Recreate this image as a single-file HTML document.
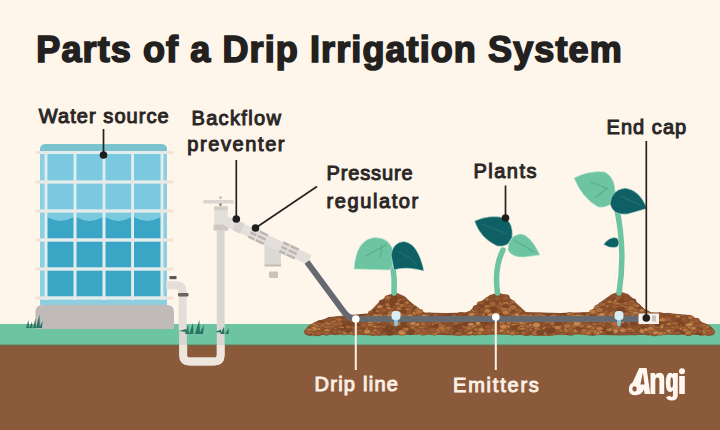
<!DOCTYPE html>
<html><head><meta charset="utf-8">
<style>
html,body{margin:0;padding:0;}
body{width:720px;height:430px;overflow:hidden;background:#FEF5EB;position:relative;font-family:"Liberation Sans",sans-serif;}
svg{position:absolute;left:0;top:0;}
</style></head><body>
<svg width="720" height="430" viewBox="0 0 720 430">
<defs><clipPath id="mc"><path d="M306.0 332.0 L310.0 326.0 L318.0 321.0 L330.0 317.0 L350.0 315.0 L368.0 313.5 L378.0 303.0 L388.0 295.0 L396.0 292.5 L404.0 296.0 L414.0 305.0 L424.0 312.5 L445.0 313.0 L468.0 312.5 L480.0 302.0 L490.0 295.0 L498.0 292.5 L506.0 295.0 L516.0 303.0 L526.0 312.0 L560.0 313.0 L590.0 312.0 L602.0 301.0 L612.0 294.0 L620.0 291.5 L628.0 294.0 L638.0 303.0 L648.0 312.0 L672.0 313.5 L690.0 315.0 L702.0 322.0 L711.0 328.0 L714.0 333.0 L714.0 333.0 L700.0 335.0 L660.0 334.5 L620.0 335.5 L580.0 334.5 L540.0 335.5 L500.0 334.5 L460.0 335.5 L420.0 334.5 L380.0 335.5 L340.0 334.5 L310.0 335.0 Z"/></clipPath></defs>
<rect x="0" y="0" width="720" height="430" fill="#FEF5EB"/>
<rect x="0" y="324" width="720" height="21" fill="#6DC4A1"/>
<rect x="0" y="345" width="720" height="85" fill="#8A5A3B"/>
<rect x="0" y="344.3" width="720" height="2" fill="#6A6B4C" opacity="0.6"/>

<!-- tank base -->
<path d="M35.5 329 V312 Q35.5 305 42.5 305 H167 Q174 305 174 312 V329 Z" fill="#C0BBB8"/>
<!-- tank frame -->
<path d="M40 305 V150 Q40 144 46 144 H161 Q167 144 167 150 V305 Z" fill="#8ECFDF"/>
<path d="M40 152 V150 Q40 144 46 144 H161 Q167 144 167 150 V152 Z" fill="#7CC3D0"/>
<rect x="47.4" y="153.9" width="26.2" height="26.7" fill="#7BC9DF"/>
<rect x="76.4" y="153.9" width="26.2" height="26.7" fill="#7BC9DF"/>
<rect x="105.4" y="153.9" width="25.8" height="26.7" fill="#7BC9DF"/>
<rect x="134.0" y="153.9" width="26.6" height="26.7" fill="#7BC9DF"/>
<rect x="47.4" y="183.4" width="26.2" height="26.2" fill="#7BC9DF"/>
<rect x="76.4" y="183.4" width="26.2" height="26.2" fill="#7BC9DF"/>
<rect x="105.4" y="183.4" width="25.8" height="26.2" fill="#7BC9DF"/>
<rect x="134.0" y="183.4" width="26.6" height="26.2" fill="#7BC9DF"/>
<rect x="47.4" y="212.4" width="26.2" height="26.2" fill="#7BC9DF"/>
<path d="M47.4 217.3 Q60.5 224.5 73.6 217.3 V238.6 H47.4 Z" fill="#3AA5C5"/>
<rect x="76.4" y="212.4" width="26.2" height="26.2" fill="#7BC9DF"/>
<path d="M76.4 217.3 Q89.5 224.5 102.6 217.3 V238.6 H76.4 Z" fill="#3AA5C5"/>
<rect x="105.4" y="212.4" width="25.8" height="26.2" fill="#7BC9DF"/>
<path d="M105.4 217.3 Q118.3 224.5 131.2 217.3 V238.6 H105.4 Z" fill="#3AA5C5"/>
<rect x="134.0" y="212.4" width="26.6" height="26.2" fill="#7BC9DF"/>
<path d="M134.0 217.3 Q147.3 224.5 160.6 217.3 V238.6 H134.0 Z" fill="#3AA5C5"/>
<rect x="47.4" y="241.4" width="26.2" height="26.2" fill="#3AA5C5"/>
<rect x="76.4" y="241.4" width="26.2" height="26.2" fill="#3AA5C5"/>
<rect x="105.4" y="241.4" width="25.8" height="26.2" fill="#3AA5C5"/>
<rect x="134.0" y="241.4" width="26.6" height="26.2" fill="#3AA5C5"/>
<rect x="47.4" y="270.4" width="26.2" height="26.2" fill="#3AA5C5"/>
<rect x="76.4" y="270.4" width="26.2" height="26.2" fill="#3AA5C5"/>
<rect x="105.4" y="270.4" width="25.8" height="26.2" fill="#3AA5C5"/>
<rect x="134.0" y="270.4" width="26.6" height="26.2" fill="#3AA5C5"/>
<rect x="35.5" y="151.1" width="138" height="2.8" fill="#F3E1D6"/>
<rect x="40" y="151.1" width="127" height="2.8" fill="#E0EEEF"/>
<rect x="35.5" y="180.6" width="138" height="2.8" fill="#F3E1D6"/>
<rect x="40" y="180.6" width="127" height="2.8" fill="#E0EEEF"/>
<rect x="35.5" y="209.6" width="138" height="2.8" fill="#F3E1D6"/>
<rect x="40" y="209.6" width="127" height="2.8" fill="#E0EEEF"/>
<rect x="35.5" y="238.6" width="138" height="2.8" fill="#F3E1D6"/>
<rect x="40" y="238.6" width="127" height="2.8" fill="#E0EEEF"/>
<rect x="35.5" y="267.6" width="138" height="2.8" fill="#F3E1D6"/>
<rect x="40" y="267.6" width="127" height="2.8" fill="#E0EEEF"/>
<rect x="35.5" y="296.6" width="138" height="2.8" fill="#F3E1D6"/>
<rect x="40" y="296.6" width="127" height="2.8" fill="#E0EEEF"/>
<rect x="44.6" y="151" width="2.8" height="149" fill="#E0EEEF"/>
<rect x="73.6" y="151" width="2.8" height="149" fill="#E0EEEF"/>
<rect x="102.6" y="151" width="2.8" height="149" fill="#E0EEEF"/>
<rect x="131.2" y="151" width="2.8" height="149" fill="#E0EEEF"/>
<rect x="160.6" y="151" width="2.8" height="149" fill="#E0EEEF"/>
<rect x="44.6" y="151.1" width="2.8" height="2.8" fill="#F2E3DC"/>
<rect x="44.6" y="180.6" width="2.8" height="2.8" fill="#F2E3DC"/>
<rect x="44.6" y="209.6" width="2.8" height="2.8" fill="#F2E3DC"/>
<rect x="44.6" y="238.6" width="2.8" height="2.8" fill="#F2E3DC"/>
<rect x="44.6" y="267.6" width="2.8" height="2.8" fill="#F2E3DC"/>
<rect x="44.6" y="296.6" width="2.8" height="2.8" fill="#F2E3DC"/>
<rect x="73.6" y="151.1" width="2.8" height="2.8" fill="#F2E3DC"/>
<rect x="73.6" y="180.6" width="2.8" height="2.8" fill="#F2E3DC"/>
<rect x="73.6" y="209.6" width="2.8" height="2.8" fill="#F2E3DC"/>
<rect x="73.6" y="238.6" width="2.8" height="2.8" fill="#F2E3DC"/>
<rect x="73.6" y="267.6" width="2.8" height="2.8" fill="#F2E3DC"/>
<rect x="73.6" y="296.6" width="2.8" height="2.8" fill="#F2E3DC"/>
<rect x="102.6" y="151.1" width="2.8" height="2.8" fill="#F2E3DC"/>
<rect x="102.6" y="180.6" width="2.8" height="2.8" fill="#F2E3DC"/>
<rect x="102.6" y="209.6" width="2.8" height="2.8" fill="#F2E3DC"/>
<rect x="102.6" y="238.6" width="2.8" height="2.8" fill="#F2E3DC"/>
<rect x="102.6" y="267.6" width="2.8" height="2.8" fill="#F2E3DC"/>
<rect x="102.6" y="296.6" width="2.8" height="2.8" fill="#F2E3DC"/>
<rect x="131.2" y="151.1" width="2.8" height="2.8" fill="#F2E3DC"/>
<rect x="131.2" y="180.6" width="2.8" height="2.8" fill="#F2E3DC"/>
<rect x="131.2" y="209.6" width="2.8" height="2.8" fill="#F2E3DC"/>
<rect x="131.2" y="238.6" width="2.8" height="2.8" fill="#F2E3DC"/>
<rect x="131.2" y="267.6" width="2.8" height="2.8" fill="#F2E3DC"/>
<rect x="131.2" y="296.6" width="2.8" height="2.8" fill="#F2E3DC"/>
<rect x="160.6" y="151.1" width="2.8" height="2.8" fill="#F2E3DC"/>
<rect x="160.6" y="180.6" width="2.8" height="2.8" fill="#F2E3DC"/>
<rect x="160.6" y="209.6" width="2.8" height="2.8" fill="#F2E3DC"/>
<rect x="160.6" y="238.6" width="2.8" height="2.8" fill="#F2E3DC"/>
<rect x="160.6" y="267.6" width="2.8" height="2.8" fill="#F2E3DC"/>
<rect x="160.6" y="296.6" width="2.8" height="2.8" fill="#F2E3DC"/>

<!-- tank outlet pipe -->
<rect x="169.5" y="276" width="7" height="3.2" fill="#5E5857"/>
<path d="M183 330 V355 Q183 361.5 189.8 361.5 H214.2 Q220.7 361.5 220.7 355 V225" fill="none" stroke="#DAD6D2" stroke-width="7.8"/>
<path d="M166 285.2 H176 Q182.6 285.2 182.6 291.8 V330" fill="none" stroke="#E3DED9" stroke-width="8"/>
<path d="M183.3 345 V355 Q183.3 361.5 189.8 361.5 H214.2 Q220.7 361.5 220.7 355 V345" fill="none" stroke="#EEE5DD" stroke-width="7.8"/>
<rect x="178" y="293" width="10.5" height="3.4" rx="1" fill="#6A6360"/>

<!-- faucet -->
<rect x="203" y="200" width="31" height="3.6" rx="1.5" fill="#DAD6D2"/>
<circle cx="220.5" cy="197.6" r="1.7" fill="#CFC9C4"/>
<rect x="214.3" y="206.5" width="13.4" height="24.5" rx="1.5" fill="#E3DFDB"/>
<rect x="214" y="206.3" width="14" height="4" rx="1.5" fill="#D3CEC9"/>
<circle cx="220.5" cy="204.6" r="1.4" fill="#8A827D"/>
<rect x="213.5" y="224.5" width="15" height="6" rx="1.5" fill="#CFC9C4"/>

<!-- diagonal pipe + regulator -->
<path d="M264.5 243 L281 250 V266 H264.5 Z" fill="#DCD8D4"/>
<rect x="264.5" y="264.5" width="16.5" height="2" fill="#C2BCB7"/>
<rect x="269" y="271.5" width="9" height="6.5" rx="1" fill="#C9C3BE"/>
<g transform="translate(226,221) rotate(25)">
  <rect x="0" y="-5" width="92" height="10" fill="#E3DFDB"/>
  <rect x="10" y="-5.6" width="8" height="11.2" fill="#D9D4D0"/>
  <g fill="#BDB7B2">
    <rect x="27" y="-6" width="17" height="2.6"/><rect x="27" y="-1.3" width="17" height="2.6"/><rect x="27" y="3.4" width="17" height="2.6"/>
    <rect x="33.5" y="-6" width="1.6" height="12" fill="#E3DFDB"/>
    <rect x="61" y="-6" width="17" height="2.6"/><rect x="61" y="-1.3" width="17" height="2.6"/><rect x="61" y="3.4" width="17" height="2.6"/>
    <rect x="67.5" y="-6" width="1.6" height="12" fill="#E3DFDB"/>
  </g>
</g>
<!-- hose -->


<!-- soil -->
<path d="M306.0 332.0 L310.0 326.0 L318.0 321.0 L330.0 317.0 L350.0 315.0 L368.0 313.5 L378.0 303.0 L388.0 295.0 L396.0 292.5 L404.0 296.0 L414.0 305.0 L424.0 312.5 L445.0 313.0 L468.0 312.5 L480.0 302.0 L490.0 295.0 L498.0 292.5 L506.0 295.0 L516.0 303.0 L526.0 312.0 L560.0 313.0 L590.0 312.0 L602.0 301.0 L612.0 294.0 L620.0 291.5 L628.0 294.0 L638.0 303.0 L648.0 312.0 L672.0 313.5 L690.0 315.0 L702.0 322.0 L711.0 328.0 L714.0 333.0 L714.0 333.0 L700.0 335.0 L660.0 334.5 L620.0 335.5 L580.0 334.5 L540.0 335.5 L500.0 334.5 L460.0 335.5 L420.0 334.5 L380.0 335.5 L340.0 334.5 L310.0 335.0 Z" fill="#8A5230"/>
<g>
<ellipse cx="438.8" cy="317.8" rx="3.5" ry="2.0" fill="#A0623A" stroke="#74401F" stroke-width="0.5"/>
<ellipse cx="455.7" cy="316.0" rx="3.3" ry="1.8" fill="#BC7C48" stroke="#74401F" stroke-width="0.5"/>
<ellipse cx="476.9" cy="313.3" rx="3.4" ry="1.9" fill="#A0623A" stroke="#74401F" stroke-width="0.5"/>
<ellipse cx="690.8" cy="327.6" rx="3.4" ry="1.9" fill="#BC7C48" stroke="#74401F" stroke-width="0.5"/>
<ellipse cx="328.0" cy="322.9" rx="3.4" ry="1.9" fill="#BC7C48" stroke="#74401F" stroke-width="0.5"/>
<ellipse cx="366.3" cy="317.9" rx="3.0" ry="2.2" fill="#C4854F" stroke="#74401F" stroke-width="0.5"/>
<ellipse cx="349.6" cy="326.5" rx="2.9" ry="1.6" fill="#A0623A" stroke="#74401F" stroke-width="0.5"/>
<ellipse cx="536.0" cy="326.3" rx="3.3" ry="2.2" fill="#7C4627" stroke="#74401F" stroke-width="0.5"/>
<ellipse cx="496.1" cy="330.6" rx="3.1" ry="1.9" fill="#C4854F" stroke="#74401F" stroke-width="0.5"/>
<ellipse cx="590.4" cy="318.6" rx="3.4" ry="2.2" fill="#7C4627" stroke="#74401F" stroke-width="0.5"/>
<ellipse cx="602.7" cy="311.6" rx="4.0" ry="2.3" fill="#BC7C48" stroke="#74401F" stroke-width="0.5"/>
<ellipse cx="374.6" cy="317.2" rx="3.9" ry="2.5" fill="#A0623A" stroke="#74401F" stroke-width="0.5"/>
<ellipse cx="616.9" cy="316.9" rx="3.8" ry="2.3" fill="#7C4627" stroke="#74401F" stroke-width="0.5"/>
<ellipse cx="548.1" cy="325.7" rx="3.2" ry="2.3" fill="#AC6C40" stroke="#74401F" stroke-width="0.5"/>
<ellipse cx="499.5" cy="320.6" rx="2.7" ry="1.9" fill="#9A5B33" stroke="#74401F" stroke-width="0.5"/>
<ellipse cx="423.0" cy="321.5" rx="3.5" ry="2.0" fill="#9A5B33" stroke="#74401F" stroke-width="0.5"/>
<ellipse cx="451.6" cy="326.3" rx="3.3" ry="2.0" fill="#AC6C40" stroke="#74401F" stroke-width="0.5"/>
<ellipse cx="360.3" cy="320.6" rx="3.1" ry="2.3" fill="#A0623A" stroke="#74401F" stroke-width="0.5"/>
<ellipse cx="375.2" cy="318.3" rx="3.0" ry="1.7" fill="#BC7C48" stroke="#74401F" stroke-width="0.5"/>
<ellipse cx="657.0" cy="320.0" rx="3.2" ry="2.0" fill="#BC7C48" stroke="#74401F" stroke-width="0.5"/>
<ellipse cx="694.9" cy="322.1" rx="2.8" ry="1.7" fill="#8E522D" stroke="#74401F" stroke-width="0.5"/>
<ellipse cx="312.9" cy="332.3" rx="2.9" ry="1.7" fill="#C4854F" stroke="#74401F" stroke-width="0.5"/>
<ellipse cx="477.3" cy="316.5" rx="3.4" ry="2.5" fill="#B3723F" stroke="#74401F" stroke-width="0.5"/>
<ellipse cx="492.5" cy="328.7" rx="3.9" ry="2.7" fill="#BC7C48" stroke="#74401F" stroke-width="0.5"/>
<ellipse cx="468.8" cy="321.7" rx="3.3" ry="2.1" fill="#8E522D" stroke="#74401F" stroke-width="0.5"/>
<ellipse cx="335.2" cy="321.8" rx="2.8" ry="1.7" fill="#B3723F" stroke="#74401F" stroke-width="0.5"/>
<ellipse cx="349.4" cy="326.5" rx="3.4" ry="2.5" fill="#B3723F" stroke="#74401F" stroke-width="0.5"/>
<ellipse cx="336.4" cy="321.7" rx="3.1" ry="2.1" fill="#7C4627" stroke="#74401F" stroke-width="0.5"/>
<ellipse cx="551.3" cy="323.7" rx="2.8" ry="1.8" fill="#9A5B33" stroke="#74401F" stroke-width="0.5"/>
<ellipse cx="502.1" cy="307.7" rx="2.8" ry="2.0" fill="#AC6C40" stroke="#74401F" stroke-width="0.5"/>
<ellipse cx="501.4" cy="321.9" rx="3.3" ry="2.0" fill="#7C4627" stroke="#74401F" stroke-width="0.5"/>
<ellipse cx="367.2" cy="325.4" rx="2.6" ry="1.7" fill="#A0623A" stroke="#74401F" stroke-width="0.5"/>
<ellipse cx="589.3" cy="319.3" rx="3.1" ry="1.8" fill="#8E522D" stroke="#74401F" stroke-width="0.5"/>
<ellipse cx="523.2" cy="328.7" rx="3.1" ry="1.8" fill="#8E522D" stroke="#74401F" stroke-width="0.5"/>
<ellipse cx="633.7" cy="327.6" rx="3.6" ry="2.2" fill="#9A5B33" stroke="#74401F" stroke-width="0.5"/>
<ellipse cx="451.6" cy="315.6" rx="2.6" ry="1.6" fill="#AC6C40" stroke="#74401F" stroke-width="0.5"/>
<ellipse cx="386.2" cy="319.7" rx="3.1" ry="2.2" fill="#7C4627" stroke="#74401F" stroke-width="0.5"/>
<ellipse cx="693.8" cy="324.6" rx="2.9" ry="1.7" fill="#8E522D" stroke="#74401F" stroke-width="0.5"/>
<ellipse cx="444.4" cy="324.0" rx="4.0" ry="2.7" fill="#B3723F" stroke="#74401F" stroke-width="0.5"/>
<ellipse cx="501.7" cy="320.4" rx="3.7" ry="2.1" fill="#A0623A" stroke="#74401F" stroke-width="0.5"/>
<ellipse cx="675.5" cy="329.7" rx="3.7" ry="2.4" fill="#C4854F" stroke="#74401F" stroke-width="0.5"/>
<ellipse cx="483.3" cy="322.0" rx="2.7" ry="2.0" fill="#BC7C48" stroke="#74401F" stroke-width="0.5"/>
<ellipse cx="495.1" cy="323.8" rx="2.7" ry="1.6" fill="#C4854F" stroke="#74401F" stroke-width="0.5"/>
<ellipse cx="319.1" cy="329.1" rx="3.3" ry="2.2" fill="#9A5B33" stroke="#74401F" stroke-width="0.5"/>
<ellipse cx="573.5" cy="321.3" rx="3.4" ry="1.9" fill="#B3723F" stroke="#74401F" stroke-width="0.5"/>
<ellipse cx="630.9" cy="324.0" rx="2.7" ry="1.9" fill="#C4854F" stroke="#74401F" stroke-width="0.5"/>
<ellipse cx="483.3" cy="329.4" rx="3.8" ry="2.2" fill="#AC6C40" stroke="#74401F" stroke-width="0.5"/>
<ellipse cx="394.0" cy="314.5" rx="3.7" ry="2.3" fill="#BC7C48" stroke="#74401F" stroke-width="0.5"/>
<ellipse cx="645.0" cy="312.9" rx="3.6" ry="2.7" fill="#BC7C48" stroke="#74401F" stroke-width="0.5"/>
<ellipse cx="642.2" cy="330.5" rx="2.8" ry="1.6" fill="#B3723F" stroke="#74401F" stroke-width="0.5"/>
<ellipse cx="660.6" cy="329.4" rx="3.5" ry="2.4" fill="#C4854F" stroke="#74401F" stroke-width="0.5"/>
<ellipse cx="377.6" cy="318.8" rx="3.6" ry="2.4" fill="#7C4627" stroke="#74401F" stroke-width="0.5"/>
<ellipse cx="583.7" cy="324.5" rx="3.3" ry="2.3" fill="#B3723F" stroke="#74401F" stroke-width="0.5"/>
<ellipse cx="408.4" cy="310.8" rx="3.7" ry="2.4" fill="#B3723F" stroke="#74401F" stroke-width="0.5"/>
<ellipse cx="615.0" cy="330.2" rx="3.2" ry="2.2" fill="#8E522D" stroke="#74401F" stroke-width="0.5"/>
<ellipse cx="587.9" cy="323.0" rx="3.3" ry="2.2" fill="#8E522D" stroke="#74401F" stroke-width="0.5"/>
<ellipse cx="590.5" cy="331.1" rx="3.9" ry="2.4" fill="#8E522D" stroke="#74401F" stroke-width="0.5"/>
<ellipse cx="647.4" cy="316.3" rx="2.8" ry="1.8" fill="#A0623A" stroke="#74401F" stroke-width="0.5"/>
<ellipse cx="579.1" cy="322.7" rx="2.9" ry="1.8" fill="#A0623A" stroke="#74401F" stroke-width="0.5"/>
<ellipse cx="670.4" cy="318.4" rx="3.6" ry="2.5" fill="#C4854F" stroke="#74401F" stroke-width="0.5"/>
<ellipse cx="410.3" cy="307.9" rx="3.3" ry="2.3" fill="#A0623A" stroke="#74401F" stroke-width="0.5"/>
<ellipse cx="468.9" cy="323.5" rx="4.0" ry="2.9" fill="#C4854F" stroke="#74401F" stroke-width="0.5"/>
<ellipse cx="593.4" cy="333.4" rx="3.2" ry="2.0" fill="#7C4627" stroke="#74401F" stroke-width="0.5"/>
<ellipse cx="436.7" cy="328.4" rx="2.6" ry="1.7" fill="#9A5B33" stroke="#74401F" stroke-width="0.5"/>
<ellipse cx="592.1" cy="320.4" rx="3.3" ry="2.0" fill="#A0623A" stroke="#74401F" stroke-width="0.5"/>
<ellipse cx="353.6" cy="332.1" rx="2.9" ry="2.1" fill="#A0623A" stroke="#74401F" stroke-width="0.5"/>
<ellipse cx="415.3" cy="309.2" rx="3.7" ry="2.2" fill="#C4854F" stroke="#74401F" stroke-width="0.5"/>
<ellipse cx="639.2" cy="329.4" rx="3.5" ry="2.6" fill="#BC7C48" stroke="#74401F" stroke-width="0.5"/>
<ellipse cx="368.3" cy="332.0" rx="3.4" ry="2.3" fill="#A0623A" stroke="#74401F" stroke-width="0.5"/>
<ellipse cx="420.7" cy="329.2" rx="2.9" ry="2.1" fill="#AC6C40" stroke="#74401F" stroke-width="0.5"/>
<ellipse cx="687.1" cy="327.5" rx="3.7" ry="2.1" fill="#8E522D" stroke="#74401F" stroke-width="0.5"/>
<ellipse cx="334.9" cy="331.5" rx="3.2" ry="2.0" fill="#BC7C48" stroke="#74401F" stroke-width="0.5"/>
<ellipse cx="682.4" cy="321.1" rx="2.8" ry="1.8" fill="#8E522D" stroke="#74401F" stroke-width="0.5"/>
<ellipse cx="687.0" cy="333.0" rx="3.0" ry="1.7" fill="#AC6C40" stroke="#74401F" stroke-width="0.5"/>
<ellipse cx="562.0" cy="324.9" rx="2.9" ry="1.8" fill="#C4854F" stroke="#74401F" stroke-width="0.5"/>
<ellipse cx="417.3" cy="328.8" rx="4.0" ry="2.2" fill="#B3723F" stroke="#74401F" stroke-width="0.5"/>
<ellipse cx="604.2" cy="319.2" rx="2.9" ry="1.8" fill="#9A5B33" stroke="#74401F" stroke-width="0.5"/>
<ellipse cx="350.9" cy="330.5" rx="3.2" ry="2.1" fill="#BC7C48" stroke="#74401F" stroke-width="0.5"/>
<ellipse cx="700.0" cy="326.3" rx="2.9" ry="1.7" fill="#8E522D" stroke="#74401F" stroke-width="0.5"/>
<ellipse cx="644.2" cy="326.8" rx="3.5" ry="2.2" fill="#7C4627" stroke="#74401F" stroke-width="0.5"/>
<ellipse cx="704.7" cy="332.3" rx="2.6" ry="1.8" fill="#AC6C40" stroke="#74401F" stroke-width="0.5"/>
<ellipse cx="482.0" cy="304.5" rx="3.5" ry="2.2" fill="#AC6C40" stroke="#74401F" stroke-width="0.5"/>
<ellipse cx="549.9" cy="327.8" rx="2.7" ry="1.6" fill="#AC6C40" stroke="#74401F" stroke-width="0.5"/>
<ellipse cx="488.1" cy="307.7" rx="3.9" ry="2.9" fill="#7C4627" stroke="#74401F" stroke-width="0.5"/>
<ellipse cx="406.8" cy="332.4" rx="3.0" ry="1.9" fill="#B3723F" stroke="#74401F" stroke-width="0.5"/>
<ellipse cx="443.5" cy="316.7" rx="3.0" ry="2.0" fill="#8E522D" stroke="#74401F" stroke-width="0.5"/>
<ellipse cx="511.9" cy="302.1" rx="3.0" ry="1.7" fill="#BC7C48" stroke="#74401F" stroke-width="0.5"/>
<ellipse cx="545.1" cy="322.1" rx="3.0" ry="2.0" fill="#A0623A" stroke="#74401F" stroke-width="0.5"/>
<ellipse cx="544.6" cy="324.7" rx="3.7" ry="2.5" fill="#BC7C48" stroke="#74401F" stroke-width="0.5"/>
<ellipse cx="616.8" cy="322.7" rx="3.3" ry="2.0" fill="#C4854F" stroke="#74401F" stroke-width="0.5"/>
<ellipse cx="325.7" cy="331.4" rx="3.8" ry="2.6" fill="#C4854F" stroke="#74401F" stroke-width="0.5"/>
<ellipse cx="675.6" cy="329.2" rx="3.4" ry="2.4" fill="#B3723F" stroke="#74401F" stroke-width="0.5"/>
<ellipse cx="641.9" cy="323.2" rx="3.8" ry="2.6" fill="#8E522D" stroke="#74401F" stroke-width="0.5"/>
<ellipse cx="342.4" cy="318.6" rx="3.5" ry="2.6" fill="#BC7C48" stroke="#74401F" stroke-width="0.5"/>
<ellipse cx="645.7" cy="324.1" rx="3.5" ry="2.3" fill="#8E522D" stroke="#74401F" stroke-width="0.5"/>
<ellipse cx="505.7" cy="297.2" rx="3.7" ry="2.6" fill="#A0623A" stroke="#74401F" stroke-width="0.5"/>
<ellipse cx="574.4" cy="316.0" rx="3.6" ry="2.2" fill="#A0623A" stroke="#74401F" stroke-width="0.5"/>
<ellipse cx="649.8" cy="318.8" rx="3.7" ry="2.2" fill="#9A5B33" stroke="#74401F" stroke-width="0.5"/>
<ellipse cx="507.6" cy="311.9" rx="3.3" ry="2.2" fill="#B3723F" stroke="#74401F" stroke-width="0.5"/>
<ellipse cx="557.3" cy="326.9" rx="2.7" ry="1.6" fill="#AC6C40" stroke="#74401F" stroke-width="0.5"/>
<ellipse cx="571.2" cy="327.8" rx="3.5" ry="2.0" fill="#9A5B33" stroke="#74401F" stroke-width="0.5"/>
<ellipse cx="332.5" cy="322.9" rx="3.5" ry="2.4" fill="#9A5B33" stroke="#74401F" stroke-width="0.5"/>
<ellipse cx="425.5" cy="324.4" rx="3.3" ry="2.1" fill="#A0623A" stroke="#74401F" stroke-width="0.5"/>
<ellipse cx="709.3" cy="331.5" rx="3.0" ry="1.7" fill="#9A5B33" stroke="#74401F" stroke-width="0.5"/>
<ellipse cx="315.1" cy="328.9" rx="3.7" ry="2.8" fill="#9A5B33" stroke="#74401F" stroke-width="0.5"/>
<ellipse cx="709.6" cy="330.9" rx="3.9" ry="2.9" fill="#A0623A" stroke="#74401F" stroke-width="0.5"/>
<ellipse cx="542.9" cy="317.4" rx="3.3" ry="2.5" fill="#C4854F" stroke="#74401F" stroke-width="0.5"/>
<ellipse cx="551.8" cy="326.7" rx="3.0" ry="1.7" fill="#7C4627" stroke="#74401F" stroke-width="0.5"/>
<ellipse cx="401.5" cy="329.8" rx="3.3" ry="1.8" fill="#B3723F" stroke="#74401F" stroke-width="0.5"/>
<ellipse cx="691.8" cy="328.6" rx="3.2" ry="2.2" fill="#BC7C48" stroke="#74401F" stroke-width="0.5"/>
<ellipse cx="447.0" cy="321.0" rx="3.8" ry="2.1" fill="#7C4627" stroke="#74401F" stroke-width="0.5"/>
<ellipse cx="647.0" cy="315.7" rx="3.9" ry="2.7" fill="#AC6C40" stroke="#74401F" stroke-width="0.5"/>
<ellipse cx="410.3" cy="305.8" rx="3.1" ry="2.3" fill="#A0623A" stroke="#74401F" stroke-width="0.5"/>
<ellipse cx="453.7" cy="322.9" rx="3.0" ry="1.7" fill="#A0623A" stroke="#74401F" stroke-width="0.5"/>
<ellipse cx="328.9" cy="328.8" rx="3.5" ry="2.0" fill="#AC6C40" stroke="#74401F" stroke-width="0.5"/>
<ellipse cx="484.2" cy="311.4" rx="3.7" ry="2.6" fill="#BC7C48" stroke="#74401F" stroke-width="0.5"/>
<ellipse cx="665.2" cy="330.1" rx="3.5" ry="2.6" fill="#8E522D" stroke="#74401F" stroke-width="0.5"/>
<ellipse cx="598.7" cy="307.6" rx="3.6" ry="2.3" fill="#C4854F" stroke="#74401F" stroke-width="0.5"/>
<ellipse cx="568.4" cy="320.2" rx="2.7" ry="2.0" fill="#C4854F" stroke="#74401F" stroke-width="0.5"/>
<ellipse cx="377.0" cy="317.6" rx="3.0" ry="1.8" fill="#AC6C40" stroke="#74401F" stroke-width="0.5"/>
<ellipse cx="472.1" cy="316.4" rx="3.3" ry="2.2" fill="#A0623A" stroke="#74401F" stroke-width="0.5"/>
<ellipse cx="375.6" cy="311.9" rx="2.9" ry="2.1" fill="#9A5B33" stroke="#74401F" stroke-width="0.5"/>
<ellipse cx="530.4" cy="323.0" rx="3.1" ry="2.2" fill="#BC7C48" stroke="#74401F" stroke-width="0.5"/>
<ellipse cx="364.4" cy="319.4" rx="2.7" ry="1.7" fill="#A0623A" stroke="#74401F" stroke-width="0.5"/>
<ellipse cx="437.0" cy="321.8" rx="3.7" ry="2.2" fill="#B3723F" stroke="#74401F" stroke-width="0.5"/>
<ellipse cx="610.9" cy="312.1" rx="3.2" ry="2.1" fill="#BC7C48" stroke="#74401F" stroke-width="0.5"/>
<ellipse cx="417.2" cy="327.6" rx="3.3" ry="2.2" fill="#7C4627" stroke="#74401F" stroke-width="0.5"/>
<ellipse cx="358.9" cy="325.0" rx="3.5" ry="2.5" fill="#8E522D" stroke="#74401F" stroke-width="0.5"/>
<ellipse cx="345.4" cy="331.9" rx="3.1" ry="2.1" fill="#BC7C48" stroke="#74401F" stroke-width="0.5"/>
<ellipse cx="693.4" cy="331.3" rx="3.8" ry="2.1" fill="#B3723F" stroke="#74401F" stroke-width="0.5"/>
<ellipse cx="479.8" cy="326.6" rx="3.7" ry="2.8" fill="#9A5B33" stroke="#74401F" stroke-width="0.5"/>
<ellipse cx="308.1" cy="332.0" rx="3.9" ry="2.8" fill="#9A5B33" stroke="#74401F" stroke-width="0.5"/>
<ellipse cx="700.8" cy="326.0" rx="2.8" ry="1.6" fill="#A0623A" stroke="#74401F" stroke-width="0.5"/>
<ellipse cx="688.4" cy="328.9" rx="3.5" ry="2.5" fill="#9A5B33" stroke="#74401F" stroke-width="0.5"/>
<ellipse cx="342.3" cy="330.0" rx="2.6" ry="1.5" fill="#B3723F" stroke="#74401F" stroke-width="0.5"/>
<ellipse cx="568.8" cy="320.6" rx="2.8" ry="1.7" fill="#BC7C48" stroke="#74401F" stroke-width="0.5"/>
<ellipse cx="590.2" cy="316.2" rx="2.7" ry="1.8" fill="#8E522D" stroke="#74401F" stroke-width="0.5"/>
<ellipse cx="464.8" cy="319.0" rx="3.4" ry="1.9" fill="#AC6C40" stroke="#74401F" stroke-width="0.5"/>
<ellipse cx="710.5" cy="330.9" rx="3.0" ry="2.2" fill="#8E522D" stroke="#74401F" stroke-width="0.5"/>
<ellipse cx="500.0" cy="304.3" rx="2.9" ry="2.2" fill="#AC6C40" stroke="#74401F" stroke-width="0.5"/>
<ellipse cx="330.3" cy="321.9" rx="3.8" ry="2.6" fill="#A0623A" stroke="#74401F" stroke-width="0.5"/>
<ellipse cx="411.9" cy="324.1" rx="3.9" ry="2.3" fill="#B3723F" stroke="#74401F" stroke-width="0.5"/>
<ellipse cx="589.1" cy="328.1" rx="3.1" ry="2.0" fill="#B3723F" stroke="#74401F" stroke-width="0.5"/>
<ellipse cx="630.0" cy="324.2" rx="3.3" ry="2.0" fill="#8E522D" stroke="#74401F" stroke-width="0.5"/>
<ellipse cx="433.9" cy="330.2" rx="2.9" ry="1.7" fill="#AC6C40" stroke="#74401F" stroke-width="0.5"/>
<ellipse cx="352.0" cy="327.3" rx="3.5" ry="2.5" fill="#9A5B33" stroke="#74401F" stroke-width="0.5"/>
<ellipse cx="476.5" cy="324.7" rx="3.9" ry="2.3" fill="#BC7C48" stroke="#74401F" stroke-width="0.5"/>
<ellipse cx="330.0" cy="319.6" rx="3.4" ry="2.2" fill="#B3723F" stroke="#74401F" stroke-width="0.5"/>
<ellipse cx="382.4" cy="316.0" rx="3.6" ry="2.2" fill="#A0623A" stroke="#74401F" stroke-width="0.5"/>
<ellipse cx="711.0" cy="333.3" rx="3.1" ry="1.8" fill="#9A5B33" stroke="#74401F" stroke-width="0.5"/>
<ellipse cx="320.9" cy="329.7" rx="3.1" ry="2.0" fill="#7C4627" stroke="#74401F" stroke-width="0.5"/>
<ellipse cx="486.7" cy="303.2" rx="2.7" ry="1.5" fill="#BC7C48" stroke="#74401F" stroke-width="0.5"/>
<ellipse cx="694.0" cy="321.3" rx="3.9" ry="2.3" fill="#7C4627" stroke="#74401F" stroke-width="0.5"/>
<ellipse cx="618.6" cy="306.3" rx="3.7" ry="2.1" fill="#9A5B33" stroke="#74401F" stroke-width="0.5"/>
<ellipse cx="387.1" cy="317.2" rx="3.2" ry="2.0" fill="#9A5B33" stroke="#74401F" stroke-width="0.5"/>
<ellipse cx="320.2" cy="327.0" rx="3.7" ry="2.6" fill="#B3723F" stroke="#74401F" stroke-width="0.5"/>
<ellipse cx="459.7" cy="323.5" rx="3.7" ry="2.1" fill="#8E522D" stroke="#74401F" stroke-width="0.5"/>
<ellipse cx="609.9" cy="329.9" rx="3.1" ry="1.9" fill="#B3723F" stroke="#74401F" stroke-width="0.5"/>
<ellipse cx="413.9" cy="326.0" rx="3.0" ry="1.8" fill="#B3723F" stroke="#74401F" stroke-width="0.5"/>
<ellipse cx="599.5" cy="322.2" rx="3.7" ry="2.8" fill="#A0623A" stroke="#74401F" stroke-width="0.5"/>
<ellipse cx="317.8" cy="325.7" rx="3.3" ry="2.4" fill="#BC7C48" stroke="#74401F" stroke-width="0.5"/>
<ellipse cx="627.1" cy="330.3" rx="3.7" ry="2.2" fill="#9A5B33" stroke="#74401F" stroke-width="0.5"/>
<ellipse cx="381.9" cy="327.3" rx="3.6" ry="2.6" fill="#C4854F" stroke="#74401F" stroke-width="0.5"/>
<ellipse cx="553.3" cy="321.1" rx="3.0" ry="1.9" fill="#A0623A" stroke="#74401F" stroke-width="0.5"/>
<ellipse cx="514.8" cy="315.7" rx="2.8" ry="1.8" fill="#B3723F" stroke="#74401F" stroke-width="0.5"/>
<ellipse cx="502.6" cy="316.5" rx="2.8" ry="1.8" fill="#A0623A" stroke="#74401F" stroke-width="0.5"/>
<ellipse cx="707.1" cy="329.2" rx="2.7" ry="1.5" fill="#9A5B33" stroke="#74401F" stroke-width="0.5"/>
<ellipse cx="707.3" cy="333.3" rx="2.8" ry="1.6" fill="#9A5B33" stroke="#74401F" stroke-width="0.5"/>
<ellipse cx="558.6" cy="327.5" rx="3.6" ry="2.6" fill="#A0623A" stroke="#74401F" stroke-width="0.5"/>
<ellipse cx="623.0" cy="306.1" rx="3.0" ry="1.8" fill="#AC6C40" stroke="#74401F" stroke-width="0.5"/>
<ellipse cx="606.2" cy="306.9" rx="2.9" ry="1.8" fill="#C4854F" stroke="#74401F" stroke-width="0.5"/>
<ellipse cx="421.7" cy="331.6" rx="2.9" ry="1.6" fill="#AC6C40" stroke="#74401F" stroke-width="0.5"/>
<ellipse cx="708.9" cy="331.2" rx="2.9" ry="2.1" fill="#9A5B33" stroke="#74401F" stroke-width="0.5"/>
<ellipse cx="708.3" cy="328.9" rx="3.3" ry="2.3" fill="#9A5B33" stroke="#74401F" stroke-width="0.5"/>
<ellipse cx="677.4" cy="316.9" rx="3.0" ry="1.7" fill="#8E522D" stroke="#74401F" stroke-width="0.5"/>
<ellipse cx="550.6" cy="330.3" rx="2.9" ry="1.6" fill="#C4854F" stroke="#74401F" stroke-width="0.5"/>
<ellipse cx="489.4" cy="306.9" rx="3.7" ry="2.7" fill="#A0623A" stroke="#74401F" stroke-width="0.5"/>
<ellipse cx="565.5" cy="328.1" rx="3.1" ry="1.7" fill="#7C4627" stroke="#74401F" stroke-width="0.5"/>
<ellipse cx="365.1" cy="319.5" rx="3.0" ry="2.0" fill="#8E522D" stroke="#74401F" stroke-width="0.5"/>
<ellipse cx="637.2" cy="328.2" rx="3.2" ry="2.0" fill="#AC6C40" stroke="#74401F" stroke-width="0.5"/>
<ellipse cx="339.5" cy="318.7" rx="3.3" ry="2.1" fill="#BC7C48" stroke="#74401F" stroke-width="0.5"/>
<ellipse cx="349.0" cy="323.7" rx="3.4" ry="2.3" fill="#A0623A" stroke="#74401F" stroke-width="0.5"/>
<ellipse cx="571.8" cy="322.2" rx="3.0" ry="2.2" fill="#AC6C40" stroke="#74401F" stroke-width="0.5"/>
<ellipse cx="476.8" cy="308.4" rx="3.6" ry="2.6" fill="#BC7C48" stroke="#74401F" stroke-width="0.5"/>
<ellipse cx="476.2" cy="330.0" rx="4.0" ry="2.5" fill="#8E522D" stroke="#74401F" stroke-width="0.5"/>
<ellipse cx="465.9" cy="322.3" rx="3.9" ry="2.5" fill="#C4854F" stroke="#74401F" stroke-width="0.5"/>
<ellipse cx="479.2" cy="328.4" rx="3.2" ry="2.3" fill="#9A5B33" stroke="#74401F" stroke-width="0.5"/>
<ellipse cx="620.3" cy="299.0" rx="2.7" ry="1.5" fill="#BC7C48" stroke="#74401F" stroke-width="0.5"/>
<ellipse cx="344.0" cy="327.6" rx="3.1" ry="2.0" fill="#C4854F" stroke="#74401F" stroke-width="0.5"/>
<ellipse cx="448.6" cy="318.1" rx="2.8" ry="1.6" fill="#BC7C48" stroke="#74401F" stroke-width="0.5"/>
<ellipse cx="506.2" cy="326.4" rx="4.0" ry="2.3" fill="#C4854F" stroke="#74401F" stroke-width="0.5"/>
<ellipse cx="646.3" cy="313.5" rx="3.9" ry="2.4" fill="#BC7C48" stroke="#74401F" stroke-width="0.5"/>
<ellipse cx="342.9" cy="329.0" rx="3.6" ry="2.6" fill="#8E522D" stroke="#74401F" stroke-width="0.5"/>
<ellipse cx="558.9" cy="326.4" rx="2.9" ry="1.9" fill="#8E522D" stroke="#74401F" stroke-width="0.5"/>
<ellipse cx="324.9" cy="332.7" rx="2.8" ry="1.8" fill="#C4854F" stroke="#74401F" stroke-width="0.5"/>
<ellipse cx="407.8" cy="324.7" rx="3.9" ry="2.2" fill="#B3723F" stroke="#74401F" stroke-width="0.5"/>
<ellipse cx="577.8" cy="320.7" rx="3.1" ry="2.0" fill="#AC6C40" stroke="#74401F" stroke-width="0.5"/>
<ellipse cx="570.2" cy="320.6" rx="2.9" ry="1.9" fill="#7C4627" stroke="#74401F" stroke-width="0.5"/>
<ellipse cx="488.5" cy="313.7" rx="2.6" ry="1.8" fill="#9A5B33" stroke="#74401F" stroke-width="0.5"/>
<ellipse cx="496.0" cy="312.4" rx="3.5" ry="2.5" fill="#C4854F" stroke="#74401F" stroke-width="0.5"/>
<ellipse cx="635.5" cy="315.2" rx="2.7" ry="1.7" fill="#7C4627" stroke="#74401F" stroke-width="0.5"/>
<ellipse cx="345.1" cy="324.7" rx="3.3" ry="1.8" fill="#C4854F" stroke="#74401F" stroke-width="0.5"/>
<ellipse cx="341.2" cy="329.4" rx="3.7" ry="2.4" fill="#B3723F" stroke="#74401F" stroke-width="0.5"/>
<ellipse cx="611.8" cy="329.6" rx="3.5" ry="2.5" fill="#B3723F" stroke="#74401F" stroke-width="0.5"/>
<ellipse cx="654.3" cy="333.4" rx="3.6" ry="2.6" fill="#8E522D" stroke="#74401F" stroke-width="0.5"/>
<ellipse cx="361.2" cy="331.5" rx="3.0" ry="2.1" fill="#C4854F" stroke="#74401F" stroke-width="0.5"/>
<ellipse cx="585.2" cy="328.2" rx="2.9" ry="2.1" fill="#AC6C40" stroke="#74401F" stroke-width="0.5"/>
<ellipse cx="372.1" cy="331.2" rx="3.0" ry="2.1" fill="#C4854F" stroke="#74401F" stroke-width="0.5"/>
<ellipse cx="410.7" cy="332.5" rx="3.3" ry="2.2" fill="#8E522D" stroke="#74401F" stroke-width="0.5"/>
<ellipse cx="436.9" cy="315.7" rx="2.9" ry="1.7" fill="#AC6C40" stroke="#74401F" stroke-width="0.5"/>
<ellipse cx="582.6" cy="331.5" rx="2.8" ry="2.0" fill="#A0623A" stroke="#74401F" stroke-width="0.5"/>
<ellipse cx="618.4" cy="296.1" rx="3.8" ry="2.8" fill="#9A5B33" stroke="#74401F" stroke-width="0.5"/>
<ellipse cx="532.3" cy="325.5" rx="3.8" ry="2.2" fill="#BC7C48" stroke="#74401F" stroke-width="0.5"/>
<ellipse cx="606.1" cy="312.6" rx="3.1" ry="1.9" fill="#C4854F" stroke="#74401F" stroke-width="0.5"/>
<ellipse cx="453.5" cy="329.1" rx="3.2" ry="1.9" fill="#B3723F" stroke="#74401F" stroke-width="0.5"/>
<ellipse cx="427.7" cy="324.4" rx="3.0" ry="2.3" fill="#7C4627" stroke="#74401F" stroke-width="0.5"/>
<ellipse cx="604.1" cy="325.5" rx="2.9" ry="1.8" fill="#BC7C48" stroke="#74401F" stroke-width="0.5"/>
<ellipse cx="476.7" cy="316.7" rx="2.7" ry="1.7" fill="#B3723F" stroke="#74401F" stroke-width="0.5"/>
<ellipse cx="317.0" cy="323.8" rx="3.1" ry="1.8" fill="#7C4627" stroke="#74401F" stroke-width="0.5"/>
<ellipse cx="523.8" cy="321.0" rx="3.0" ry="1.7" fill="#7C4627" stroke="#74401F" stroke-width="0.5"/>
<ellipse cx="560.1" cy="323.9" rx="2.8" ry="2.1" fill="#8E522D" stroke="#74401F" stroke-width="0.5"/>
<ellipse cx="593.8" cy="321.0" rx="2.7" ry="1.6" fill="#AC6C40" stroke="#74401F" stroke-width="0.5"/>
<ellipse cx="470.4" cy="318.1" rx="2.6" ry="1.8" fill="#7C4627" stroke="#74401F" stroke-width="0.5"/>
<ellipse cx="548.3" cy="325.6" rx="3.4" ry="2.2" fill="#9A5B33" stroke="#74401F" stroke-width="0.5"/>
<ellipse cx="408.4" cy="330.5" rx="2.7" ry="1.7" fill="#BC7C48" stroke="#74401F" stroke-width="0.5"/>
<ellipse cx="383.0" cy="306.3" rx="3.9" ry="2.2" fill="#8E522D" stroke="#74401F" stroke-width="0.5"/>
<ellipse cx="365.5" cy="319.4" rx="3.5" ry="2.2" fill="#BC7C48" stroke="#74401F" stroke-width="0.5"/>
<ellipse cx="636.6" cy="309.1" rx="3.0" ry="1.9" fill="#B3723F" stroke="#74401F" stroke-width="0.5"/>
<ellipse cx="709.6" cy="332.3" rx="3.3" ry="2.2" fill="#BC7C48" stroke="#74401F" stroke-width="0.5"/>
<ellipse cx="649.2" cy="328.6" rx="3.3" ry="2.3" fill="#9A5B33" stroke="#74401F" stroke-width="0.5"/>
<ellipse cx="378.9" cy="333.4" rx="3.0" ry="2.0" fill="#A0623A" stroke="#74401F" stroke-width="0.5"/>
<ellipse cx="443.5" cy="328.9" rx="3.6" ry="2.6" fill="#B3723F" stroke="#74401F" stroke-width="0.5"/>
<ellipse cx="415.5" cy="322.3" rx="3.2" ry="2.3" fill="#AC6C40" stroke="#74401F" stroke-width="0.5"/>
<ellipse cx="427.4" cy="332.2" rx="3.9" ry="2.2" fill="#B3723F" stroke="#74401F" stroke-width="0.5"/>
<ellipse cx="376.6" cy="330.9" rx="3.8" ry="2.2" fill="#C4854F" stroke="#74401F" stroke-width="0.5"/>
<ellipse cx="609.4" cy="309.6" rx="3.8" ry="2.4" fill="#8E522D" stroke="#74401F" stroke-width="0.5"/>
<ellipse cx="461.3" cy="330.7" rx="3.9" ry="2.9" fill="#9A5B33" stroke="#74401F" stroke-width="0.5"/>
<ellipse cx="498.7" cy="315.4" rx="2.6" ry="1.4" fill="#8E522D" stroke="#74401F" stroke-width="0.5"/>
<ellipse cx="538.4" cy="320.4" rx="2.9" ry="2.0" fill="#A0623A" stroke="#74401F" stroke-width="0.5"/>
<ellipse cx="536.3" cy="317.8" rx="2.6" ry="1.5" fill="#C4854F" stroke="#74401F" stroke-width="0.5"/>
<ellipse cx="447.3" cy="317.8" rx="2.6" ry="1.5" fill="#B3723F" stroke="#74401F" stroke-width="0.5"/>
<ellipse cx="589.6" cy="328.4" rx="2.7" ry="1.8" fill="#7C4627" stroke="#74401F" stroke-width="0.5"/>
<ellipse cx="388.5" cy="331.8" rx="3.3" ry="2.3" fill="#BC7C48" stroke="#74401F" stroke-width="0.5"/>
<ellipse cx="351.3" cy="320.5" rx="2.8" ry="1.5" fill="#A0623A" stroke="#74401F" stroke-width="0.5"/>
<ellipse cx="641.3" cy="324.2" rx="3.0" ry="1.7" fill="#A0623A" stroke="#74401F" stroke-width="0.5"/>
<ellipse cx="628.0" cy="320.3" rx="3.0" ry="1.9" fill="#AC6C40" stroke="#74401F" stroke-width="0.5"/>
<ellipse cx="316.5" cy="326.6" rx="3.0" ry="2.1" fill="#7C4627" stroke="#74401F" stroke-width="0.5"/>
<ellipse cx="675.8" cy="329.5" rx="3.4" ry="2.2" fill="#AC6C40" stroke="#74401F" stroke-width="0.5"/>
<ellipse cx="557.8" cy="315.7" rx="3.2" ry="2.0" fill="#A0623A" stroke="#74401F" stroke-width="0.5"/>
<ellipse cx="448.1" cy="328.1" rx="3.4" ry="2.0" fill="#A0623A" stroke="#74401F" stroke-width="0.5"/>
<ellipse cx="540.1" cy="320.0" rx="3.2" ry="2.1" fill="#AC6C40" stroke="#74401F" stroke-width="0.5"/>
<ellipse cx="615.9" cy="332.6" rx="2.6" ry="1.7" fill="#9A5B33" stroke="#74401F" stroke-width="0.5"/>
<ellipse cx="588.9" cy="330.1" rx="4.0" ry="2.6" fill="#AC6C40" stroke="#74401F" stroke-width="0.5"/>
<ellipse cx="541.5" cy="317.7" rx="3.7" ry="2.8" fill="#8E522D" stroke="#74401F" stroke-width="0.5"/>
<ellipse cx="509.3" cy="303.6" rx="3.5" ry="2.0" fill="#A0623A" stroke="#74401F" stroke-width="0.5"/>
<ellipse cx="561.7" cy="321.7" rx="3.2" ry="2.0" fill="#A0623A" stroke="#74401F" stroke-width="0.5"/>
<ellipse cx="478.5" cy="323.6" rx="3.1" ry="1.9" fill="#BC7C48" stroke="#74401F" stroke-width="0.5"/>
<ellipse cx="672.1" cy="324.6" rx="3.1" ry="2.3" fill="#8E522D" stroke="#74401F" stroke-width="0.5"/>
<ellipse cx="689.3" cy="319.2" rx="3.4" ry="2.4" fill="#B3723F" stroke="#74401F" stroke-width="0.5"/>
<ellipse cx="448.8" cy="321.1" rx="2.8" ry="2.0" fill="#7C4627" stroke="#74401F" stroke-width="0.5"/>
<ellipse cx="376.5" cy="318.5" rx="3.7" ry="2.5" fill="#C4854F" stroke="#74401F" stroke-width="0.5"/>
<ellipse cx="443.0" cy="326.9" rx="3.6" ry="2.3" fill="#AC6C40" stroke="#74401F" stroke-width="0.5"/>
<ellipse cx="429.8" cy="328.0" rx="3.8" ry="2.2" fill="#C4854F" stroke="#74401F" stroke-width="0.5"/>
<ellipse cx="701.8" cy="330.9" rx="3.4" ry="2.1" fill="#8E522D" stroke="#74401F" stroke-width="0.5"/>
<ellipse cx="440.5" cy="318.6" rx="4.0" ry="2.8" fill="#A0623A" stroke="#74401F" stroke-width="0.5"/>
<ellipse cx="374.5" cy="325.1" rx="2.9" ry="1.7" fill="#C4854F" stroke="#74401F" stroke-width="0.5"/>
<ellipse cx="629.1" cy="323.8" rx="3.2" ry="1.9" fill="#A0623A" stroke="#74401F" stroke-width="0.5"/>
<ellipse cx="421.4" cy="331.1" rx="3.2" ry="1.8" fill="#BC7C48" stroke="#74401F" stroke-width="0.5"/>
<ellipse cx="588.1" cy="323.9" rx="3.5" ry="2.2" fill="#C4854F" stroke="#74401F" stroke-width="0.5"/>
<ellipse cx="411.9" cy="326.1" rx="2.6" ry="1.6" fill="#BC7C48" stroke="#74401F" stroke-width="0.5"/>
<ellipse cx="591.3" cy="325.1" rx="3.5" ry="2.5" fill="#8E522D" stroke="#74401F" stroke-width="0.5"/>
<ellipse cx="582.6" cy="326.7" rx="3.2" ry="2.0" fill="#A0623A" stroke="#74401F" stroke-width="0.5"/>
<ellipse cx="669.5" cy="319.9" rx="3.2" ry="2.2" fill="#C4854F" stroke="#74401F" stroke-width="0.5"/>
<ellipse cx="409.0" cy="315.8" rx="3.2" ry="2.2" fill="#BC7C48" stroke="#74401F" stroke-width="0.5"/>
<ellipse cx="517.4" cy="324.3" rx="3.8" ry="2.8" fill="#7C4627" stroke="#74401F" stroke-width="0.5"/>
<ellipse cx="622.4" cy="309.6" rx="3.3" ry="2.4" fill="#B3723F" stroke="#74401F" stroke-width="0.5"/>
<ellipse cx="409.5" cy="309.8" rx="3.6" ry="2.7" fill="#8E522D" stroke="#74401F" stroke-width="0.5"/>
<ellipse cx="517.8" cy="309.5" rx="3.4" ry="2.2" fill="#9A5B33" stroke="#74401F" stroke-width="0.5"/>
<ellipse cx="514.9" cy="323.0" rx="3.8" ry="2.5" fill="#BC7C48" stroke="#74401F" stroke-width="0.5"/>
<ellipse cx="607.8" cy="314.8" rx="4.0" ry="2.3" fill="#A0623A" stroke="#74401F" stroke-width="0.5"/>
<ellipse cx="602.6" cy="321.7" rx="3.5" ry="2.1" fill="#BC7C48" stroke="#74401F" stroke-width="0.5"/>
<ellipse cx="469.5" cy="313.7" rx="3.2" ry="2.0" fill="#7C4627" stroke="#74401F" stroke-width="0.5"/>
<ellipse cx="542.4" cy="316.7" rx="3.0" ry="1.9" fill="#8E522D" stroke="#74401F" stroke-width="0.5"/>
<ellipse cx="709.7" cy="333.3" rx="3.2" ry="1.9" fill="#A0623A" stroke="#74401F" stroke-width="0.5"/>
<ellipse cx="635.1" cy="322.2" rx="3.3" ry="2.2" fill="#8E522D" stroke="#74401F" stroke-width="0.5"/>
<ellipse cx="637.1" cy="308.7" rx="3.5" ry="2.5" fill="#BC7C48" stroke="#74401F" stroke-width="0.5"/>
<ellipse cx="497.1" cy="306.3" rx="3.4" ry="1.9" fill="#9A5B33" stroke="#74401F" stroke-width="0.5"/>
<ellipse cx="451.3" cy="330.7" rx="3.0" ry="1.9" fill="#AC6C40" stroke="#74401F" stroke-width="0.5"/>
<ellipse cx="705.1" cy="331.2" rx="3.3" ry="2.3" fill="#AC6C40" stroke="#74401F" stroke-width="0.5"/>
<ellipse cx="452.6" cy="327.1" rx="3.0" ry="2.0" fill="#A0623A" stroke="#74401F" stroke-width="0.5"/>
<ellipse cx="574.3" cy="321.5" rx="3.9" ry="2.8" fill="#B3723F" stroke="#74401F" stroke-width="0.5"/>
<ellipse cx="342.5" cy="326.7" rx="3.1" ry="2.3" fill="#7C4627" stroke="#74401F" stroke-width="0.5"/>
<ellipse cx="563.8" cy="315.3" rx="2.6" ry="1.9" fill="#AC6C40" stroke="#74401F" stroke-width="0.5"/>
<ellipse cx="409.0" cy="305.8" rx="2.8" ry="1.7" fill="#9A5B33" stroke="#74401F" stroke-width="0.5"/>
<ellipse cx="448.0" cy="317.9" rx="3.9" ry="2.7" fill="#C4854F" stroke="#74401F" stroke-width="0.5"/>
<ellipse cx="554.2" cy="327.7" rx="4.0" ry="2.3" fill="#AC6C40" stroke="#74401F" stroke-width="0.5"/>
<ellipse cx="387.7" cy="322.4" rx="3.3" ry="2.3" fill="#9A5B33" stroke="#74401F" stroke-width="0.5"/>
<ellipse cx="579.2" cy="316.8" rx="2.8" ry="1.8" fill="#C4854F" stroke="#74401F" stroke-width="0.5"/>
<ellipse cx="499.2" cy="316.5" rx="3.3" ry="2.4" fill="#9A5B33" stroke="#74401F" stroke-width="0.5"/>
<ellipse cx="407.6" cy="306.7" rx="3.4" ry="2.4" fill="#C4854F" stroke="#74401F" stroke-width="0.5"/>
<ellipse cx="647.7" cy="323.1" rx="3.4" ry="2.3" fill="#9A5B33" stroke="#74401F" stroke-width="0.5"/>
<ellipse cx="459.5" cy="322.7" rx="3.9" ry="2.2" fill="#7C4627" stroke="#74401F" stroke-width="0.5"/>
<ellipse cx="565.0" cy="315.6" rx="3.5" ry="2.4" fill="#7C4627" stroke="#74401F" stroke-width="0.5"/>
<ellipse cx="634.7" cy="305.1" rx="3.3" ry="2.3" fill="#C4854F" stroke="#74401F" stroke-width="0.5"/>
<ellipse cx="321.7" cy="330.3" rx="3.5" ry="2.1" fill="#7C4627" stroke="#74401F" stroke-width="0.5"/>
<ellipse cx="445.9" cy="329.4" rx="3.4" ry="2.5" fill="#AC6C40" stroke="#74401F" stroke-width="0.5"/>
<ellipse cx="483.8" cy="315.0" rx="3.4" ry="2.4" fill="#AC6C40" stroke="#74401F" stroke-width="0.5"/>
<ellipse cx="451.5" cy="324.2" rx="3.1" ry="2.3" fill="#7C4627" stroke="#74401F" stroke-width="0.5"/>
<ellipse cx="701.9" cy="330.3" rx="3.7" ry="2.3" fill="#7C4627" stroke="#74401F" stroke-width="0.5"/>
<ellipse cx="596.1" cy="311.8" rx="4.0" ry="2.2" fill="#B3723F" stroke="#74401F" stroke-width="0.5"/>
<ellipse cx="469.1" cy="324.7" rx="3.2" ry="2.1" fill="#BC7C48" stroke="#74401F" stroke-width="0.5"/>
<ellipse cx="429.4" cy="314.9" rx="2.9" ry="2.1" fill="#B3723F" stroke="#74401F" stroke-width="0.5"/>
<ellipse cx="626.8" cy="330.1" rx="3.5" ry="2.3" fill="#A0623A" stroke="#74401F" stroke-width="0.5"/>
<ellipse cx="393.9" cy="320.8" rx="3.2" ry="2.3" fill="#A0623A" stroke="#74401F" stroke-width="0.5"/>
<ellipse cx="576.1" cy="331.0" rx="3.2" ry="1.8" fill="#B3723F" stroke="#74401F" stroke-width="0.5"/>
<ellipse cx="457.0" cy="330.2" rx="3.7" ry="2.5" fill="#AC6C40" stroke="#74401F" stroke-width="0.5"/>
<ellipse cx="656.4" cy="318.2" rx="2.6" ry="1.5" fill="#B3723F" stroke="#74401F" stroke-width="0.5"/>
<ellipse cx="509.1" cy="317.3" rx="3.8" ry="2.6" fill="#BC7C48" stroke="#74401F" stroke-width="0.5"/>
<ellipse cx="540.4" cy="332.0" rx="3.2" ry="1.8" fill="#BC7C48" stroke="#74401F" stroke-width="0.5"/>
<ellipse cx="547.9" cy="333.4" rx="3.5" ry="2.0" fill="#BC7C48" stroke="#74401F" stroke-width="0.5"/>
<ellipse cx="529.7" cy="315.9" rx="3.3" ry="2.4" fill="#B3723F" stroke="#74401F" stroke-width="0.5"/>
<ellipse cx="480.5" cy="304.1" rx="3.5" ry="2.6" fill="#A0623A" stroke="#74401F" stroke-width="0.5"/>
<ellipse cx="396.2" cy="299.5" rx="3.3" ry="2.0" fill="#8E522D" stroke="#74401F" stroke-width="0.5"/>
<ellipse cx="490.1" cy="324.2" rx="3.9" ry="2.4" fill="#C4854F" stroke="#74401F" stroke-width="0.5"/>
<ellipse cx="602.8" cy="305.2" rx="3.5" ry="2.4" fill="#9A5B33" stroke="#74401F" stroke-width="0.5"/>
<ellipse cx="578.5" cy="331.4" rx="3.9" ry="2.2" fill="#B3723F" stroke="#74401F" stroke-width="0.5"/>
<ellipse cx="312.6" cy="326.7" rx="3.5" ry="2.5" fill="#A0623A" stroke="#74401F" stroke-width="0.5"/>
<ellipse cx="465.1" cy="320.6" rx="3.4" ry="2.6" fill="#9A5B33" stroke="#74401F" stroke-width="0.5"/>
<ellipse cx="554.0" cy="320.9" rx="3.9" ry="2.7" fill="#9A5B33" stroke="#74401F" stroke-width="0.5"/>
<ellipse cx="581.5" cy="317.2" rx="3.7" ry="2.3" fill="#C4854F" stroke="#74401F" stroke-width="0.5"/>
<ellipse cx="562.4" cy="322.8" rx="3.1" ry="2.2" fill="#AC6C40" stroke="#74401F" stroke-width="0.5"/>
<ellipse cx="625.0" cy="316.9" rx="3.0" ry="1.7" fill="#7C4627" stroke="#74401F" stroke-width="0.5"/>
<ellipse cx="659.3" cy="328.4" rx="2.6" ry="1.5" fill="#AC6C40" stroke="#74401F" stroke-width="0.5"/>
<ellipse cx="544.2" cy="333.1" rx="2.9" ry="1.8" fill="#BC7C48" stroke="#74401F" stroke-width="0.5"/>
<ellipse cx="551.1" cy="331.6" rx="3.7" ry="2.3" fill="#B3723F" stroke="#74401F" stroke-width="0.5"/>
<ellipse cx="437.9" cy="320.0" rx="2.8" ry="2.1" fill="#B3723F" stroke="#74401F" stroke-width="0.5"/>
<ellipse cx="424.6" cy="317.4" rx="3.8" ry="2.9" fill="#C4854F" stroke="#74401F" stroke-width="0.5"/>
<ellipse cx="418.6" cy="330.1" rx="3.7" ry="2.6" fill="#9A5B33" stroke="#74401F" stroke-width="0.5"/>
<ellipse cx="448.1" cy="316.7" rx="3.4" ry="2.4" fill="#8E522D" stroke="#74401F" stroke-width="0.5"/>
<ellipse cx="626.2" cy="323.0" rx="4.0" ry="2.4" fill="#B3723F" stroke="#74401F" stroke-width="0.5"/>
<ellipse cx="581.8" cy="323.3" rx="2.9" ry="1.7" fill="#B3723F" stroke="#74401F" stroke-width="0.5"/>
<ellipse cx="627.8" cy="313.3" rx="2.7" ry="1.9" fill="#A0623A" stroke="#74401F" stroke-width="0.5"/>
<ellipse cx="402.1" cy="318.3" rx="3.9" ry="2.8" fill="#7C4627" stroke="#74401F" stroke-width="0.5"/>
<ellipse cx="500.5" cy="317.9" rx="2.9" ry="1.7" fill="#C4854F" stroke="#74401F" stroke-width="0.5"/>
<ellipse cx="633.6" cy="310.6" rx="3.4" ry="2.1" fill="#C4854F" stroke="#74401F" stroke-width="0.5"/>
<ellipse cx="407.5" cy="331.0" rx="3.3" ry="2.4" fill="#7C4627" stroke="#74401F" stroke-width="0.5"/>
<ellipse cx="563.6" cy="329.6" rx="2.8" ry="1.9" fill="#7C4627" stroke="#74401F" stroke-width="0.5"/>
<ellipse cx="421.3" cy="325.3" rx="2.7" ry="1.6" fill="#9A5B33" stroke="#74401F" stroke-width="0.5"/>
<ellipse cx="545.0" cy="318.8" rx="3.9" ry="2.4" fill="#A0623A" stroke="#74401F" stroke-width="0.5"/>
<ellipse cx="690.4" cy="329.8" rx="3.7" ry="2.8" fill="#AC6C40" stroke="#74401F" stroke-width="0.5"/>
<ellipse cx="648.9" cy="320.8" rx="4.0" ry="2.5" fill="#B3723F" stroke="#74401F" stroke-width="0.5"/>
<ellipse cx="328.6" cy="327.4" rx="3.8" ry="2.5" fill="#A0623A" stroke="#74401F" stroke-width="0.5"/>
<ellipse cx="656.6" cy="326.7" rx="3.9" ry="2.7" fill="#A0623A" stroke="#74401F" stroke-width="0.5"/>
<ellipse cx="411.9" cy="321.2" rx="3.5" ry="2.6" fill="#BC7C48" stroke="#74401F" stroke-width="0.5"/>
<ellipse cx="381.8" cy="328.8" rx="3.1" ry="1.9" fill="#8E522D" stroke="#74401F" stroke-width="0.5"/>
<ellipse cx="377.5" cy="331.9" rx="3.9" ry="2.2" fill="#B3723F" stroke="#74401F" stroke-width="0.5"/>
<ellipse cx="646.2" cy="313.6" rx="3.7" ry="2.6" fill="#9A5B33" stroke="#74401F" stroke-width="0.5"/>
<ellipse cx="330.5" cy="321.2" rx="3.7" ry="2.7" fill="#AC6C40" stroke="#74401F" stroke-width="0.5"/>
<ellipse cx="546.3" cy="323.0" rx="3.5" ry="2.3" fill="#7C4627" stroke="#74401F" stroke-width="0.5"/>
<ellipse cx="411.8" cy="308.8" rx="3.3" ry="1.9" fill="#8E522D" stroke="#74401F" stroke-width="0.5"/>
<ellipse cx="634.3" cy="330.8" rx="3.8" ry="2.5" fill="#8E522D" stroke="#74401F" stroke-width="0.5"/>
<ellipse cx="630.7" cy="304.1" rx="3.8" ry="2.1" fill="#7C4627" stroke="#74401F" stroke-width="0.5"/>
<ellipse cx="667.0" cy="317.9" rx="3.2" ry="1.8" fill="#BC7C48" stroke="#74401F" stroke-width="0.5"/>
<ellipse cx="648.3" cy="326.3" rx="3.2" ry="2.0" fill="#8E522D" stroke="#74401F" stroke-width="0.5"/>
<ellipse cx="500.9" cy="319.4" rx="2.8" ry="1.7" fill="#B3723F" stroke="#74401F" stroke-width="0.5"/>
<ellipse cx="380.8" cy="316.7" rx="3.8" ry="2.5" fill="#C4854F" stroke="#74401F" stroke-width="0.5"/>
<ellipse cx="415.6" cy="318.7" rx="2.8" ry="1.7" fill="#AC6C40" stroke="#74401F" stroke-width="0.5"/>
<ellipse cx="443.1" cy="318.2" rx="3.3" ry="2.0" fill="#9A5B33" stroke="#74401F" stroke-width="0.5"/>
<ellipse cx="354.1" cy="333.1" rx="2.7" ry="2.0" fill="#8E522D" stroke="#74401F" stroke-width="0.5"/>
<ellipse cx="534.2" cy="330.4" rx="2.8" ry="1.9" fill="#7C4627" stroke="#74401F" stroke-width="0.5"/>
<ellipse cx="482.6" cy="310.5" rx="2.9" ry="1.8" fill="#BC7C48" stroke="#74401F" stroke-width="0.5"/>
<ellipse cx="424.9" cy="331.6" rx="2.7" ry="1.9" fill="#AC6C40" stroke="#74401F" stroke-width="0.5"/>
<ellipse cx="366.3" cy="327.1" rx="3.2" ry="2.1" fill="#C4854F" stroke="#74401F" stroke-width="0.5"/>
<ellipse cx="487.0" cy="326.3" rx="3.9" ry="2.4" fill="#7C4627" stroke="#74401F" stroke-width="0.5"/>
<ellipse cx="483.8" cy="330.7" rx="2.9" ry="1.9" fill="#C4854F" stroke="#74401F" stroke-width="0.5"/>
<ellipse cx="648.7" cy="324.3" rx="2.9" ry="1.7" fill="#A0623A" stroke="#74401F" stroke-width="0.5"/>
<ellipse cx="642.9" cy="330.9" rx="3.6" ry="2.5" fill="#C4854F" stroke="#74401F" stroke-width="0.5"/>
<ellipse cx="391.2" cy="319.0" rx="3.6" ry="2.6" fill="#AC6C40" stroke="#74401F" stroke-width="0.5"/>
<ellipse cx="389.7" cy="299.1" rx="3.6" ry="2.3" fill="#B3723F" stroke="#74401F" stroke-width="0.5"/>
<ellipse cx="517.5" cy="315.9" rx="3.0" ry="2.0" fill="#9A5B33" stroke="#74401F" stroke-width="0.5"/>
<ellipse cx="344.5" cy="324.2" rx="3.7" ry="2.1" fill="#AC6C40" stroke="#74401F" stroke-width="0.5"/>
<ellipse cx="408.3" cy="319.8" rx="4.0" ry="2.2" fill="#7C4627" stroke="#74401F" stroke-width="0.5"/>
<ellipse cx="540.3" cy="330.8" rx="3.1" ry="2.3" fill="#A0623A" stroke="#74401F" stroke-width="0.5"/>
<ellipse cx="356.8" cy="328.7" rx="3.7" ry="2.7" fill="#7C4627" stroke="#74401F" stroke-width="0.5"/>
<ellipse cx="622.8" cy="328.4" rx="3.4" ry="2.5" fill="#AC6C40" stroke="#74401F" stroke-width="0.5"/>
<ellipse cx="660.6" cy="332.6" rx="3.3" ry="2.1" fill="#C4854F" stroke="#74401F" stroke-width="0.5"/>
<ellipse cx="316.4" cy="333.2" rx="2.9" ry="1.7" fill="#A0623A" stroke="#74401F" stroke-width="0.5"/>
<ellipse cx="434.0" cy="325.2" rx="3.9" ry="2.2" fill="#8E522D" stroke="#74401F" stroke-width="0.5"/>
<ellipse cx="413.6" cy="329.2" rx="3.5" ry="2.2" fill="#8E522D" stroke="#74401F" stroke-width="0.5"/>
<ellipse cx="591.9" cy="314.6" rx="3.8" ry="2.6" fill="#B3723F" stroke="#74401F" stroke-width="0.5"/>
<ellipse cx="418.3" cy="321.2" rx="3.4" ry="2.4" fill="#A0623A" stroke="#74401F" stroke-width="0.5"/>
<ellipse cx="357.3" cy="323.5" rx="2.8" ry="1.9" fill="#8E522D" stroke="#74401F" stroke-width="0.5"/>
<ellipse cx="367.5" cy="325.9" rx="3.6" ry="2.1" fill="#B3723F" stroke="#74401F" stroke-width="0.5"/>
<ellipse cx="686.8" cy="323.4" rx="3.2" ry="2.3" fill="#B3723F" stroke="#74401F" stroke-width="0.5"/>
<ellipse cx="467.8" cy="332.4" rx="3.7" ry="2.3" fill="#8E522D" stroke="#74401F" stroke-width="0.5"/>
<ellipse cx="646.8" cy="327.7" rx="3.8" ry="2.5" fill="#7C4627" stroke="#74401F" stroke-width="0.5"/>
<ellipse cx="637.3" cy="329.1" rx="2.7" ry="1.7" fill="#7C4627" stroke="#74401F" stroke-width="0.5"/>
<ellipse cx="408.7" cy="315.6" rx="3.5" ry="2.2" fill="#C4854F" stroke="#74401F" stroke-width="0.5"/>
<ellipse cx="336.0" cy="325.1" rx="3.3" ry="1.8" fill="#C4854F" stroke="#74401F" stroke-width="0.5"/>
<ellipse cx="478.0" cy="316.9" rx="4.0" ry="2.6" fill="#B3723F" stroke="#74401F" stroke-width="0.5"/>
<ellipse cx="634.9" cy="329.9" rx="3.8" ry="2.1" fill="#AC6C40" stroke="#74401F" stroke-width="0.5"/>
<ellipse cx="678.8" cy="327.0" rx="3.5" ry="2.5" fill="#B3723F" stroke="#74401F" stroke-width="0.5"/>
<ellipse cx="559.0" cy="319.8" rx="3.3" ry="2.1" fill="#B3723F" stroke="#74401F" stroke-width="0.5"/>
<ellipse cx="424.2" cy="320.4" rx="3.5" ry="2.0" fill="#AC6C40" stroke="#74401F" stroke-width="0.5"/>
<ellipse cx="342.1" cy="327.1" rx="3.9" ry="2.5" fill="#C4854F" stroke="#74401F" stroke-width="0.5"/>
<ellipse cx="665.6" cy="332.0" rx="3.4" ry="2.1" fill="#A0623A" stroke="#74401F" stroke-width="0.5"/>
<ellipse cx="607.1" cy="309.3" rx="3.2" ry="2.2" fill="#8E522D" stroke="#74401F" stroke-width="0.5"/>
<ellipse cx="570.7" cy="318.6" rx="3.6" ry="2.3" fill="#AC6C40" stroke="#74401F" stroke-width="0.5"/>
<ellipse cx="555.6" cy="323.7" rx="3.0" ry="1.8" fill="#8E522D" stroke="#74401F" stroke-width="0.5"/>
<ellipse cx="384.3" cy="318.4" rx="4.0" ry="2.5" fill="#7C4627" stroke="#74401F" stroke-width="0.5"/>
<ellipse cx="373.6" cy="332.4" rx="3.1" ry="1.9" fill="#AC6C40" stroke="#74401F" stroke-width="0.5"/>
<ellipse cx="423.1" cy="333.3" rx="3.0" ry="2.1" fill="#C4854F" stroke="#74401F" stroke-width="0.5"/>
<ellipse cx="530.7" cy="325.9" rx="3.1" ry="2.1" fill="#BC7C48" stroke="#74401F" stroke-width="0.5"/>
<ellipse cx="645.1" cy="319.3" rx="3.7" ry="2.4" fill="#C4854F" stroke="#74401F" stroke-width="0.5"/>
<ellipse cx="476.4" cy="324.8" rx="2.8" ry="1.7" fill="#AC6C40" stroke="#74401F" stroke-width="0.5"/>
<ellipse cx="639.8" cy="320.6" rx="3.6" ry="2.5" fill="#9A5B33" stroke="#74401F" stroke-width="0.5"/>
<ellipse cx="416.5" cy="324.5" rx="3.5" ry="2.4" fill="#BC7C48" stroke="#74401F" stroke-width="0.5"/>
<ellipse cx="659.8" cy="315.0" rx="3.7" ry="2.4" fill="#9A5B33" stroke="#74401F" stroke-width="0.5"/>
<ellipse cx="468.6" cy="333.4" rx="2.8" ry="2.0" fill="#AC6C40" stroke="#74401F" stroke-width="0.5"/>
<ellipse cx="660.6" cy="326.2" rx="3.1" ry="2.0" fill="#9A5B33" stroke="#74401F" stroke-width="0.5"/>
<ellipse cx="424.4" cy="321.3" rx="3.1" ry="2.0" fill="#BC7C48" stroke="#74401F" stroke-width="0.5"/>
<ellipse cx="569.9" cy="315.0" rx="3.6" ry="2.7" fill="#BC7C48" stroke="#74401F" stroke-width="0.5"/>
<ellipse cx="487.4" cy="305.4" rx="3.0" ry="1.8" fill="#BC7C48" stroke="#74401F" stroke-width="0.5"/>
<ellipse cx="543.0" cy="316.4" rx="3.9" ry="2.4" fill="#8E522D" stroke="#74401F" stroke-width="0.5"/>
<ellipse cx="695.3" cy="323.0" rx="3.2" ry="2.3" fill="#B3723F" stroke="#74401F" stroke-width="0.5"/>
<ellipse cx="318.3" cy="325.8" rx="3.9" ry="2.4" fill="#AC6C40" stroke="#74401F" stroke-width="0.5"/>
<ellipse cx="525.6" cy="333.5" rx="3.3" ry="2.2" fill="#BC7C48" stroke="#74401F" stroke-width="0.5"/>
<ellipse cx="465.4" cy="321.5" rx="3.4" ry="2.1" fill="#B3723F" stroke="#74401F" stroke-width="0.5"/>
<ellipse cx="581.3" cy="324.5" rx="2.7" ry="1.7" fill="#BC7C48" stroke="#74401F" stroke-width="0.5"/>
<ellipse cx="570.0" cy="332.2" rx="2.8" ry="1.7" fill="#BC7C48" stroke="#74401F" stroke-width="0.5"/>
<ellipse cx="504.6" cy="312.9" rx="3.5" ry="2.6" fill="#7C4627" stroke="#74401F" stroke-width="0.5"/>
<ellipse cx="587.4" cy="328.6" rx="2.7" ry="1.7" fill="#7C4627" stroke="#74401F" stroke-width="0.5"/>
<ellipse cx="703.3" cy="332.0" rx="3.3" ry="1.9" fill="#AC6C40" stroke="#74401F" stroke-width="0.5"/>
<ellipse cx="586.7" cy="330.1" rx="4.0" ry="2.9" fill="#BC7C48" stroke="#74401F" stroke-width="0.5"/>
<ellipse cx="563.0" cy="324.7" rx="3.7" ry="2.2" fill="#8E522D" stroke="#74401F" stroke-width="0.5"/>
<ellipse cx="474.6" cy="310.4" rx="3.4" ry="1.9" fill="#B3723F" stroke="#74401F" stroke-width="0.5"/>
<ellipse cx="587.5" cy="314.5" rx="2.6" ry="1.8" fill="#B3723F" stroke="#74401F" stroke-width="0.5"/>
<ellipse cx="678.5" cy="323.1" rx="2.7" ry="1.5" fill="#B3723F" stroke="#74401F" stroke-width="0.5"/>
<ellipse cx="387.4" cy="315.5" rx="3.4" ry="2.0" fill="#C4854F" stroke="#74401F" stroke-width="0.5"/>
<ellipse cx="540.1" cy="322.4" rx="2.8" ry="1.6" fill="#A0623A" stroke="#74401F" stroke-width="0.5"/>
<ellipse cx="319.7" cy="323.5" rx="3.9" ry="2.5" fill="#9A5B33" stroke="#74401F" stroke-width="0.5"/>
<ellipse cx="555.7" cy="329.9" rx="2.7" ry="1.5" fill="#7C4627" stroke="#74401F" stroke-width="0.5"/>
<ellipse cx="366.1" cy="320.1" rx="3.0" ry="1.7" fill="#A0623A" stroke="#74401F" stroke-width="0.5"/>
<ellipse cx="655.2" cy="332.5" rx="2.7" ry="1.6" fill="#BC7C48" stroke="#74401F" stroke-width="0.5"/>
<ellipse cx="315.9" cy="326.5" rx="3.2" ry="2.2" fill="#B3723F" stroke="#74401F" stroke-width="0.5"/>
<ellipse cx="485.6" cy="320.9" rx="2.9" ry="1.6" fill="#C4854F" stroke="#74401F" stroke-width="0.5"/>
<ellipse cx="435.2" cy="331.6" rx="3.7" ry="2.3" fill="#AC6C40" stroke="#74401F" stroke-width="0.5"/>
<ellipse cx="695.9" cy="327.0" rx="3.9" ry="2.4" fill="#BC7C48" stroke="#74401F" stroke-width="0.5"/>
<ellipse cx="580.7" cy="325.6" rx="3.2" ry="2.0" fill="#9A5B33" stroke="#74401F" stroke-width="0.5"/>
<ellipse cx="317.1" cy="332.2" rx="2.7" ry="1.6" fill="#BC7C48" stroke="#74401F" stroke-width="0.5"/>
<ellipse cx="383.4" cy="332.6" rx="3.0" ry="2.0" fill="#A0623A" stroke="#74401F" stroke-width="0.5"/>
<ellipse cx="443.3" cy="331.1" rx="3.1" ry="2.1" fill="#A0623A" stroke="#74401F" stroke-width="0.5"/>
<ellipse cx="478.6" cy="331.1" rx="3.4" ry="2.1" fill="#9A5B33" stroke="#74401F" stroke-width="0.5"/>
<ellipse cx="422.6" cy="318.3" rx="2.6" ry="1.8" fill="#7C4627" stroke="#74401F" stroke-width="0.5"/>
<ellipse cx="633.2" cy="308.7" rx="2.8" ry="1.6" fill="#C4854F" stroke="#74401F" stroke-width="0.5"/>
<ellipse cx="532.2" cy="323.3" rx="3.7" ry="2.2" fill="#7C4627" stroke="#74401F" stroke-width="0.5"/>
<ellipse cx="450.6" cy="328.4" rx="3.1" ry="2.3" fill="#8E522D" stroke="#74401F" stroke-width="0.5"/>
<ellipse cx="428.1" cy="323.7" rx="2.9" ry="2.1" fill="#C4854F" stroke="#74401F" stroke-width="0.5"/>
<ellipse cx="688.6" cy="333.5" rx="3.4" ry="2.2" fill="#7C4627" stroke="#74401F" stroke-width="0.5"/>
<ellipse cx="524.0" cy="320.9" rx="3.3" ry="1.9" fill="#A0623A" stroke="#74401F" stroke-width="0.5"/>
<ellipse cx="581.9" cy="316.2" rx="3.8" ry="2.6" fill="#BC7C48" stroke="#74401F" stroke-width="0.5"/>
<ellipse cx="319.6" cy="330.4" rx="2.8" ry="1.6" fill="#A0623A" stroke="#74401F" stroke-width="0.5"/>
<ellipse cx="588.6" cy="329.2" rx="2.9" ry="1.7" fill="#A0623A" stroke="#74401F" stroke-width="0.5"/>
<ellipse cx="335.5" cy="332.2" rx="3.7" ry="2.6" fill="#8E522D" stroke="#74401F" stroke-width="0.5"/>
<ellipse cx="334.6" cy="323.3" rx="2.9" ry="1.7" fill="#BC7C48" stroke="#74401F" stroke-width="0.5"/>
<ellipse cx="422.1" cy="321.4" rx="3.9" ry="2.7" fill="#C4854F" stroke="#74401F" stroke-width="0.5"/>
<ellipse cx="686.4" cy="319.8" rx="3.1" ry="2.2" fill="#7C4627" stroke="#74401F" stroke-width="0.5"/>
<ellipse cx="670.4" cy="316.1" rx="3.6" ry="2.3" fill="#BC7C48" stroke="#74401F" stroke-width="0.5"/>
<ellipse cx="450.3" cy="326.7" rx="2.9" ry="1.6" fill="#8E522D" stroke="#74401F" stroke-width="0.5"/>
<ellipse cx="595.9" cy="309.8" rx="2.7" ry="1.5" fill="#8E522D" stroke="#74401F" stroke-width="0.5"/>
<ellipse cx="613.8" cy="301.5" rx="3.6" ry="2.4" fill="#C4854F" stroke="#74401F" stroke-width="0.5"/>
<ellipse cx="536.1" cy="318.8" rx="3.3" ry="2.2" fill="#BC7C48" stroke="#74401F" stroke-width="0.5"/>
<ellipse cx="578.7" cy="325.5" rx="3.9" ry="2.2" fill="#AC6C40" stroke="#74401F" stroke-width="0.5"/>
<ellipse cx="672.0" cy="331.3" rx="3.4" ry="2.4" fill="#8E522D" stroke="#74401F" stroke-width="0.5"/>
<ellipse cx="583.2" cy="315.1" rx="3.0" ry="2.1" fill="#7C4627" stroke="#74401F" stroke-width="0.5"/>
<ellipse cx="610.8" cy="300.2" rx="3.6" ry="2.2" fill="#8E522D" stroke="#74401F" stroke-width="0.5"/>
<ellipse cx="421.6" cy="314.7" rx="3.9" ry="2.5" fill="#7C4627" stroke="#74401F" stroke-width="0.5"/>
<ellipse cx="587.4" cy="328.5" rx="3.8" ry="2.5" fill="#9A5B33" stroke="#74401F" stroke-width="0.5"/>
<ellipse cx="513.5" cy="323.7" rx="2.9" ry="2.0" fill="#C4854F" stroke="#74401F" stroke-width="0.5"/>
<ellipse cx="505.8" cy="304.0" rx="3.9" ry="2.8" fill="#AC6C40" stroke="#74401F" stroke-width="0.5"/>
<ellipse cx="378.5" cy="309.5" rx="3.7" ry="2.2" fill="#AC6C40" stroke="#74401F" stroke-width="0.5"/>
<ellipse cx="408.9" cy="304.4" rx="3.1" ry="2.0" fill="#8E522D" stroke="#74401F" stroke-width="0.5"/>
<ellipse cx="565.1" cy="317.6" rx="3.6" ry="2.3" fill="#9A5B33" stroke="#74401F" stroke-width="0.5"/>
<ellipse cx="404.1" cy="306.8" rx="3.3" ry="2.1" fill="#7C4627" stroke="#74401F" stroke-width="0.5"/>
<ellipse cx="590.0" cy="316.8" rx="3.6" ry="2.4" fill="#8E522D" stroke="#74401F" stroke-width="0.5"/>
<ellipse cx="442.8" cy="330.1" rx="3.4" ry="2.4" fill="#C4854F" stroke="#74401F" stroke-width="0.5"/>
<ellipse cx="581.5" cy="317.4" rx="4.0" ry="2.9" fill="#BC7C48" stroke="#74401F" stroke-width="0.5"/>
<ellipse cx="643.8" cy="313.1" rx="3.0" ry="1.9" fill="#8E522D" stroke="#74401F" stroke-width="0.5"/>
<ellipse cx="325.5" cy="332.2" rx="3.0" ry="1.7" fill="#AC6C40" stroke="#74401F" stroke-width="0.5"/>
<ellipse cx="489.0" cy="301.9" rx="3.1" ry="2.0" fill="#7C4627" stroke="#74401F" stroke-width="0.5"/>
<ellipse cx="425.0" cy="325.2" rx="2.7" ry="1.7" fill="#9A5B33" stroke="#74401F" stroke-width="0.5"/>
<ellipse cx="341.9" cy="329.1" rx="4.0" ry="2.6" fill="#A0623A" stroke="#74401F" stroke-width="0.5"/>
<ellipse cx="568.6" cy="332.7" rx="3.3" ry="2.3" fill="#7C4627" stroke="#74401F" stroke-width="0.5"/>
<ellipse cx="311.4" cy="333.0" rx="3.5" ry="2.4" fill="#AC6C40" stroke="#74401F" stroke-width="0.5"/>
<ellipse cx="571.8" cy="316.3" rx="3.6" ry="2.0" fill="#BC7C48" stroke="#74401F" stroke-width="0.5"/>
<ellipse cx="647.2" cy="319.4" rx="2.9" ry="1.9" fill="#C4854F" stroke="#74401F" stroke-width="0.5"/>
<ellipse cx="349.3" cy="328.9" rx="3.0" ry="2.0" fill="#BC7C48" stroke="#74401F" stroke-width="0.5"/>
<ellipse cx="382.6" cy="327.9" rx="3.0" ry="1.9" fill="#7C4627" stroke="#74401F" stroke-width="0.5"/>
<ellipse cx="646.5" cy="318.1" rx="2.7" ry="1.5" fill="#BC7C48" stroke="#74401F" stroke-width="0.5"/>
<ellipse cx="673.7" cy="332.5" rx="3.3" ry="2.1" fill="#C4854F" stroke="#74401F" stroke-width="0.5"/>
<ellipse cx="710.2" cy="332.0" rx="3.5" ry="2.0" fill="#8E522D" stroke="#74401F" stroke-width="0.5"/>
<ellipse cx="374.1" cy="320.0" rx="4.0" ry="2.2" fill="#B3723F" stroke="#74401F" stroke-width="0.5"/>
<ellipse cx="651.7" cy="323.6" rx="2.9" ry="1.8" fill="#B3723F" stroke="#74401F" stroke-width="0.5"/>
<ellipse cx="647.7" cy="330.7" rx="3.7" ry="2.4" fill="#AC6C40" stroke="#74401F" stroke-width="0.5"/>
<ellipse cx="337.1" cy="319.3" rx="3.6" ry="2.6" fill="#A0623A" stroke="#74401F" stroke-width="0.5"/>
<ellipse cx="485.2" cy="322.5" rx="3.8" ry="2.7" fill="#C4854F" stroke="#74401F" stroke-width="0.5"/>
<ellipse cx="461.0" cy="314.9" rx="3.7" ry="2.6" fill="#8E522D" stroke="#74401F" stroke-width="0.5"/>
<ellipse cx="497.4" cy="315.8" rx="3.3" ry="2.1" fill="#C4854F" stroke="#74401F" stroke-width="0.5"/>
<ellipse cx="701.6" cy="333.1" rx="3.5" ry="2.5" fill="#B3723F" stroke="#74401F" stroke-width="0.5"/>
<ellipse cx="600.0" cy="314.5" rx="3.5" ry="2.3" fill="#BC7C48" stroke="#74401F" stroke-width="0.5"/>
<ellipse cx="692.9" cy="325.9" rx="3.5" ry="2.1" fill="#7C4627" stroke="#74401F" stroke-width="0.5"/>
<ellipse cx="522.3" cy="325.2" rx="3.8" ry="2.3" fill="#9A5B33" stroke="#74401F" stroke-width="0.5"/>
<ellipse cx="587.3" cy="317.1" rx="3.4" ry="2.3" fill="#BC7C48" stroke="#74401F" stroke-width="0.5"/>
<ellipse cx="453.4" cy="319.5" rx="3.2" ry="1.9" fill="#8E522D" stroke="#74401F" stroke-width="0.5"/>
<ellipse cx="380.9" cy="330.1" rx="3.4" ry="1.9" fill="#AC6C40" stroke="#74401F" stroke-width="0.5"/>
<ellipse cx="570.5" cy="318.3" rx="3.5" ry="2.4" fill="#8E522D" stroke="#74401F" stroke-width="0.5"/>
<ellipse cx="531.8" cy="318.7" rx="3.4" ry="1.9" fill="#A0623A" stroke="#74401F" stroke-width="0.5"/>
<ellipse cx="652.0" cy="327.4" rx="3.7" ry="2.1" fill="#A0623A" stroke="#74401F" stroke-width="0.5"/>
<ellipse cx="561.1" cy="332.8" rx="3.3" ry="2.1" fill="#BC7C48" stroke="#74401F" stroke-width="0.5"/>
<ellipse cx="527.9" cy="332.9" rx="2.9" ry="1.9" fill="#A0623A" stroke="#74401F" stroke-width="0.5"/>
<ellipse cx="363.3" cy="329.6" rx="2.7" ry="1.6" fill="#7C4627" stroke="#74401F" stroke-width="0.5"/>
<ellipse cx="324.9" cy="329.7" rx="3.9" ry="2.5" fill="#A0623A" stroke="#74401F" stroke-width="0.5"/>
<ellipse cx="593.8" cy="320.4" rx="3.8" ry="2.6" fill="#8E522D" stroke="#74401F" stroke-width="0.5"/>
<ellipse cx="535.4" cy="331.9" rx="3.8" ry="2.2" fill="#7C4627" stroke="#74401F" stroke-width="0.5"/>
<ellipse cx="632.9" cy="324.8" rx="2.6" ry="1.6" fill="#8E522D" stroke="#74401F" stroke-width="0.5"/>
<ellipse cx="458.7" cy="328.6" rx="3.9" ry="2.7" fill="#B3723F" stroke="#74401F" stroke-width="0.5"/>
<ellipse cx="637.9" cy="315.1" rx="3.1" ry="1.9" fill="#A0623A" stroke="#74401F" stroke-width="0.5"/>
<ellipse cx="321.8" cy="332.5" rx="2.9" ry="1.8" fill="#9A5B33" stroke="#74401F" stroke-width="0.5"/>
<ellipse cx="316.6" cy="333.4" rx="3.2" ry="2.3" fill="#9A5B33" stroke="#74401F" stroke-width="0.5"/>
<ellipse cx="352.6" cy="330.2" rx="2.9" ry="1.9" fill="#AC6C40" stroke="#74401F" stroke-width="0.5"/>
<ellipse cx="661.0" cy="327.4" rx="3.8" ry="2.5" fill="#AC6C40" stroke="#74401F" stroke-width="0.5"/>
<ellipse cx="525.5" cy="327.4" rx="3.7" ry="2.8" fill="#B3723F" stroke="#74401F" stroke-width="0.5"/>
<ellipse cx="318.0" cy="333.4" rx="3.3" ry="2.1" fill="#B3723F" stroke="#74401F" stroke-width="0.5"/>
<ellipse cx="631.4" cy="300.5" rx="2.9" ry="2.0" fill="#BC7C48" stroke="#74401F" stroke-width="0.5"/>
<ellipse cx="648.6" cy="332.9" rx="3.6" ry="2.3" fill="#8E522D" stroke="#74401F" stroke-width="0.5"/>
<ellipse cx="660.7" cy="326.3" rx="2.7" ry="1.7" fill="#8E522D" stroke="#74401F" stroke-width="0.5"/>
<ellipse cx="433.7" cy="317.4" rx="3.5" ry="2.1" fill="#7C4627" stroke="#74401F" stroke-width="0.5"/>
<ellipse cx="601.8" cy="313.4" rx="3.3" ry="2.4" fill="#7C4627" stroke="#74401F" stroke-width="0.5"/>
<ellipse cx="310.4" cy="331.2" rx="3.1" ry="1.7" fill="#9A5B33" stroke="#74401F" stroke-width="0.5"/>
<ellipse cx="662.0" cy="326.3" rx="3.5" ry="2.4" fill="#C4854F" stroke="#74401F" stroke-width="0.5"/>
<ellipse cx="418.2" cy="316.7" rx="3.3" ry="2.0" fill="#C4854F" stroke="#74401F" stroke-width="0.5"/>
<ellipse cx="708.8" cy="328.9" rx="3.4" ry="2.4" fill="#8E522D" stroke="#74401F" stroke-width="0.5"/>
<ellipse cx="620.8" cy="319.0" rx="3.5" ry="2.2" fill="#AC6C40" stroke="#74401F" stroke-width="0.5"/>
<ellipse cx="628.4" cy="305.3" rx="3.7" ry="2.1" fill="#A0623A" stroke="#74401F" stroke-width="0.5"/>
<ellipse cx="430.8" cy="329.1" rx="3.6" ry="2.4" fill="#8E522D" stroke="#74401F" stroke-width="0.5"/>
<ellipse cx="449.6" cy="325.2" rx="3.2" ry="1.8" fill="#7C4627" stroke="#74401F" stroke-width="0.5"/>
<ellipse cx="579.4" cy="331.3" rx="3.7" ry="2.4" fill="#8E522D" stroke="#74401F" stroke-width="0.5"/>
<ellipse cx="634.9" cy="333.4" rx="2.8" ry="1.7" fill="#9A5B33" stroke="#74401F" stroke-width="0.5"/>
<ellipse cx="471.6" cy="320.2" rx="3.7" ry="2.7" fill="#A0623A" stroke="#74401F" stroke-width="0.5"/>
<ellipse cx="366.1" cy="328.6" rx="3.0" ry="2.0" fill="#7C4627" stroke="#74401F" stroke-width="0.5"/>
<ellipse cx="337.7" cy="321.3" rx="3.9" ry="2.6" fill="#AC6C40" stroke="#74401F" stroke-width="0.5"/>
<ellipse cx="542.5" cy="333.3" rx="3.1" ry="2.2" fill="#BC7C48" stroke="#74401F" stroke-width="0.5"/>
<ellipse cx="599.4" cy="331.3" rx="3.8" ry="2.3" fill="#C4854F" stroke="#74401F" stroke-width="0.5"/>
<ellipse cx="419.5" cy="317.0" rx="2.6" ry="1.5" fill="#AC6C40" stroke="#74401F" stroke-width="0.5"/>
<ellipse cx="403.7" cy="298.8" rx="2.7" ry="1.7" fill="#AC6C40" stroke="#74401F" stroke-width="0.5"/>
<ellipse cx="657.1" cy="326.9" rx="2.9" ry="2.0" fill="#C4854F" stroke="#74401F" stroke-width="0.5"/>
<ellipse cx="550.8" cy="316.4" rx="3.7" ry="2.7" fill="#7C4627" stroke="#74401F" stroke-width="0.5"/>
<ellipse cx="598.5" cy="306.6" rx="3.0" ry="2.0" fill="#B3723F" stroke="#74401F" stroke-width="0.5"/>
<ellipse cx="566.5" cy="332.1" rx="2.9" ry="1.8" fill="#B3723F" stroke="#74401F" stroke-width="0.5"/>
<ellipse cx="570.2" cy="322.4" rx="3.6" ry="2.2" fill="#B3723F" stroke="#74401F" stroke-width="0.5"/>
<ellipse cx="656.8" cy="329.7" rx="2.7" ry="1.8" fill="#9A5B33" stroke="#74401F" stroke-width="0.5"/>
<ellipse cx="707.1" cy="329.9" rx="3.9" ry="2.8" fill="#B3723F" stroke="#74401F" stroke-width="0.5"/>
<ellipse cx="681.8" cy="326.1" rx="4.0" ry="2.2" fill="#7C4627" stroke="#74401F" stroke-width="0.5"/>
<ellipse cx="371.3" cy="312.6" rx="2.9" ry="1.9" fill="#A0623A" stroke="#74401F" stroke-width="0.5"/>
<ellipse cx="452.6" cy="321.7" rx="3.1" ry="2.1" fill="#C4854F" stroke="#74401F" stroke-width="0.5"/>
<ellipse cx="573.6" cy="326.0" rx="3.1" ry="2.1" fill="#AC6C40" stroke="#74401F" stroke-width="0.5"/>
<ellipse cx="636.6" cy="318.1" rx="2.6" ry="1.8" fill="#9A5B33" stroke="#74401F" stroke-width="0.5"/>
<ellipse cx="534.0" cy="321.3" rx="3.3" ry="2.0" fill="#AC6C40" stroke="#74401F" stroke-width="0.5"/>
<ellipse cx="311.7" cy="330.2" rx="3.5" ry="2.5" fill="#7C4627" stroke="#74401F" stroke-width="0.5"/>
<ellipse cx="368.8" cy="326.6" rx="3.2" ry="2.4" fill="#B3723F" stroke="#74401F" stroke-width="0.5"/>
<ellipse cx="560.4" cy="317.4" rx="3.4" ry="2.0" fill="#C4854F" stroke="#74401F" stroke-width="0.5"/>
<ellipse cx="412.7" cy="322.7" rx="3.6" ry="2.7" fill="#C4854F" stroke="#74401F" stroke-width="0.5"/>
<ellipse cx="521.5" cy="318.3" rx="3.6" ry="2.3" fill="#9A5B33" stroke="#74401F" stroke-width="0.5"/>
<ellipse cx="394.1" cy="330.2" rx="3.9" ry="2.4" fill="#8E522D" stroke="#74401F" stroke-width="0.5"/>
<ellipse cx="438.8" cy="331.7" rx="2.8" ry="1.9" fill="#A0623A" stroke="#74401F" stroke-width="0.5"/>
<ellipse cx="633.9" cy="330.7" rx="3.5" ry="2.2" fill="#8E522D" stroke="#74401F" stroke-width="0.5"/>
<ellipse cx="535.9" cy="322.3" rx="3.9" ry="2.9" fill="#8E522D" stroke="#74401F" stroke-width="0.5"/>
<ellipse cx="320.4" cy="322.6" rx="3.6" ry="2.1" fill="#7C4627" stroke="#74401F" stroke-width="0.5"/>
<ellipse cx="390.1" cy="324.6" rx="3.5" ry="2.1" fill="#9A5B33" stroke="#74401F" stroke-width="0.5"/>
<ellipse cx="395.5" cy="316.9" rx="2.8" ry="2.0" fill="#AC6C40" stroke="#74401F" stroke-width="0.5"/>
<ellipse cx="693.5" cy="321.2" rx="3.0" ry="1.7" fill="#B3723F" stroke="#74401F" stroke-width="0.5"/>
<ellipse cx="504.2" cy="329.5" rx="2.8" ry="1.9" fill="#9A5B33" stroke="#74401F" stroke-width="0.5"/>
<ellipse cx="393.7" cy="297.4" rx="3.7" ry="2.7" fill="#7C4627" stroke="#74401F" stroke-width="0.5"/>
<ellipse cx="326.7" cy="330.5" rx="3.2" ry="2.0" fill="#C4854F" stroke="#74401F" stroke-width="0.5"/>
<ellipse cx="709.9" cy="330.7" rx="2.6" ry="1.5" fill="#B3723F" stroke="#74401F" stroke-width="0.5"/>
<ellipse cx="361.9" cy="321.4" rx="3.3" ry="2.0" fill="#C4854F" stroke="#74401F" stroke-width="0.5"/>
<ellipse cx="495.6" cy="310.6" rx="3.2" ry="2.2" fill="#BC7C48" stroke="#74401F" stroke-width="0.5"/>
<ellipse cx="664.3" cy="333.1" rx="2.6" ry="1.6" fill="#B3723F" stroke="#74401F" stroke-width="0.5"/>
<ellipse cx="323.3" cy="327.5" rx="2.9" ry="1.9" fill="#A0623A" stroke="#74401F" stroke-width="0.5"/>
<ellipse cx="602.3" cy="304.5" rx="3.9" ry="2.2" fill="#A0623A" stroke="#74401F" stroke-width="0.5"/>
<ellipse cx="356.7" cy="324.9" rx="2.8" ry="1.8" fill="#C4854F" stroke="#74401F" stroke-width="0.5"/>
<ellipse cx="398.5" cy="316.2" rx="3.5" ry="2.3" fill="#A0623A" stroke="#74401F" stroke-width="0.5"/>
<ellipse cx="522.1" cy="329.8" rx="3.9" ry="2.2" fill="#8E522D" stroke="#74401F" stroke-width="0.5"/>
<ellipse cx="652.7" cy="333.0" rx="2.9" ry="1.6" fill="#C4854F" stroke="#74401F" stroke-width="0.5"/>
<ellipse cx="314.1" cy="327.7" rx="4.0" ry="2.3" fill="#B3723F" stroke="#74401F" stroke-width="0.5"/>
<ellipse cx="472.9" cy="323.3" rx="3.1" ry="1.7" fill="#B3723F" stroke="#74401F" stroke-width="0.5"/>
<ellipse cx="571.9" cy="325.0" rx="3.4" ry="2.3" fill="#AC6C40" stroke="#74401F" stroke-width="0.5"/>
<ellipse cx="469.3" cy="319.9" rx="3.2" ry="2.4" fill="#BC7C48" stroke="#74401F" stroke-width="0.5"/>
<ellipse cx="615.4" cy="329.0" rx="3.7" ry="2.7" fill="#B3723F" stroke="#74401F" stroke-width="0.5"/>
<ellipse cx="404.6" cy="316.2" rx="4.0" ry="2.7" fill="#BC7C48" stroke="#74401F" stroke-width="0.5"/>
<ellipse cx="708.4" cy="332.6" rx="3.5" ry="2.0" fill="#B3723F" stroke="#74401F" stroke-width="0.5"/>
<ellipse cx="675.0" cy="316.8" rx="3.6" ry="2.2" fill="#9A5B33" stroke="#74401F" stroke-width="0.5"/>
<ellipse cx="529.8" cy="320.4" rx="4.0" ry="2.2" fill="#9A5B33" stroke="#74401F" stroke-width="0.5"/>
<ellipse cx="514.1" cy="321.3" rx="4.0" ry="2.4" fill="#BC7C48" stroke="#74401F" stroke-width="0.5"/>
<ellipse cx="451.5" cy="316.2" rx="4.0" ry="2.4" fill="#7C4627" stroke="#74401F" stroke-width="0.5"/>
<ellipse cx="337.1" cy="330.5" rx="3.5" ry="2.6" fill="#AC6C40" stroke="#74401F" stroke-width="0.5"/>
<ellipse cx="414.0" cy="329.3" rx="3.8" ry="2.4" fill="#9A5B33" stroke="#74401F" stroke-width="0.5"/>
<ellipse cx="538.6" cy="333.5" rx="2.7" ry="1.9" fill="#7C4627" stroke="#74401F" stroke-width="0.5"/>
<ellipse cx="519.7" cy="321.7" rx="3.7" ry="2.2" fill="#C4854F" stroke="#74401F" stroke-width="0.5"/>
<ellipse cx="369.6" cy="326.9" rx="2.8" ry="2.1" fill="#B3723F" stroke="#74401F" stroke-width="0.5"/>
<ellipse cx="438.1" cy="321.7" rx="3.8" ry="2.4" fill="#BC7C48" stroke="#74401F" stroke-width="0.5"/>
<ellipse cx="370.2" cy="318.5" rx="2.7" ry="1.7" fill="#AC6C40" stroke="#74401F" stroke-width="0.5"/>
<ellipse cx="490.9" cy="300.1" rx="3.2" ry="2.4" fill="#A0623A" stroke="#74401F" stroke-width="0.5"/>
<ellipse cx="489.5" cy="314.7" rx="3.7" ry="2.6" fill="#C4854F" stroke="#74401F" stroke-width="0.5"/>
<ellipse cx="310.4" cy="328.7" rx="3.3" ry="2.2" fill="#7C4627" stroke="#74401F" stroke-width="0.5"/>
<ellipse cx="519.4" cy="328.5" rx="3.0" ry="2.0" fill="#B3723F" stroke="#74401F" stroke-width="0.5"/>
<ellipse cx="538.5" cy="315.7" rx="2.8" ry="2.0" fill="#AC6C40" stroke="#74401F" stroke-width="0.5"/>
<ellipse cx="678.4" cy="320.6" rx="3.0" ry="1.9" fill="#9A5B33" stroke="#74401F" stroke-width="0.5"/>
<ellipse cx="655.0" cy="318.4" rx="3.2" ry="2.3" fill="#7C4627" stroke="#74401F" stroke-width="0.5"/>
<ellipse cx="679.9" cy="328.7" rx="3.1" ry="1.7" fill="#AC6C40" stroke="#74401F" stroke-width="0.5"/>
<ellipse cx="699.8" cy="327.5" rx="3.5" ry="2.1" fill="#8E522D" stroke="#74401F" stroke-width="0.5"/>
<ellipse cx="463.7" cy="325.6" rx="3.9" ry="2.3" fill="#7C4627" stroke="#74401F" stroke-width="0.5"/>
<ellipse cx="333.6" cy="321.8" rx="3.8" ry="2.2" fill="#9A5B33" stroke="#74401F" stroke-width="0.5"/>
<ellipse cx="461.3" cy="324.7" rx="3.3" ry="2.4" fill="#B3723F" stroke="#74401F" stroke-width="0.5"/>
<ellipse cx="351.6" cy="326.3" rx="3.9" ry="2.7" fill="#BC7C48" stroke="#74401F" stroke-width="0.5"/>
<ellipse cx="475.6" cy="320.1" rx="3.8" ry="2.5" fill="#9A5B33" stroke="#74401F" stroke-width="0.5"/>
<ellipse cx="362.7" cy="329.2" rx="2.6" ry="1.6" fill="#8E522D" stroke="#74401F" stroke-width="0.5"/>
<ellipse cx="470.3" cy="313.6" rx="3.6" ry="2.3" fill="#BC7C48" stroke="#74401F" stroke-width="0.5"/>
<ellipse cx="619.0" cy="298.7" rx="2.9" ry="1.6" fill="#B3723F" stroke="#74401F" stroke-width="0.5"/>
<ellipse cx="349.1" cy="318.7" rx="3.7" ry="2.4" fill="#B3723F" stroke="#74401F" stroke-width="0.5"/>
<ellipse cx="640.9" cy="312.9" rx="3.1" ry="2.2" fill="#BC7C48" stroke="#74401F" stroke-width="0.5"/>
<ellipse cx="648.8" cy="317.0" rx="3.2" ry="1.8" fill="#C4854F" stroke="#74401F" stroke-width="0.5"/>
<ellipse cx="437.5" cy="318.5" rx="4.0" ry="2.3" fill="#AC6C40" stroke="#74401F" stroke-width="0.5"/>
<ellipse cx="518.1" cy="309.4" rx="3.1" ry="2.1" fill="#AC6C40" stroke="#74401F" stroke-width="0.5"/>
<ellipse cx="532.5" cy="324.2" rx="3.2" ry="1.8" fill="#AC6C40" stroke="#74401F" stroke-width="0.5"/>
<ellipse cx="408.4" cy="314.1" rx="3.2" ry="2.1" fill="#AC6C40" stroke="#74401F" stroke-width="0.5"/>
<ellipse cx="389.6" cy="298.6" rx="3.4" ry="2.1" fill="#9A5B33" stroke="#74401F" stroke-width="0.5"/>
<ellipse cx="573.2" cy="328.1" rx="2.8" ry="2.1" fill="#7C4627" stroke="#74401F" stroke-width="0.5"/>
<ellipse cx="388.9" cy="330.6" rx="3.4" ry="1.9" fill="#7C4627" stroke="#74401F" stroke-width="0.5"/>
<ellipse cx="311.4" cy="327.7" rx="3.9" ry="2.8" fill="#B3723F" stroke="#74401F" stroke-width="0.5"/>
<ellipse cx="418.5" cy="328.8" rx="3.0" ry="2.1" fill="#9A5B33" stroke="#74401F" stroke-width="0.5"/>
<ellipse cx="472.0" cy="327.4" rx="2.9" ry="1.7" fill="#C4854F" stroke="#74401F" stroke-width="0.5"/>
<ellipse cx="483.2" cy="322.1" rx="2.7" ry="1.9" fill="#A0623A" stroke="#74401F" stroke-width="0.5"/>
<ellipse cx="637.0" cy="318.8" rx="2.6" ry="1.8" fill="#C4854F" stroke="#74401F" stroke-width="0.5"/>
<ellipse cx="509.3" cy="322.5" rx="3.5" ry="2.2" fill="#8E522D" stroke="#74401F" stroke-width="0.5"/>
<ellipse cx="523.9" cy="315.7" rx="3.7" ry="2.6" fill="#A0623A" stroke="#74401F" stroke-width="0.5"/>
<ellipse cx="496.1" cy="303.0" rx="2.7" ry="1.5" fill="#8E522D" stroke="#74401F" stroke-width="0.5"/>
<ellipse cx="574.2" cy="319.6" rx="3.9" ry="2.7" fill="#C4854F" stroke="#74401F" stroke-width="0.5"/>
<ellipse cx="658.7" cy="332.1" rx="2.8" ry="1.6" fill="#9A5B33" stroke="#74401F" stroke-width="0.5"/>
<ellipse cx="426.6" cy="319.1" rx="3.4" ry="2.1" fill="#C4854F" stroke="#74401F" stroke-width="0.5"/>
<ellipse cx="433.1" cy="319.7" rx="3.4" ry="2.0" fill="#8E522D" stroke="#74401F" stroke-width="0.5"/>
<ellipse cx="466.2" cy="315.4" rx="3.1" ry="2.1" fill="#8E522D" stroke="#74401F" stroke-width="0.5"/>
<ellipse cx="572.6" cy="327.8" rx="2.9" ry="1.7" fill="#C4854F" stroke="#74401F" stroke-width="0.5"/>
<ellipse cx="481.7" cy="323.7" rx="2.8" ry="2.0" fill="#A0623A" stroke="#74401F" stroke-width="0.5"/>
<ellipse cx="573.6" cy="318.7" rx="3.5" ry="2.3" fill="#A0623A" stroke="#74401F" stroke-width="0.5"/>
<ellipse cx="425.5" cy="321.3" rx="3.7" ry="2.4" fill="#A0623A" stroke="#74401F" stroke-width="0.5"/>
<ellipse cx="389.0" cy="307.1" rx="3.0" ry="2.0" fill="#A0623A" stroke="#74401F" stroke-width="0.5"/>
<ellipse cx="389.3" cy="314.1" rx="3.7" ry="2.6" fill="#8E522D" stroke="#74401F" stroke-width="0.5"/>
<ellipse cx="541.8" cy="320.3" rx="3.4" ry="1.9" fill="#B3723F" stroke="#74401F" stroke-width="0.5"/>
<ellipse cx="447.1" cy="332.5" rx="3.5" ry="2.0" fill="#7C4627" stroke="#74401F" stroke-width="0.5"/>
<ellipse cx="449.5" cy="324.0" rx="3.1" ry="1.9" fill="#A0623A" stroke="#74401F" stroke-width="0.5"/>
<ellipse cx="626.2" cy="306.9" rx="2.7" ry="1.8" fill="#A0623A" stroke="#74401F" stroke-width="0.5"/>
<ellipse cx="609.8" cy="301.8" rx="2.8" ry="1.8" fill="#B3723F" stroke="#74401F" stroke-width="0.5"/>
<ellipse cx="321.6" cy="327.9" rx="2.7" ry="1.9" fill="#C4854F" stroke="#74401F" stroke-width="0.5"/>
<ellipse cx="475.8" cy="329.3" rx="2.7" ry="1.9" fill="#C4854F" stroke="#74401F" stroke-width="0.5"/>
<ellipse cx="453.2" cy="327.3" rx="2.7" ry="1.5" fill="#9A5B33" stroke="#74401F" stroke-width="0.5"/>
<ellipse cx="430.6" cy="319.7" rx="2.7" ry="1.6" fill="#C4854F" stroke="#74401F" stroke-width="0.5"/>
<ellipse cx="508.4" cy="317.6" rx="2.8" ry="1.8" fill="#C4854F" stroke="#74401F" stroke-width="0.5"/>
<ellipse cx="537.6" cy="315.3" rx="3.0" ry="2.2" fill="#AC6C40" stroke="#74401F" stroke-width="0.5"/>
<ellipse cx="471.1" cy="316.4" rx="2.8" ry="1.7" fill="#8E522D" stroke="#74401F" stroke-width="0.5"/>
<ellipse cx="667.8" cy="315.7" rx="3.9" ry="2.5" fill="#8E522D" stroke="#74401F" stroke-width="0.5"/>
<ellipse cx="586.3" cy="318.7" rx="3.7" ry="2.1" fill="#AC6C40" stroke="#74401F" stroke-width="0.5"/>
<ellipse cx="711.3" cy="331.8" rx="3.5" ry="2.0" fill="#A0623A" stroke="#74401F" stroke-width="0.5"/>
<ellipse cx="342.1" cy="327.0" rx="2.9" ry="2.0" fill="#B3723F" stroke="#74401F" stroke-width="0.5"/>
<ellipse cx="639.8" cy="308.8" rx="3.1" ry="1.7" fill="#8E522D" stroke="#74401F" stroke-width="0.5"/>
<ellipse cx="557.8" cy="327.8" rx="3.7" ry="2.3" fill="#9A5B33" stroke="#74401F" stroke-width="0.5"/>
<ellipse cx="547.1" cy="318.2" rx="3.0" ry="2.2" fill="#BC7C48" stroke="#74401F" stroke-width="0.5"/>
<ellipse cx="321.0" cy="331.1" rx="2.8" ry="1.8" fill="#C4854F" stroke="#74401F" stroke-width="0.5"/>
<ellipse cx="369.1" cy="321.1" rx="2.8" ry="1.6" fill="#8E522D" stroke="#74401F" stroke-width="0.5"/>
<ellipse cx="585.2" cy="327.9" rx="2.7" ry="1.5" fill="#9A5B33" stroke="#74401F" stroke-width="0.5"/>
<ellipse cx="323.2" cy="327.8" rx="3.1" ry="1.7" fill="#A0623A" stroke="#74401F" stroke-width="0.5"/>
<ellipse cx="388.4" cy="319.8" rx="3.8" ry="2.7" fill="#A0623A" stroke="#74401F" stroke-width="0.5"/>
<ellipse cx="571.0" cy="333.0" rx="3.4" ry="2.4" fill="#9A5B33" stroke="#74401F" stroke-width="0.5"/>
<ellipse cx="579.8" cy="328.7" rx="2.8" ry="2.0" fill="#AC6C40" stroke="#74401F" stroke-width="0.5"/>
<ellipse cx="673.5" cy="329.0" rx="3.8" ry="2.7" fill="#C4854F" stroke="#74401F" stroke-width="0.5"/>
<ellipse cx="483.9" cy="327.9" rx="3.7" ry="2.7" fill="#AC6C40" stroke="#74401F" stroke-width="0.5"/>
<ellipse cx="610.2" cy="318.9" rx="3.5" ry="2.4" fill="#A0623A" stroke="#74401F" stroke-width="0.5"/>
<ellipse cx="699.3" cy="331.2" rx="3.0" ry="2.1" fill="#8E522D" stroke="#74401F" stroke-width="0.5"/>
<ellipse cx="405.0" cy="319.3" rx="3.4" ry="2.5" fill="#B3723F" stroke="#74401F" stroke-width="0.5"/>
<ellipse cx="466.4" cy="329.4" rx="3.7" ry="2.5" fill="#7C4627" stroke="#74401F" stroke-width="0.5"/>
<ellipse cx="641.6" cy="318.6" rx="2.7" ry="1.9" fill="#7C4627" stroke="#74401F" stroke-width="0.5"/>
<ellipse cx="576.0" cy="331.7" rx="3.2" ry="2.0" fill="#AC6C40" stroke="#74401F" stroke-width="0.5"/>
<ellipse cx="505.6" cy="297.7" rx="2.8" ry="2.0" fill="#BC7C48" stroke="#74401F" stroke-width="0.5"/>
<ellipse cx="474.0" cy="316.7" rx="2.8" ry="1.8" fill="#A0623A" stroke="#74401F" stroke-width="0.5"/>
<ellipse cx="450.9" cy="330.6" rx="3.5" ry="2.1" fill="#A0623A" stroke="#74401F" stroke-width="0.5"/>
<ellipse cx="709.0" cy="329.7" rx="3.8" ry="2.4" fill="#8E522D" stroke="#74401F" stroke-width="0.5"/>
<ellipse cx="356.8" cy="328.2" rx="2.7" ry="1.9" fill="#C4854F" stroke="#74401F" stroke-width="0.5"/>
<ellipse cx="465.4" cy="321.0" rx="2.8" ry="1.6" fill="#7C4627" stroke="#74401F" stroke-width="0.5"/>
<ellipse cx="667.5" cy="326.5" rx="3.9" ry="2.4" fill="#9A5B33" stroke="#74401F" stroke-width="0.5"/>
<ellipse cx="436.7" cy="331.2" rx="3.7" ry="2.5" fill="#C4854F" stroke="#74401F" stroke-width="0.5"/>
<ellipse cx="465.9" cy="314.9" rx="3.8" ry="2.2" fill="#8E522D" stroke="#74401F" stroke-width="0.5"/>
<ellipse cx="491.6" cy="326.5" rx="3.0" ry="1.8" fill="#A0623A" stroke="#74401F" stroke-width="0.5"/>
<ellipse cx="705.7" cy="331.7" rx="3.7" ry="2.5" fill="#C4854F" stroke="#74401F" stroke-width="0.5"/>
<ellipse cx="683.2" cy="331.7" rx="3.5" ry="2.0" fill="#7C4627" stroke="#74401F" stroke-width="0.5"/>
<ellipse cx="487.4" cy="332.0" rx="3.1" ry="2.1" fill="#BC7C48" stroke="#74401F" stroke-width="0.5"/>
<ellipse cx="686.9" cy="330.3" rx="2.7" ry="1.8" fill="#9A5B33" stroke="#74401F" stroke-width="0.5"/>
<ellipse cx="454.9" cy="333.1" rx="2.7" ry="1.9" fill="#A0623A" stroke="#74401F" stroke-width="0.5"/>
<ellipse cx="533.2" cy="323.0" rx="3.7" ry="2.7" fill="#9A5B33" stroke="#74401F" stroke-width="0.5"/>
<ellipse cx="322.2" cy="325.6" rx="2.8" ry="2.1" fill="#AC6C40" stroke="#74401F" stroke-width="0.5"/>
<ellipse cx="366.4" cy="326.2" rx="3.4" ry="1.9" fill="#BC7C48" stroke="#74401F" stroke-width="0.5"/>
<ellipse cx="378.1" cy="321.8" rx="4.0" ry="2.7" fill="#8E522D" stroke="#74401F" stroke-width="0.5"/>
<ellipse cx="425.6" cy="325.0" rx="3.2" ry="2.4" fill="#A0623A" stroke="#74401F" stroke-width="0.5"/>
<ellipse cx="633.2" cy="322.9" rx="3.1" ry="2.3" fill="#7C4627" stroke="#74401F" stroke-width="0.5"/>
<ellipse cx="587.1" cy="319.6" rx="2.8" ry="1.9" fill="#B3723F" stroke="#74401F" stroke-width="0.5"/>
<ellipse cx="628.6" cy="309.5" rx="2.8" ry="1.8" fill="#B3723F" stroke="#74401F" stroke-width="0.5"/>
<ellipse cx="373.5" cy="327.3" rx="2.8" ry="1.7" fill="#B3723F" stroke="#74401F" stroke-width="0.5"/>
<ellipse cx="545.3" cy="333.0" rx="3.7" ry="2.3" fill="#C4854F" stroke="#74401F" stroke-width="0.5"/>
<ellipse cx="418.0" cy="331.0" rx="3.3" ry="2.2" fill="#9A5B33" stroke="#74401F" stroke-width="0.5"/>
<ellipse cx="470.8" cy="326.7" rx="3.1" ry="1.9" fill="#9A5B33" stroke="#74401F" stroke-width="0.5"/>
<ellipse cx="415.8" cy="313.6" rx="3.9" ry="2.5" fill="#BC7C48" stroke="#74401F" stroke-width="0.5"/>
<ellipse cx="565.4" cy="329.4" rx="3.0" ry="1.8" fill="#9A5B33" stroke="#74401F" stroke-width="0.5"/>
<ellipse cx="575.2" cy="330.6" rx="3.2" ry="1.8" fill="#BC7C48" stroke="#74401F" stroke-width="0.5"/>
<ellipse cx="454.5" cy="332.0" rx="3.3" ry="2.0" fill="#A0623A" stroke="#74401F" stroke-width="0.5"/>
<ellipse cx="412.9" cy="327.3" rx="2.7" ry="1.9" fill="#AC6C40" stroke="#74401F" stroke-width="0.5"/>
<ellipse cx="450.9" cy="332.4" rx="3.0" ry="1.8" fill="#A0623A" stroke="#74401F" stroke-width="0.5"/>
<ellipse cx="661.7" cy="316.8" rx="3.4" ry="2.5" fill="#A0623A" stroke="#74401F" stroke-width="0.5"/>
<ellipse cx="683.7" cy="319.5" rx="2.8" ry="2.0" fill="#A0623A" stroke="#74401F" stroke-width="0.5"/>
<ellipse cx="620.9" cy="309.6" rx="3.9" ry="2.7" fill="#7C4627" stroke="#74401F" stroke-width="0.5"/>
<ellipse cx="469.6" cy="323.4" rx="3.1" ry="2.2" fill="#C4854F" stroke="#74401F" stroke-width="0.5"/>
<ellipse cx="522.8" cy="322.9" rx="3.5" ry="2.6" fill="#C4854F" stroke="#74401F" stroke-width="0.5"/>
<ellipse cx="394.1" cy="321.3" rx="3.9" ry="2.2" fill="#B3723F" stroke="#74401F" stroke-width="0.5"/>
<ellipse cx="652.2" cy="327.2" rx="3.4" ry="2.2" fill="#AC6C40" stroke="#74401F" stroke-width="0.5"/>
<ellipse cx="625.2" cy="321.3" rx="3.8" ry="2.2" fill="#8E522D" stroke="#74401F" stroke-width="0.5"/>
<ellipse cx="579.3" cy="328.8" rx="3.3" ry="2.4" fill="#B3723F" stroke="#74401F" stroke-width="0.5"/>
<ellipse cx="608.2" cy="327.3" rx="3.5" ry="2.5" fill="#C4854F" stroke="#74401F" stroke-width="0.5"/>
<ellipse cx="569.6" cy="331.2" rx="3.1" ry="2.3" fill="#A0623A" stroke="#74401F" stroke-width="0.5"/>
<ellipse cx="619.7" cy="317.8" rx="3.3" ry="2.2" fill="#8E522D" stroke="#74401F" stroke-width="0.5"/>
<ellipse cx="432.9" cy="321.6" rx="3.4" ry="2.5" fill="#A0623A" stroke="#74401F" stroke-width="0.5"/>
<ellipse cx="453.3" cy="327.9" rx="2.7" ry="1.9" fill="#7C4627" stroke="#74401F" stroke-width="0.5"/>
<ellipse cx="396.2" cy="312.5" rx="3.7" ry="2.3" fill="#B3723F" stroke="#74401F" stroke-width="0.5"/>
<ellipse cx="702.8" cy="329.9" rx="3.4" ry="1.9" fill="#9A5B33" stroke="#74401F" stroke-width="0.5"/>
<ellipse cx="352.7" cy="320.7" rx="3.5" ry="2.2" fill="#7C4627" stroke="#74401F" stroke-width="0.5"/>
<ellipse cx="522.4" cy="316.2" rx="3.4" ry="2.4" fill="#AC6C40" stroke="#74401F" stroke-width="0.5"/>
<ellipse cx="647.1" cy="329.7" rx="3.4" ry="1.9" fill="#C4854F" stroke="#74401F" stroke-width="0.5"/>
<ellipse cx="319.5" cy="328.2" rx="3.2" ry="1.8" fill="#AC6C40" stroke="#74401F" stroke-width="0.5"/>
<ellipse cx="600.7" cy="321.4" rx="3.2" ry="2.1" fill="#BC7C48" stroke="#74401F" stroke-width="0.5"/>
<ellipse cx="399.4" cy="328.6" rx="4.0" ry="2.8" fill="#7C4627" stroke="#74401F" stroke-width="0.5"/>
<ellipse cx="573.8" cy="319.5" rx="3.5" ry="2.3" fill="#BC7C48" stroke="#74401F" stroke-width="0.5"/>
<ellipse cx="491.4" cy="321.8" rx="3.6" ry="2.3" fill="#7C4627" stroke="#74401F" stroke-width="0.5"/>
<ellipse cx="556.7" cy="317.2" rx="2.8" ry="2.0" fill="#A0623A" stroke="#74401F" stroke-width="0.5"/>
<ellipse cx="605.3" cy="317.7" rx="3.2" ry="1.9" fill="#8E522D" stroke="#74401F" stroke-width="0.5"/>
<ellipse cx="620.4" cy="301.8" rx="3.7" ry="2.6" fill="#AC6C40" stroke="#74401F" stroke-width="0.5"/>
<ellipse cx="610.1" cy="331.6" rx="3.9" ry="2.7" fill="#B3723F" stroke="#74401F" stroke-width="0.5"/>
<ellipse cx="333.3" cy="321.9" rx="2.6" ry="1.9" fill="#AC6C40" stroke="#74401F" stroke-width="0.5"/>
<ellipse cx="533.3" cy="326.4" rx="3.4" ry="2.1" fill="#7C4627" stroke="#74401F" stroke-width="0.5"/>
<ellipse cx="431.5" cy="315.7" rx="2.8" ry="1.8" fill="#B3723F" stroke="#74401F" stroke-width="0.5"/>
<ellipse cx="633.0" cy="315.6" rx="2.7" ry="1.6" fill="#C4854F" stroke="#74401F" stroke-width="0.5"/>
<ellipse cx="455.0" cy="331.4" rx="3.3" ry="1.9" fill="#7C4627" stroke="#74401F" stroke-width="0.5"/>
<ellipse cx="629.1" cy="314.5" rx="3.8" ry="2.2" fill="#A0623A" stroke="#74401F" stroke-width="0.5"/>
<ellipse cx="521.4" cy="316.0" rx="3.1" ry="2.0" fill="#B3723F" stroke="#74401F" stroke-width="0.5"/>
<ellipse cx="686.8" cy="320.1" rx="3.0" ry="2.1" fill="#BC7C48" stroke="#74401F" stroke-width="0.5"/>
<ellipse cx="620.9" cy="322.7" rx="2.8" ry="2.1" fill="#BC7C48" stroke="#74401F" stroke-width="0.5"/>
<ellipse cx="362.1" cy="316.4" rx="2.9" ry="1.9" fill="#BC7C48" stroke="#74401F" stroke-width="0.5"/>
<ellipse cx="319.2" cy="331.5" rx="4.0" ry="2.2" fill="#B3723F" stroke="#74401F" stroke-width="0.5"/>
<ellipse cx="390.4" cy="317.7" rx="3.9" ry="2.8" fill="#7C4627" stroke="#74401F" stroke-width="0.5"/>
<ellipse cx="560.3" cy="331.4" rx="3.3" ry="2.2" fill="#8E522D" stroke="#74401F" stroke-width="0.5"/>
<ellipse cx="311.0" cy="328.8" rx="3.1" ry="2.2" fill="#A0623A" stroke="#74401F" stroke-width="0.5"/>
<ellipse cx="546.9" cy="317.2" rx="2.9" ry="1.8" fill="#9A5B33" stroke="#74401F" stroke-width="0.5"/>
<ellipse cx="615.7" cy="317.0" rx="3.6" ry="2.6" fill="#C4854F" stroke="#74401F" stroke-width="0.5"/>
<ellipse cx="469.7" cy="326.9" rx="3.6" ry="2.2" fill="#9A5B33" stroke="#74401F" stroke-width="0.5"/>
<ellipse cx="587.6" cy="323.3" rx="2.8" ry="2.0" fill="#BC7C48" stroke="#74401F" stroke-width="0.5"/>
<ellipse cx="333.3" cy="322.4" rx="4.0" ry="2.4" fill="#BC7C48" stroke="#74401F" stroke-width="0.5"/>
<ellipse cx="536.7" cy="328.7" rx="2.9" ry="2.0" fill="#B3723F" stroke="#74401F" stroke-width="0.5"/>
<ellipse cx="406.0" cy="330.4" rx="2.9" ry="1.6" fill="#9A5B33" stroke="#74401F" stroke-width="0.5"/>
<ellipse cx="327.7" cy="323.2" rx="3.9" ry="2.3" fill="#B3723F" stroke="#74401F" stroke-width="0.5"/>
<ellipse cx="683.9" cy="327.4" rx="3.9" ry="2.3" fill="#C4854F" stroke="#74401F" stroke-width="0.5"/>
<ellipse cx="497.0" cy="313.4" rx="3.9" ry="2.8" fill="#A0623A" stroke="#74401F" stroke-width="0.5"/>
<ellipse cx="383.5" cy="327.2" rx="2.8" ry="1.8" fill="#A0623A" stroke="#74401F" stroke-width="0.5"/>
<ellipse cx="514.0" cy="332.2" rx="3.1" ry="2.3" fill="#A0623A" stroke="#74401F" stroke-width="0.5"/>
<ellipse cx="652.0" cy="325.0" rx="3.7" ry="2.4" fill="#A0623A" stroke="#74401F" stroke-width="0.5"/>
<ellipse cx="593.2" cy="326.0" rx="3.5" ry="2.2" fill="#B3723F" stroke="#74401F" stroke-width="0.5"/>
<ellipse cx="534.2" cy="318.4" rx="2.9" ry="1.9" fill="#9A5B33" stroke="#74401F" stroke-width="0.5"/>
<ellipse cx="392.3" cy="322.5" rx="3.6" ry="2.5" fill="#A0623A" stroke="#74401F" stroke-width="0.5"/>
<ellipse cx="555.5" cy="316.7" rx="3.3" ry="2.3" fill="#A0623A" stroke="#74401F" stroke-width="0.5"/>
<ellipse cx="603.0" cy="328.8" rx="3.8" ry="2.2" fill="#7C4627" stroke="#74401F" stroke-width="0.5"/>
<ellipse cx="418.7" cy="317.8" rx="3.0" ry="2.0" fill="#7C4627" stroke="#74401F" stroke-width="0.5"/>
<ellipse cx="618.6" cy="294.4" rx="2.7" ry="1.5" fill="#8E522D" stroke="#74401F" stroke-width="0.5"/>
<ellipse cx="518.1" cy="319.1" rx="3.2" ry="2.1" fill="#8E522D" stroke="#74401F" stroke-width="0.5"/>
<ellipse cx="678.2" cy="328.9" rx="3.7" ry="2.7" fill="#B3723F" stroke="#74401F" stroke-width="0.5"/>
<ellipse cx="597.5" cy="308.1" rx="3.6" ry="2.6" fill="#BC7C48" stroke="#74401F" stroke-width="0.5"/>
<ellipse cx="631.7" cy="301.4" rx="3.5" ry="2.1" fill="#AC6C40" stroke="#74401F" stroke-width="0.5"/>
<ellipse cx="593.4" cy="316.7" rx="3.0" ry="1.9" fill="#7C4627" stroke="#74401F" stroke-width="0.5"/>
<ellipse cx="462.4" cy="317.8" rx="2.8" ry="2.1" fill="#9A5B33" stroke="#74401F" stroke-width="0.5"/>
<ellipse cx="616.0" cy="327.2" rx="4.0" ry="2.8" fill="#AC6C40" stroke="#74401F" stroke-width="0.5"/>
<ellipse cx="632.7" cy="300.8" rx="3.4" ry="2.1" fill="#7C4627" stroke="#74401F" stroke-width="0.5"/>
<ellipse cx="680.0" cy="322.0" rx="3.7" ry="2.6" fill="#7C4627" stroke="#74401F" stroke-width="0.5"/>
<ellipse cx="629.0" cy="316.5" rx="2.7" ry="2.0" fill="#7C4627" stroke="#74401F" stroke-width="0.5"/>
<ellipse cx="479.7" cy="314.2" rx="2.7" ry="1.5" fill="#9A5B33" stroke="#74401F" stroke-width="0.5"/>
<ellipse cx="373.1" cy="322.6" rx="3.5" ry="2.3" fill="#BC7C48" stroke="#74401F" stroke-width="0.5"/>
<ellipse cx="684.3" cy="325.4" rx="3.7" ry="2.5" fill="#8E522D" stroke="#74401F" stroke-width="0.5"/>
<ellipse cx="396.1" cy="324.0" rx="3.8" ry="2.7" fill="#BC7C48" stroke="#74401F" stroke-width="0.5"/>
<ellipse cx="597.2" cy="333.2" rx="2.8" ry="1.8" fill="#C4854F" stroke="#74401F" stroke-width="0.5"/>
<ellipse cx="587.0" cy="328.6" rx="3.7" ry="2.2" fill="#AC6C40" stroke="#74401F" stroke-width="0.5"/>
<ellipse cx="696.1" cy="321.9" rx="3.8" ry="2.6" fill="#C4854F" stroke="#74401F" stroke-width="0.5"/>
<ellipse cx="573.1" cy="326.0" rx="3.6" ry="2.2" fill="#A0623A" stroke="#74401F" stroke-width="0.5"/>
<ellipse cx="602.8" cy="319.2" rx="2.7" ry="1.5" fill="#A0623A" stroke="#74401F" stroke-width="0.5"/>
<ellipse cx="599.9" cy="323.5" rx="3.3" ry="2.4" fill="#9A5B33" stroke="#74401F" stroke-width="0.5"/>
<ellipse cx="379.9" cy="306.7" rx="3.0" ry="1.9" fill="#C4854F" stroke="#74401F" stroke-width="0.5"/>
<ellipse cx="487.8" cy="324.1" rx="2.7" ry="2.0" fill="#7C4627" stroke="#74401F" stroke-width="0.5"/>
<ellipse cx="438.4" cy="318.8" rx="3.1" ry="2.2" fill="#A0623A" stroke="#74401F" stroke-width="0.5"/>
<ellipse cx="653.4" cy="329.8" rx="3.5" ry="2.1" fill="#B3723F" stroke="#74401F" stroke-width="0.5"/>
<ellipse cx="649.6" cy="315.7" rx="2.7" ry="1.9" fill="#AC6C40" stroke="#74401F" stroke-width="0.5"/>
<ellipse cx="575.1" cy="318.1" rx="2.8" ry="1.6" fill="#B3723F" stroke="#74401F" stroke-width="0.5"/>
<ellipse cx="462.7" cy="327.0" rx="3.4" ry="2.0" fill="#A0623A" stroke="#74401F" stroke-width="0.5"/>
<ellipse cx="427.5" cy="319.8" rx="3.9" ry="2.9" fill="#7C4627" stroke="#74401F" stroke-width="0.5"/>
<ellipse cx="454.9" cy="328.4" rx="2.8" ry="2.0" fill="#AC6C40" stroke="#74401F" stroke-width="0.5"/>
<ellipse cx="457.7" cy="318.0" rx="3.5" ry="2.6" fill="#C4854F" stroke="#74401F" stroke-width="0.5"/>
<ellipse cx="423.3" cy="321.5" rx="3.7" ry="2.2" fill="#8E522D" stroke="#74401F" stroke-width="0.5"/>
<ellipse cx="666.2" cy="329.2" rx="3.8" ry="2.3" fill="#9A5B33" stroke="#74401F" stroke-width="0.5"/>
<ellipse cx="414.2" cy="307.6" rx="2.7" ry="1.7" fill="#7C4627" stroke="#74401F" stroke-width="0.5"/>
<ellipse cx="402.9" cy="298.8" rx="3.2" ry="1.8" fill="#9A5B33" stroke="#74401F" stroke-width="0.5"/>
<ellipse cx="532.3" cy="323.8" rx="3.2" ry="2.0" fill="#C4854F" stroke="#74401F" stroke-width="0.5"/>
<ellipse cx="675.6" cy="323.5" rx="2.7" ry="1.6" fill="#AC6C40" stroke="#74401F" stroke-width="0.5"/>
<ellipse cx="453.9" cy="323.7" rx="3.9" ry="2.6" fill="#A0623A" stroke="#74401F" stroke-width="0.5"/>
<ellipse cx="513.8" cy="318.0" rx="2.9" ry="2.0" fill="#BC7C48" stroke="#74401F" stroke-width="0.5"/>
<ellipse cx="352.5" cy="332.6" rx="3.3" ry="2.0" fill="#C4854F" stroke="#74401F" stroke-width="0.5"/>
<ellipse cx="514.2" cy="313.2" rx="2.7" ry="1.8" fill="#9A5B33" stroke="#74401F" stroke-width="0.5"/>
<ellipse cx="681.3" cy="324.3" rx="3.6" ry="2.0" fill="#9A5B33" stroke="#74401F" stroke-width="0.5"/>
<ellipse cx="562.9" cy="316.9" rx="3.0" ry="2.1" fill="#A0623A" stroke="#74401F" stroke-width="0.5"/>
<ellipse cx="356.4" cy="333.2" rx="3.3" ry="1.9" fill="#B3723F" stroke="#74401F" stroke-width="0.5"/>
<ellipse cx="561.5" cy="330.0" rx="3.9" ry="2.6" fill="#B3723F" stroke="#74401F" stroke-width="0.5"/>
<ellipse cx="525.0" cy="318.0" rx="3.3" ry="2.2" fill="#7C4627" stroke="#74401F" stroke-width="0.5"/>
<ellipse cx="366.6" cy="330.0" rx="3.9" ry="2.7" fill="#7C4627" stroke="#74401F" stroke-width="0.5"/>
<ellipse cx="573.2" cy="327.0" rx="3.6" ry="2.0" fill="#9A5B33" stroke="#74401F" stroke-width="0.5"/>
<ellipse cx="672.2" cy="317.2" rx="2.9" ry="1.6" fill="#9A5B33" stroke="#74401F" stroke-width="0.5"/>
<ellipse cx="702.1" cy="332.0" rx="3.0" ry="1.9" fill="#8E522D" stroke="#74401F" stroke-width="0.5"/>
<ellipse cx="687.5" cy="323.6" rx="3.6" ry="2.0" fill="#9A5B33" stroke="#74401F" stroke-width="0.5"/>
<ellipse cx="402.2" cy="314.6" rx="3.3" ry="2.5" fill="#9A5B33" stroke="#74401F" stroke-width="0.5"/>
<ellipse cx="579.7" cy="318.6" rx="3.9" ry="2.3" fill="#9A5B33" stroke="#74401F" stroke-width="0.5"/>
<ellipse cx="389.6" cy="333.5" rx="3.2" ry="1.9" fill="#7C4627" stroke="#74401F" stroke-width="0.5"/>
<ellipse cx="320.8" cy="324.3" rx="3.2" ry="2.2" fill="#7C4627" stroke="#74401F" stroke-width="0.5"/>
<ellipse cx="619.1" cy="303.4" rx="3.8" ry="2.2" fill="#AC6C40" stroke="#74401F" stroke-width="0.5"/>
<ellipse cx="553.1" cy="323.8" rx="3.4" ry="2.1" fill="#AC6C40" stroke="#74401F" stroke-width="0.5"/>
<ellipse cx="405.1" cy="303.4" rx="3.9" ry="2.3" fill="#C4854F" stroke="#74401F" stroke-width="0.5"/>
<ellipse cx="711.4" cy="331.2" rx="3.0" ry="2.1" fill="#C4854F" stroke="#74401F" stroke-width="0.5"/>
<ellipse cx="402.7" cy="303.6" rx="3.4" ry="2.2" fill="#BC7C48" stroke="#74401F" stroke-width="0.5"/>
<ellipse cx="410.3" cy="320.8" rx="2.9" ry="1.7" fill="#AC6C40" stroke="#74401F" stroke-width="0.5"/>
<ellipse cx="699.0" cy="330.3" rx="2.7" ry="1.7" fill="#A0623A" stroke="#74401F" stroke-width="0.5"/>
<ellipse cx="698.9" cy="332.4" rx="2.7" ry="1.9" fill="#C4854F" stroke="#74401F" stroke-width="0.5"/>
<ellipse cx="659.7" cy="322.7" rx="3.3" ry="2.4" fill="#A0623A" stroke="#74401F" stroke-width="0.5"/>
<ellipse cx="488.3" cy="315.9" rx="3.3" ry="2.3" fill="#7C4627" stroke="#74401F" stroke-width="0.5"/>
<ellipse cx="671.1" cy="332.8" rx="2.9" ry="1.6" fill="#AC6C40" stroke="#74401F" stroke-width="0.5"/>
<ellipse cx="538.4" cy="318.0" rx="3.6" ry="2.1" fill="#8E522D" stroke="#74401F" stroke-width="0.5"/>
<ellipse cx="474.5" cy="332.4" rx="3.0" ry="2.1" fill="#B3723F" stroke="#74401F" stroke-width="0.5"/>
<ellipse cx="560.2" cy="323.8" rx="3.5" ry="2.5" fill="#B3723F" stroke="#74401F" stroke-width="0.5"/>
<ellipse cx="487.7" cy="310.6" rx="3.7" ry="2.7" fill="#C4854F" stroke="#74401F" stroke-width="0.5"/>
<ellipse cx="496.1" cy="307.7" rx="4.0" ry="3.0" fill="#A0623A" stroke="#74401F" stroke-width="0.5"/>
<ellipse cx="695.0" cy="322.9" rx="3.2" ry="2.4" fill="#8E522D" stroke="#74401F" stroke-width="0.5"/>
<ellipse cx="457.8" cy="328.1" rx="3.1" ry="2.0" fill="#7C4627" stroke="#74401F" stroke-width="0.5"/>
<ellipse cx="359.5" cy="320.2" rx="2.9" ry="1.7" fill="#B3723F" stroke="#74401F" stroke-width="0.5"/>
<ellipse cx="514.0" cy="330.0" rx="3.5" ry="2.4" fill="#9A5B33" stroke="#74401F" stroke-width="0.5"/>
<ellipse cx="543.3" cy="332.4" rx="3.4" ry="2.1" fill="#BC7C48" stroke="#74401F" stroke-width="0.5"/>
<ellipse cx="435.1" cy="330.0" rx="3.6" ry="2.4" fill="#C4854F" stroke="#74401F" stroke-width="0.5"/>
<ellipse cx="467.2" cy="316.9" rx="3.5" ry="2.1" fill="#8E522D" stroke="#74401F" stroke-width="0.5"/>
<ellipse cx="564.4" cy="328.1" rx="4.0" ry="2.3" fill="#AC6C40" stroke="#74401F" stroke-width="0.5"/>
<ellipse cx="570.1" cy="317.9" rx="2.7" ry="1.7" fill="#B3723F" stroke="#74401F" stroke-width="0.5"/>
<ellipse cx="388.1" cy="297.7" rx="3.3" ry="2.3" fill="#AC6C40" stroke="#74401F" stroke-width="0.5"/>
<ellipse cx="319.7" cy="331.3" rx="3.8" ry="2.1" fill="#8E522D" stroke="#74401F" stroke-width="0.5"/>
<ellipse cx="309.6" cy="329.9" rx="3.0" ry="2.1" fill="#8E522D" stroke="#74401F" stroke-width="0.5"/>
<ellipse cx="315.8" cy="325.6" rx="3.9" ry="2.9" fill="#C4854F" stroke="#74401F" stroke-width="0.5"/>
<ellipse cx="497.8" cy="297.6" rx="3.1" ry="1.9" fill="#9A5B33" stroke="#74401F" stroke-width="0.5"/>
<ellipse cx="661.4" cy="321.2" rx="3.9" ry="2.3" fill="#AC6C40" stroke="#74401F" stroke-width="0.5"/>
<ellipse cx="344.9" cy="327.6" rx="3.6" ry="2.2" fill="#7C4627" stroke="#74401F" stroke-width="0.5"/>
<ellipse cx="446.0" cy="324.2" rx="2.9" ry="2.1" fill="#B3723F" stroke="#74401F" stroke-width="0.5"/>
<ellipse cx="611.5" cy="327.5" rx="3.2" ry="1.9" fill="#B3723F" stroke="#74401F" stroke-width="0.5"/>
<ellipse cx="400.7" cy="326.0" rx="3.7" ry="2.1" fill="#C4854F" stroke="#74401F" stroke-width="0.5"/>
<ellipse cx="385.3" cy="323.5" rx="3.7" ry="2.6" fill="#8E522D" stroke="#74401F" stroke-width="0.5"/>
<ellipse cx="559.5" cy="330.3" rx="3.3" ry="2.1" fill="#B3723F" stroke="#74401F" stroke-width="0.5"/>
<ellipse cx="385.9" cy="319.1" rx="2.8" ry="1.9" fill="#8E522D" stroke="#74401F" stroke-width="0.5"/>
<ellipse cx="611.3" cy="315.1" rx="3.3" ry="2.1" fill="#B3723F" stroke="#74401F" stroke-width="0.5"/>
<ellipse cx="320.5" cy="330.4" rx="2.9" ry="1.8" fill="#9A5B33" stroke="#74401F" stroke-width="0.5"/>
<ellipse cx="556.3" cy="331.7" rx="2.9" ry="1.8" fill="#AC6C40" stroke="#74401F" stroke-width="0.5"/>
<ellipse cx="361.0" cy="317.3" rx="3.2" ry="2.0" fill="#AC6C40" stroke="#74401F" stroke-width="0.5"/>
<ellipse cx="468.2" cy="324.4" rx="3.0" ry="2.1" fill="#7C4627" stroke="#74401F" stroke-width="0.5"/>
<ellipse cx="344.0" cy="318.6" rx="3.3" ry="1.9" fill="#8E522D" stroke="#74401F" stroke-width="0.5"/>
<ellipse cx="494.5" cy="303.2" rx="2.8" ry="1.8" fill="#7C4627" stroke="#74401F" stroke-width="0.5"/>
<ellipse cx="585.1" cy="323.5" rx="3.0" ry="1.7" fill="#A0623A" stroke="#74401F" stroke-width="0.5"/>
<ellipse cx="560.0" cy="323.2" rx="2.7" ry="1.9" fill="#8E522D" stroke="#74401F" stroke-width="0.5"/>
<ellipse cx="489.6" cy="328.2" rx="3.9" ry="2.5" fill="#7C4627" stroke="#74401F" stroke-width="0.5"/>
<ellipse cx="524.1" cy="328.9" rx="3.6" ry="2.2" fill="#B3723F" stroke="#74401F" stroke-width="0.5"/>
<ellipse cx="350.4" cy="324.6" rx="3.5" ry="2.1" fill="#B3723F" stroke="#74401F" stroke-width="0.5"/>
<ellipse cx="654.7" cy="332.4" rx="3.4" ry="1.9" fill="#B3723F" stroke="#74401F" stroke-width="0.5"/>
<ellipse cx="429.2" cy="316.1" rx="3.7" ry="2.6" fill="#BC7C48" stroke="#74401F" stroke-width="0.5"/>
<ellipse cx="518.0" cy="310.8" rx="3.6" ry="2.5" fill="#B3723F" stroke="#74401F" stroke-width="0.5"/>
<ellipse cx="320.9" cy="332.5" rx="3.5" ry="2.3" fill="#A0623A" stroke="#74401F" stroke-width="0.5"/>
<ellipse cx="435.7" cy="330.1" rx="3.4" ry="2.2" fill="#8E522D" stroke="#74401F" stroke-width="0.5"/>
<ellipse cx="378.2" cy="326.8" rx="3.2" ry="2.0" fill="#A0623A" stroke="#74401F" stroke-width="0.5"/>
<ellipse cx="668.0" cy="323.7" rx="3.4" ry="1.9" fill="#BC7C48" stroke="#74401F" stroke-width="0.5"/>
<ellipse cx="499.0" cy="331.8" rx="3.4" ry="2.1" fill="#9A5B33" stroke="#74401F" stroke-width="0.5"/>
<ellipse cx="466.9" cy="318.5" rx="3.7" ry="2.6" fill="#9A5B33" stroke="#74401F" stroke-width="0.5"/>
<ellipse cx="351.2" cy="330.4" rx="3.1" ry="1.8" fill="#AC6C40" stroke="#74401F" stroke-width="0.5"/>
<ellipse cx="515.2" cy="328.1" rx="3.6" ry="2.7" fill="#7C4627" stroke="#74401F" stroke-width="0.5"/>
<ellipse cx="434.6" cy="328.5" rx="3.8" ry="2.6" fill="#BC7C48" stroke="#74401F" stroke-width="0.5"/>
<ellipse cx="330.8" cy="319.1" rx="2.9" ry="1.8" fill="#AC6C40" stroke="#74401F" stroke-width="0.5"/>
<ellipse cx="553.0" cy="331.6" rx="3.9" ry="2.4" fill="#7C4627" stroke="#74401F" stroke-width="0.5"/>
<ellipse cx="638.8" cy="313.3" rx="3.1" ry="1.9" fill="#7C4627" stroke="#74401F" stroke-width="0.5"/>
<ellipse cx="467.3" cy="320.0" rx="3.9" ry="2.2" fill="#BC7C48" stroke="#74401F" stroke-width="0.5"/>
<ellipse cx="613.5" cy="324.8" rx="3.4" ry="2.5" fill="#B3723F" stroke="#74401F" stroke-width="0.5"/>
<ellipse cx="708.2" cy="332.1" rx="3.7" ry="2.6" fill="#AC6C40" stroke="#74401F" stroke-width="0.5"/>
<ellipse cx="511.8" cy="312.2" rx="3.2" ry="2.0" fill="#8E522D" stroke="#74401F" stroke-width="0.5"/>
<ellipse cx="525.8" cy="320.6" rx="3.7" ry="2.3" fill="#C4854F" stroke="#74401F" stroke-width="0.5"/>
<ellipse cx="650.5" cy="331.2" rx="2.8" ry="2.1" fill="#B3723F" stroke="#74401F" stroke-width="0.5"/>
<ellipse cx="628.6" cy="327.7" rx="4.0" ry="2.9" fill="#9A5B33" stroke="#74401F" stroke-width="0.5"/>
<ellipse cx="624.3" cy="325.1" rx="3.8" ry="2.3" fill="#7C4627" stroke="#74401F" stroke-width="0.5"/>
<ellipse cx="453.8" cy="316.2" rx="2.8" ry="2.0" fill="#B3723F" stroke="#74401F" stroke-width="0.5"/>
<ellipse cx="399.7" cy="299.0" rx="2.7" ry="1.9" fill="#8E522D" stroke="#74401F" stroke-width="0.5"/>
<ellipse cx="655.4" cy="326.7" rx="3.0" ry="2.0" fill="#BC7C48" stroke="#74401F" stroke-width="0.5"/>
<ellipse cx="433.2" cy="326.7" rx="3.9" ry="2.5" fill="#7C4627" stroke="#74401F" stroke-width="0.5"/>
<ellipse cx="604.4" cy="311.5" rx="3.8" ry="2.5" fill="#A0623A" stroke="#74401F" stroke-width="0.5"/>
<ellipse cx="550.4" cy="333.5" rx="3.9" ry="2.2" fill="#9A5B33" stroke="#74401F" stroke-width="0.5"/>
<ellipse cx="476.2" cy="330.4" rx="3.5" ry="2.1" fill="#7C4627" stroke="#74401F" stroke-width="0.5"/>
<ellipse cx="527.3" cy="332.1" rx="3.5" ry="2.5" fill="#B3723F" stroke="#74401F" stroke-width="0.5"/>
<ellipse cx="494.5" cy="317.3" rx="2.6" ry="1.5" fill="#A0623A" stroke="#74401F" stroke-width="0.5"/>
<ellipse cx="382.3" cy="311.0" rx="3.3" ry="2.3" fill="#A0623A" stroke="#74401F" stroke-width="0.5"/>
<ellipse cx="397.8" cy="323.8" rx="3.7" ry="2.2" fill="#BC7C48" stroke="#74401F" stroke-width="0.5"/>
<ellipse cx="371.7" cy="325.6" rx="2.7" ry="1.7" fill="#7C4627" stroke="#74401F" stroke-width="0.5"/>
<ellipse cx="429.9" cy="321.0" rx="3.6" ry="2.1" fill="#B3723F" stroke="#74401F" stroke-width="0.5"/>
<ellipse cx="578.1" cy="317.3" rx="3.9" ry="3.0" fill="#C4854F" stroke="#74401F" stroke-width="0.5"/>
<ellipse cx="382.1" cy="330.7" rx="3.4" ry="2.4" fill="#7C4627" stroke="#74401F" stroke-width="0.5"/>
<ellipse cx="329.6" cy="320.1" rx="3.3" ry="2.4" fill="#8E522D" stroke="#74401F" stroke-width="0.5"/>
<ellipse cx="514.4" cy="331.5" rx="3.4" ry="2.0" fill="#9A5B33" stroke="#74401F" stroke-width="0.5"/>
<ellipse cx="632.6" cy="314.4" rx="3.4" ry="2.1" fill="#AC6C40" stroke="#74401F" stroke-width="0.5"/>
<ellipse cx="402.4" cy="305.3" rx="3.5" ry="2.0" fill="#B3723F" stroke="#74401F" stroke-width="0.5"/>
<ellipse cx="632.3" cy="330.3" rx="2.8" ry="2.0" fill="#AC6C40" stroke="#74401F" stroke-width="0.5"/>
<ellipse cx="401.8" cy="327.0" rx="2.9" ry="1.7" fill="#8E522D" stroke="#74401F" stroke-width="0.5"/>
<ellipse cx="702.3" cy="331.0" rx="2.8" ry="1.8" fill="#8E522D" stroke="#74401F" stroke-width="0.5"/>
<ellipse cx="418.1" cy="329.7" rx="3.9" ry="2.2" fill="#B3723F" stroke="#74401F" stroke-width="0.5"/>
<ellipse cx="486.8" cy="302.4" rx="2.7" ry="1.9" fill="#BC7C48" stroke="#74401F" stroke-width="0.5"/>
<ellipse cx="365.4" cy="324.0" rx="3.5" ry="2.6" fill="#7C4627" stroke="#74401F" stroke-width="0.5"/>
<ellipse cx="472.9" cy="327.1" rx="4.0" ry="2.4" fill="#BC7C48" stroke="#74401F" stroke-width="0.5"/>
<ellipse cx="452.0" cy="323.1" rx="3.0" ry="2.1" fill="#9A5B33" stroke="#74401F" stroke-width="0.5"/>
<ellipse cx="342.3" cy="321.0" rx="3.0" ry="2.0" fill="#C4854F" stroke="#74401F" stroke-width="0.5"/>
<ellipse cx="476.7" cy="329.3" rx="3.7" ry="2.5" fill="#9A5B33" stroke="#74401F" stroke-width="0.5"/>
<ellipse cx="689.7" cy="324.9" rx="2.9" ry="1.9" fill="#C4854F" stroke="#74401F" stroke-width="0.5"/>
<ellipse cx="510.1" cy="308.2" rx="3.1" ry="1.9" fill="#A0623A" stroke="#74401F" stroke-width="0.5"/>
<ellipse cx="471.0" cy="319.7" rx="3.2" ry="2.0" fill="#BC7C48" stroke="#74401F" stroke-width="0.5"/>
<ellipse cx="568.8" cy="323.6" rx="3.8" ry="2.5" fill="#B3723F" stroke="#74401F" stroke-width="0.5"/>
<ellipse cx="651.2" cy="328.3" rx="3.1" ry="2.1" fill="#BC7C48" stroke="#74401F" stroke-width="0.5"/>
<ellipse cx="692.6" cy="327.9" rx="2.8" ry="1.9" fill="#B3723F" stroke="#74401F" stroke-width="0.5"/>
<ellipse cx="691.5" cy="320.3" rx="3.1" ry="2.2" fill="#7C4627" stroke="#74401F" stroke-width="0.5"/>
<ellipse cx="546.4" cy="327.5" rx="3.1" ry="2.3" fill="#BC7C48" stroke="#74401F" stroke-width="0.5"/>
<ellipse cx="571.0" cy="320.2" rx="2.8" ry="2.0" fill="#B3723F" stroke="#74401F" stroke-width="0.5"/>
<ellipse cx="557.0" cy="329.9" rx="3.2" ry="1.9" fill="#B3723F" stroke="#74401F" stroke-width="0.5"/>
<ellipse cx="449.3" cy="324.9" rx="3.9" ry="2.6" fill="#9A5B33" stroke="#74401F" stroke-width="0.5"/>
<ellipse cx="355.0" cy="321.0" rx="3.5" ry="2.3" fill="#AC6C40" stroke="#74401F" stroke-width="0.5"/>
<ellipse cx="314.8" cy="331.8" rx="2.7" ry="1.9" fill="#B3723F" stroke="#74401F" stroke-width="0.5"/>
<ellipse cx="419.4" cy="318.7" rx="3.8" ry="2.2" fill="#BC7C48" stroke="#74401F" stroke-width="0.5"/>
<ellipse cx="316.8" cy="325.8" rx="2.7" ry="1.9" fill="#C4854F" stroke="#74401F" stroke-width="0.5"/>
<ellipse cx="433.7" cy="319.0" rx="3.2" ry="1.8" fill="#A0623A" stroke="#74401F" stroke-width="0.5"/>
<ellipse cx="690.6" cy="326.3" rx="3.9" ry="2.2" fill="#C4854F" stroke="#74401F" stroke-width="0.5"/>
<ellipse cx="483.3" cy="308.0" rx="3.6" ry="2.6" fill="#BC7C48" stroke="#74401F" stroke-width="0.5"/>
<ellipse cx="478.6" cy="323.1" rx="3.6" ry="2.1" fill="#C4854F" stroke="#74401F" stroke-width="0.5"/>
<ellipse cx="702.6" cy="325.0" rx="2.7" ry="1.5" fill="#B3723F" stroke="#74401F" stroke-width="0.5"/>
<ellipse cx="440.4" cy="327.9" rx="2.8" ry="1.8" fill="#A0623A" stroke="#74401F" stroke-width="0.5"/>
<ellipse cx="381.1" cy="321.5" rx="3.5" ry="2.6" fill="#7C4627" stroke="#74401F" stroke-width="0.5"/>
<ellipse cx="356.8" cy="331.1" rx="3.1" ry="1.9" fill="#9A5B33" stroke="#74401F" stroke-width="0.5"/>
<ellipse cx="402.0" cy="332.6" rx="4.0" ry="2.8" fill="#C4854F" stroke="#74401F" stroke-width="0.5"/>
<ellipse cx="374.9" cy="330.8" rx="3.7" ry="2.5" fill="#B3723F" stroke="#74401F" stroke-width="0.5"/>
<ellipse cx="488.0" cy="320.3" rx="3.9" ry="2.7" fill="#B3723F" stroke="#74401F" stroke-width="0.5"/>
<ellipse cx="490.4" cy="329.2" rx="3.4" ry="2.1" fill="#BC7C48" stroke="#74401F" stroke-width="0.5"/>
<ellipse cx="514.6" cy="308.4" rx="2.7" ry="1.9" fill="#C4854F" stroke="#74401F" stroke-width="0.5"/>
<ellipse cx="508.7" cy="322.9" rx="2.8" ry="1.9" fill="#B3723F" stroke="#74401F" stroke-width="0.5"/>
<ellipse cx="649.2" cy="321.2" rx="3.6" ry="2.1" fill="#BC7C48" stroke="#74401F" stroke-width="0.5"/>
<ellipse cx="602.3" cy="315.5" rx="3.9" ry="2.9" fill="#C4854F" stroke="#74401F" stroke-width="0.5"/>
<ellipse cx="435.8" cy="322.0" rx="3.0" ry="2.2" fill="#B3723F" stroke="#74401F" stroke-width="0.5"/>
<ellipse cx="708.3" cy="331.9" rx="3.0" ry="2.1" fill="#AC6C40" stroke="#74401F" stroke-width="0.5"/>
<ellipse cx="631.6" cy="310.9" rx="3.4" ry="2.2" fill="#AC6C40" stroke="#74401F" stroke-width="0.5"/>
<ellipse cx="654.8" cy="333.3" rx="3.3" ry="2.4" fill="#B3723F" stroke="#74401F" stroke-width="0.5"/>
<ellipse cx="368.2" cy="329.2" rx="3.4" ry="2.5" fill="#BC7C48" stroke="#74401F" stroke-width="0.5"/>
<ellipse cx="592.8" cy="311.7" rx="3.4" ry="2.0" fill="#BC7C48" stroke="#74401F" stroke-width="0.5"/>
<ellipse cx="419.8" cy="314.0" rx="3.8" ry="2.4" fill="#AC6C40" stroke="#74401F" stroke-width="0.5"/>
<ellipse cx="340.9" cy="325.0" rx="3.1" ry="1.7" fill="#AC6C40" stroke="#74401F" stroke-width="0.5"/>
<ellipse cx="394.7" cy="320.2" rx="3.0" ry="1.9" fill="#BC7C48" stroke="#74401F" stroke-width="0.5"/>
<ellipse cx="618.6" cy="321.4" rx="3.5" ry="2.1" fill="#7C4627" stroke="#74401F" stroke-width="0.5"/>
<ellipse cx="470.1" cy="332.5" rx="3.3" ry="1.9" fill="#C4854F" stroke="#74401F" stroke-width="0.5"/>
<ellipse cx="635.8" cy="312.1" rx="3.4" ry="2.5" fill="#C4854F" stroke="#74401F" stroke-width="0.5"/>
<ellipse cx="450.1" cy="330.8" rx="3.8" ry="2.3" fill="#B3723F" stroke="#74401F" stroke-width="0.5"/>
<ellipse cx="487.7" cy="299.7" rx="2.7" ry="1.9" fill="#B3723F" stroke="#74401F" stroke-width="0.5"/>
<ellipse cx="395.0" cy="318.1" rx="3.8" ry="2.2" fill="#AC6C40" stroke="#74401F" stroke-width="0.5"/>
<ellipse cx="446.7" cy="332.3" rx="2.9" ry="1.7" fill="#A0623A" stroke="#74401F" stroke-width="0.5"/>
<ellipse cx="568.6" cy="330.5" rx="3.0" ry="1.7" fill="#8E522D" stroke="#74401F" stroke-width="0.5"/>
<ellipse cx="499.5" cy="325.3" rx="3.0" ry="2.2" fill="#8E522D" stroke="#74401F" stroke-width="0.5"/>
<ellipse cx="373.1" cy="333.4" rx="3.0" ry="2.3" fill="#A0623A" stroke="#74401F" stroke-width="0.5"/>
<ellipse cx="562.8" cy="324.9" rx="3.8" ry="2.4" fill="#A0623A" stroke="#74401F" stroke-width="0.5"/>
<ellipse cx="476.2" cy="319.7" rx="3.0" ry="1.7" fill="#BC7C48" stroke="#74401F" stroke-width="0.5"/>
<ellipse cx="401.7" cy="314.0" rx="3.8" ry="2.8" fill="#AC6C40" stroke="#74401F" stroke-width="0.5"/>
<ellipse cx="372.8" cy="326.3" rx="3.4" ry="2.1" fill="#C4854F" stroke="#74401F" stroke-width="0.5"/>
<ellipse cx="677.6" cy="331.7" rx="3.3" ry="2.4" fill="#7C4627" stroke="#74401F" stroke-width="0.5"/>
<ellipse cx="348.0" cy="325.4" rx="4.0" ry="2.4" fill="#7C4627" stroke="#74401F" stroke-width="0.5"/>
<ellipse cx="666.0" cy="322.0" rx="3.9" ry="2.9" fill="#C4854F" stroke="#74401F" stroke-width="0.5"/>
<ellipse cx="509.5" cy="309.4" rx="3.1" ry="2.0" fill="#C4854F" stroke="#74401F" stroke-width="0.5"/>
<ellipse cx="434.8" cy="315.5" rx="2.9" ry="1.7" fill="#AC6C40" stroke="#74401F" stroke-width="0.5"/>
<ellipse cx="491.9" cy="310.2" rx="3.7" ry="2.7" fill="#7C4627" stroke="#74401F" stroke-width="0.5"/>
<ellipse cx="502.2" cy="330.9" rx="2.9" ry="2.1" fill="#C4854F" stroke="#74401F" stroke-width="0.5"/>
<ellipse cx="453.6" cy="326.2" rx="3.0" ry="2.2" fill="#8E522D" stroke="#74401F" stroke-width="0.5"/>
<ellipse cx="594.6" cy="323.8" rx="3.2" ry="1.9" fill="#A0623A" stroke="#74401F" stroke-width="0.5"/>
<ellipse cx="391.1" cy="315.1" rx="2.8" ry="2.0" fill="#A0623A" stroke="#74401F" stroke-width="0.5"/>
<ellipse cx="584.4" cy="332.1" rx="4.0" ry="2.7" fill="#B3723F" stroke="#74401F" stroke-width="0.5"/>
<ellipse cx="415.7" cy="332.9" rx="2.7" ry="1.7" fill="#B3723F" stroke="#74401F" stroke-width="0.5"/>
<ellipse cx="516.1" cy="315.2" rx="3.6" ry="2.4" fill="#C4854F" stroke="#74401F" stroke-width="0.5"/>
<ellipse cx="313.3" cy="327.6" rx="2.9" ry="2.0" fill="#A0623A" stroke="#74401F" stroke-width="0.5"/>
<ellipse cx="393.1" cy="300.2" rx="3.4" ry="2.4" fill="#7C4627" stroke="#74401F" stroke-width="0.5"/>
<ellipse cx="580.6" cy="321.8" rx="4.0" ry="2.2" fill="#BC7C48" stroke="#74401F" stroke-width="0.5"/>
<ellipse cx="352.6" cy="329.3" rx="3.0" ry="1.7" fill="#7C4627" stroke="#74401F" stroke-width="0.5"/>
<ellipse cx="659.8" cy="315.3" rx="2.6" ry="1.5" fill="#BC7C48" stroke="#74401F" stroke-width="0.5"/>
<ellipse cx="559.8" cy="327.2" rx="2.8" ry="2.0" fill="#C4854F" stroke="#74401F" stroke-width="0.5"/>
<ellipse cx="453.0" cy="331.7" rx="3.0" ry="1.7" fill="#C4854F" stroke="#74401F" stroke-width="0.5"/>
<ellipse cx="369.3" cy="316.5" rx="3.7" ry="2.1" fill="#AC6C40" stroke="#74401F" stroke-width="0.5"/>
<ellipse cx="511.1" cy="319.8" rx="3.4" ry="2.1" fill="#B3723F" stroke="#74401F" stroke-width="0.5"/>
<ellipse cx="601.9" cy="310.4" rx="2.8" ry="2.1" fill="#B3723F" stroke="#74401F" stroke-width="0.5"/>
<ellipse cx="405.7" cy="327.6" rx="2.9" ry="1.7" fill="#9A5B33" stroke="#74401F" stroke-width="0.5"/>
<ellipse cx="545.9" cy="322.8" rx="3.3" ry="1.8" fill="#B3723F" stroke="#74401F" stroke-width="0.5"/>
<ellipse cx="490.9" cy="315.3" rx="3.9" ry="2.6" fill="#C4854F" stroke="#74401F" stroke-width="0.5"/>
<ellipse cx="388.1" cy="306.6" rx="3.7" ry="2.6" fill="#7C4627" stroke="#74401F" stroke-width="0.5"/>
<ellipse cx="570.1" cy="322.8" rx="3.0" ry="2.0" fill="#9A5B33" stroke="#74401F" stroke-width="0.5"/>
<ellipse cx="406.7" cy="305.7" rx="3.0" ry="1.9" fill="#A0623A" stroke="#74401F" stroke-width="0.5"/>
<ellipse cx="593.3" cy="320.7" rx="2.8" ry="1.6" fill="#A0623A" stroke="#74401F" stroke-width="0.5"/>
<ellipse cx="707.9" cy="332.1" rx="3.6" ry="2.6" fill="#B3723F" stroke="#74401F" stroke-width="0.5"/>
<ellipse cx="423.1" cy="314.8" rx="2.7" ry="1.7" fill="#8E522D" stroke="#74401F" stroke-width="0.5"/>
<ellipse cx="514.3" cy="308.8" rx="3.5" ry="2.3" fill="#9A5B33" stroke="#74401F" stroke-width="0.5"/>
<ellipse cx="344.9" cy="332.0" rx="2.6" ry="1.5" fill="#BC7C48" stroke="#74401F" stroke-width="0.5"/>
<ellipse cx="348.8" cy="323.9" rx="3.4" ry="2.0" fill="#7C4627" stroke="#74401F" stroke-width="0.5"/>
<ellipse cx="443.3" cy="320.0" rx="3.5" ry="2.1" fill="#BC7C48" stroke="#74401F" stroke-width="0.5"/>
<ellipse cx="476.3" cy="329.4" rx="2.7" ry="1.5" fill="#B3723F" stroke="#74401F" stroke-width="0.5"/>
<ellipse cx="527.4" cy="333.3" rx="3.9" ry="2.2" fill="#9A5B33" stroke="#74401F" stroke-width="0.5"/>
<ellipse cx="410.2" cy="306.7" rx="3.9" ry="2.6" fill="#9A5B33" stroke="#74401F" stroke-width="0.5"/>
<ellipse cx="425.9" cy="332.3" rx="3.7" ry="2.4" fill="#C4854F" stroke="#74401F" stroke-width="0.5"/>
<ellipse cx="335.1" cy="325.2" rx="3.5" ry="2.0" fill="#C4854F" stroke="#74401F" stroke-width="0.5"/>
<ellipse cx="541.6" cy="333.1" rx="2.7" ry="1.8" fill="#A0623A" stroke="#74401F" stroke-width="0.5"/>
<ellipse cx="353.6" cy="322.2" rx="2.7" ry="1.8" fill="#AC6C40" stroke="#74401F" stroke-width="0.5"/>
<ellipse cx="448.6" cy="327.9" rx="3.1" ry="2.2" fill="#AC6C40" stroke="#74401F" stroke-width="0.5"/>
<ellipse cx="373.4" cy="320.3" rx="2.9" ry="1.6" fill="#BC7C48" stroke="#74401F" stroke-width="0.5"/>
<ellipse cx="657.3" cy="326.7" rx="2.8" ry="2.0" fill="#A0623A" stroke="#74401F" stroke-width="0.5"/>
<ellipse cx="354.5" cy="323.2" rx="3.5" ry="1.9" fill="#B3723F" stroke="#74401F" stroke-width="0.5"/>
<ellipse cx="661.1" cy="316.6" rx="3.0" ry="2.0" fill="#9A5B33" stroke="#74401F" stroke-width="0.5"/>
<ellipse cx="699.6" cy="329.7" rx="3.9" ry="2.6" fill="#8E522D" stroke="#74401F" stroke-width="0.5"/>
<ellipse cx="433.7" cy="318.7" rx="3.6" ry="2.1" fill="#7C4627" stroke="#74401F" stroke-width="0.5"/>
<ellipse cx="514.2" cy="321.3" rx="2.9" ry="1.8" fill="#C4854F" stroke="#74401F" stroke-width="0.5"/>
<ellipse cx="511.6" cy="315.0" rx="3.5" ry="2.1" fill="#AC6C40" stroke="#74401F" stroke-width="0.5"/>
<ellipse cx="419.4" cy="328.4" rx="3.6" ry="2.5" fill="#9A5B33" stroke="#74401F" stroke-width="0.5"/>
<ellipse cx="408.6" cy="331.2" rx="3.3" ry="2.1" fill="#AC6C40" stroke="#74401F" stroke-width="0.5"/>
<ellipse cx="426.4" cy="330.3" rx="2.6" ry="1.6" fill="#7C4627" stroke="#74401F" stroke-width="0.5"/>
<ellipse cx="603.4" cy="308.9" rx="3.2" ry="2.0" fill="#AC6C40" stroke="#74401F" stroke-width="0.5"/>
<ellipse cx="491.8" cy="299.8" rx="3.1" ry="2.1" fill="#8E522D" stroke="#74401F" stroke-width="0.5"/>
<ellipse cx="705.3" cy="329.5" rx="3.6" ry="2.2" fill="#7C4627" stroke="#74401F" stroke-width="0.5"/>
<ellipse cx="588.2" cy="319.5" rx="2.7" ry="1.7" fill="#B3723F" stroke="#74401F" stroke-width="0.5"/>
<ellipse cx="484.7" cy="320.7" rx="3.8" ry="2.8" fill="#AC6C40" stroke="#74401F" stroke-width="0.5"/>
<ellipse cx="633.0" cy="308.2" rx="3.1" ry="1.8" fill="#C4854F" stroke="#74401F" stroke-width="0.5"/>
<ellipse cx="505.0" cy="310.4" rx="3.0" ry="1.9" fill="#C4854F" stroke="#74401F" stroke-width="0.5"/>
<ellipse cx="669.7" cy="330.8" rx="3.8" ry="2.4" fill="#BC7C48" stroke="#74401F" stroke-width="0.5"/>
<ellipse cx="370.8" cy="316.0" rx="3.5" ry="2.4" fill="#7C4627" stroke="#74401F" stroke-width="0.5"/>
<ellipse cx="421.5" cy="331.9" rx="3.8" ry="2.3" fill="#C4854F" stroke="#74401F" stroke-width="0.5"/>
<ellipse cx="667.9" cy="323.2" rx="2.9" ry="2.0" fill="#7C4627" stroke="#74401F" stroke-width="0.5"/>
<ellipse cx="513.7" cy="306.7" rx="3.0" ry="1.9" fill="#AC6C40" stroke="#74401F" stroke-width="0.5"/>
<ellipse cx="706.7" cy="329.7" rx="2.9" ry="2.0" fill="#7C4627" stroke="#74401F" stroke-width="0.5"/>
<ellipse cx="354.1" cy="322.2" rx="2.8" ry="1.5" fill="#8E522D" stroke="#74401F" stroke-width="0.5"/>
<ellipse cx="391.6" cy="317.8" rx="3.4" ry="2.0" fill="#A0623A" stroke="#74401F" stroke-width="0.5"/>
<ellipse cx="388.9" cy="328.2" rx="3.9" ry="2.3" fill="#7C4627" stroke="#74401F" stroke-width="0.5"/>
<ellipse cx="357.0" cy="326.3" rx="3.3" ry="2.4" fill="#A0623A" stroke="#74401F" stroke-width="0.5"/>
<ellipse cx="514.1" cy="307.3" rx="2.9" ry="1.8" fill="#BC7C48" stroke="#74401F" stroke-width="0.5"/>
<ellipse cx="677.7" cy="316.4" rx="2.9" ry="1.8" fill="#BC7C48" stroke="#74401F" stroke-width="0.5"/>
<ellipse cx="405.1" cy="328.6" rx="2.9" ry="2.0" fill="#BC7C48" stroke="#74401F" stroke-width="0.5"/>
<ellipse cx="564.0" cy="324.6" rx="3.4" ry="2.1" fill="#9A5B33" stroke="#74401F" stroke-width="0.5"/>
<ellipse cx="621.6" cy="313.0" rx="4.0" ry="2.2" fill="#BC7C48" stroke="#74401F" stroke-width="0.5"/>
<ellipse cx="494.6" cy="318.4" rx="2.8" ry="1.9" fill="#9A5B33" stroke="#74401F" stroke-width="0.5"/>
<ellipse cx="529.5" cy="321.7" rx="3.7" ry="2.1" fill="#AC6C40" stroke="#74401F" stroke-width="0.5"/>
<ellipse cx="614.5" cy="323.9" rx="3.9" ry="2.8" fill="#AC6C40" stroke="#74401F" stroke-width="0.5"/>
<ellipse cx="494.6" cy="303.8" rx="2.6" ry="1.5" fill="#A0623A" stroke="#74401F" stroke-width="0.5"/>
<ellipse cx="382.3" cy="301.9" rx="3.2" ry="2.0" fill="#7C4627" stroke="#74401F" stroke-width="0.5"/>
<ellipse cx="516.5" cy="333.0" rx="2.8" ry="1.9" fill="#9A5B33" stroke="#74401F" stroke-width="0.5"/>
<ellipse cx="354.1" cy="321.7" rx="3.4" ry="2.0" fill="#BC7C48" stroke="#74401F" stroke-width="0.5"/>
<ellipse cx="452.5" cy="321.2" rx="3.5" ry="2.3" fill="#AC6C40" stroke="#74401F" stroke-width="0.5"/>
<ellipse cx="615.6" cy="318.8" rx="3.6" ry="2.6" fill="#7C4627" stroke="#74401F" stroke-width="0.5"/>
<ellipse cx="573.2" cy="324.7" rx="3.1" ry="1.9" fill="#A0623A" stroke="#74401F" stroke-width="0.5"/>
<ellipse cx="444.8" cy="322.8" rx="3.9" ry="2.5" fill="#BC7C48" stroke="#74401F" stroke-width="0.5"/>
<ellipse cx="309.5" cy="333.5" rx="2.9" ry="1.9" fill="#7C4627" stroke="#74401F" stroke-width="0.5"/>
<ellipse cx="472.0" cy="316.4" rx="3.7" ry="2.4" fill="#7C4627" stroke="#74401F" stroke-width="0.5"/>
<ellipse cx="637.3" cy="306.2" rx="3.1" ry="2.3" fill="#7C4627" stroke="#74401F" stroke-width="0.5"/>
<ellipse cx="583.7" cy="327.3" rx="3.3" ry="2.1" fill="#8E522D" stroke="#74401F" stroke-width="0.5"/>
<ellipse cx="526.8" cy="315.5" rx="2.8" ry="1.7" fill="#C4854F" stroke="#74401F" stroke-width="0.5"/>
<ellipse cx="591.7" cy="328.7" rx="3.5" ry="2.5" fill="#AC6C40" stroke="#74401F" stroke-width="0.5"/>
<ellipse cx="530.5" cy="316.9" rx="3.3" ry="2.2" fill="#C4854F" stroke="#74401F" stroke-width="0.5"/>
<ellipse cx="418.6" cy="317.5" rx="2.9" ry="2.1" fill="#8E522D" stroke="#74401F" stroke-width="0.5"/>
<ellipse cx="579.4" cy="328.6" rx="3.0" ry="1.8" fill="#7C4627" stroke="#74401F" stroke-width="0.5"/>
<ellipse cx="507.4" cy="317.7" rx="2.8" ry="1.6" fill="#A0623A" stroke="#74401F" stroke-width="0.5"/>
<ellipse cx="340.6" cy="327.7" rx="3.4" ry="2.4" fill="#C4854F" stroke="#74401F" stroke-width="0.5"/>
<ellipse cx="416.1" cy="329.7" rx="2.8" ry="2.0" fill="#B3723F" stroke="#74401F" stroke-width="0.5"/>
<ellipse cx="314.4" cy="332.6" rx="3.2" ry="2.3" fill="#9A5B33" stroke="#74401F" stroke-width="0.5"/>
<ellipse cx="523.2" cy="330.5" rx="2.9" ry="2.1" fill="#7C4627" stroke="#74401F" stroke-width="0.5"/>
<ellipse cx="551.7" cy="317.4" rx="3.1" ry="2.3" fill="#B3723F" stroke="#74401F" stroke-width="0.5"/>
<ellipse cx="560.2" cy="317.4" rx="2.8" ry="1.7" fill="#AC6C40" stroke="#74401F" stroke-width="0.5"/>
<ellipse cx="429.5" cy="328.5" rx="2.7" ry="1.6" fill="#9A5B33" stroke="#74401F" stroke-width="0.5"/>
<ellipse cx="551.6" cy="333.0" rx="3.4" ry="1.9" fill="#B3723F" stroke="#74401F" stroke-width="0.5"/>
<ellipse cx="603.8" cy="309.1" rx="2.7" ry="2.0" fill="#9A5B33" stroke="#74401F" stroke-width="0.5"/>
<ellipse cx="555.4" cy="331.0" rx="2.8" ry="1.9" fill="#9A5B33" stroke="#74401F" stroke-width="0.5"/>
<ellipse cx="460.2" cy="329.9" rx="3.8" ry="2.8" fill="#8E522D" stroke="#74401F" stroke-width="0.5"/>
<ellipse cx="421.6" cy="328.2" rx="3.8" ry="2.3" fill="#AC6C40" stroke="#74401F" stroke-width="0.5"/>
<ellipse cx="468.0" cy="318.9" rx="2.9" ry="2.2" fill="#7C4627" stroke="#74401F" stroke-width="0.5"/>
<ellipse cx="494.4" cy="308.9" rx="3.3" ry="2.2" fill="#7C4627" stroke="#74401F" stroke-width="0.5"/>
<ellipse cx="470.1" cy="316.2" rx="3.3" ry="2.4" fill="#BC7C48" stroke="#74401F" stroke-width="0.5"/>
<ellipse cx="371.1" cy="328.5" rx="3.2" ry="1.9" fill="#8E522D" stroke="#74401F" stroke-width="0.5"/>
<ellipse cx="625.9" cy="303.1" rx="3.6" ry="2.2" fill="#A0623A" stroke="#74401F" stroke-width="0.5"/>
<ellipse cx="414.5" cy="316.6" rx="2.8" ry="1.7" fill="#8E522D" stroke="#74401F" stroke-width="0.5"/>
<ellipse cx="435.5" cy="329.9" rx="3.8" ry="2.3" fill="#C4854F" stroke="#74401F" stroke-width="0.5"/>
<ellipse cx="531.1" cy="325.9" rx="3.5" ry="2.0" fill="#C4854F" stroke="#74401F" stroke-width="0.5"/>
<ellipse cx="426.0" cy="330.9" rx="3.7" ry="2.5" fill="#9A5B33" stroke="#74401F" stroke-width="0.5"/>
<ellipse cx="484.4" cy="322.9" rx="3.9" ry="2.3" fill="#A0623A" stroke="#74401F" stroke-width="0.5"/>
<ellipse cx="371.1" cy="316.1" rx="3.9" ry="2.4" fill="#BC7C48" stroke="#74401F" stroke-width="0.5"/>
<ellipse cx="464.7" cy="317.6" rx="2.9" ry="1.9" fill="#8E522D" stroke="#74401F" stroke-width="0.5"/>
<ellipse cx="373.1" cy="323.9" rx="2.9" ry="1.9" fill="#9A5B33" stroke="#74401F" stroke-width="0.5"/>
<ellipse cx="646.1" cy="312.8" rx="3.9" ry="2.3" fill="#B3723F" stroke="#74401F" stroke-width="0.5"/>
<ellipse cx="667.4" cy="327.1" rx="2.7" ry="1.7" fill="#AC6C40" stroke="#74401F" stroke-width="0.5"/>
<ellipse cx="562.7" cy="326.0" rx="3.9" ry="2.3" fill="#7C4627" stroke="#74401F" stroke-width="0.5"/>
<ellipse cx="458.1" cy="323.8" rx="2.7" ry="1.8" fill="#AC6C40" stroke="#74401F" stroke-width="0.5"/>
<ellipse cx="370.0" cy="324.6" rx="3.6" ry="2.1" fill="#B3723F" stroke="#74401F" stroke-width="0.5"/>
<ellipse cx="387.8" cy="304.8" rx="3.0" ry="2.1" fill="#AC6C40" stroke="#74401F" stroke-width="0.5"/>
<ellipse cx="505.7" cy="306.2" rx="3.0" ry="1.9" fill="#7C4627" stroke="#74401F" stroke-width="0.5"/>
<ellipse cx="406.0" cy="329.4" rx="3.2" ry="2.2" fill="#B3723F" stroke="#74401F" stroke-width="0.5"/>
<ellipse cx="354.2" cy="329.3" rx="3.2" ry="2.1" fill="#B3723F" stroke="#74401F" stroke-width="0.5"/>
<ellipse cx="710.3" cy="330.5" rx="2.7" ry="1.9" fill="#BC7C48" stroke="#74401F" stroke-width="0.5"/>
<ellipse cx="571.2" cy="324.8" rx="2.9" ry="1.8" fill="#9A5B33" stroke="#74401F" stroke-width="0.5"/>
<ellipse cx="581.4" cy="325.6" rx="3.3" ry="2.3" fill="#AC6C40" stroke="#74401F" stroke-width="0.5"/>
<ellipse cx="380.0" cy="315.8" rx="3.8" ry="2.4" fill="#B3723F" stroke="#74401F" stroke-width="0.5"/>
<ellipse cx="534.1" cy="323.2" rx="3.4" ry="2.0" fill="#A0623A" stroke="#74401F" stroke-width="0.5"/>
<ellipse cx="340.3" cy="323.8" rx="3.8" ry="2.9" fill="#B3723F" stroke="#74401F" stroke-width="0.5"/>
<ellipse cx="412.6" cy="319.4" rx="2.8" ry="1.7" fill="#C4854F" stroke="#74401F" stroke-width="0.5"/>
<ellipse cx="661.4" cy="323.1" rx="3.5" ry="2.6" fill="#C4854F" stroke="#74401F" stroke-width="0.5"/>
<ellipse cx="567.6" cy="327.1" rx="3.5" ry="2.0" fill="#9A5B33" stroke="#74401F" stroke-width="0.5"/>
<ellipse cx="598.9" cy="320.3" rx="2.9" ry="1.6" fill="#B3723F" stroke="#74401F" stroke-width="0.5"/>
<ellipse cx="578.8" cy="320.0" rx="3.7" ry="2.3" fill="#C4854F" stroke="#74401F" stroke-width="0.5"/>
<ellipse cx="354.7" cy="329.0" rx="2.7" ry="2.0" fill="#B3723F" stroke="#74401F" stroke-width="0.5"/>
<ellipse cx="622.8" cy="330.3" rx="3.6" ry="2.4" fill="#BC7C48" stroke="#74401F" stroke-width="0.5"/>
<ellipse cx="669.6" cy="317.7" rx="3.2" ry="2.1" fill="#9A5B33" stroke="#74401F" stroke-width="0.5"/>
<ellipse cx="462.8" cy="322.9" rx="2.9" ry="2.2" fill="#7C4627" stroke="#74401F" stroke-width="0.5"/>
<ellipse cx="502.0" cy="322.7" rx="3.1" ry="2.0" fill="#AC6C40" stroke="#74401F" stroke-width="0.5"/>
<ellipse cx="645.0" cy="324.4" rx="3.5" ry="2.1" fill="#8E522D" stroke="#74401F" stroke-width="0.5"/>
<ellipse cx="370.0" cy="321.4" rx="3.5" ry="2.1" fill="#C4854F" stroke="#74401F" stroke-width="0.5"/>
<ellipse cx="479.9" cy="331.7" rx="3.9" ry="2.3" fill="#B3723F" stroke="#74401F" stroke-width="0.5"/>
<ellipse cx="476.2" cy="308.4" rx="3.2" ry="2.4" fill="#AC6C40" stroke="#74401F" stroke-width="0.5"/>
<ellipse cx="676.0" cy="323.7" rx="3.7" ry="2.1" fill="#A0623A" stroke="#74401F" stroke-width="0.5"/>
<ellipse cx="471.7" cy="322.6" rx="3.7" ry="2.7" fill="#7C4627" stroke="#74401F" stroke-width="0.5"/>
<ellipse cx="359.2" cy="324.5" rx="2.6" ry="1.5" fill="#8E522D" stroke="#74401F" stroke-width="0.5"/>
<ellipse cx="565.9" cy="330.1" rx="3.4" ry="2.3" fill="#A0623A" stroke="#74401F" stroke-width="0.5"/>
<ellipse cx="363.3" cy="330.4" rx="3.2" ry="1.9" fill="#8E522D" stroke="#74401F" stroke-width="0.5"/>
<ellipse cx="434.4" cy="332.8" rx="3.4" ry="2.5" fill="#BC7C48" stroke="#74401F" stroke-width="0.5"/>
<ellipse cx="431.3" cy="316.0" rx="2.8" ry="1.8" fill="#8E522D" stroke="#74401F" stroke-width="0.5"/>
<ellipse cx="545.4" cy="328.3" rx="3.0" ry="1.9" fill="#C4854F" stroke="#74401F" stroke-width="0.5"/>
<ellipse cx="540.1" cy="315.0" rx="3.2" ry="2.0" fill="#AC6C40" stroke="#74401F" stroke-width="0.5"/>
<ellipse cx="565.9" cy="324.4" rx="2.7" ry="1.8" fill="#7C4627" stroke="#74401F" stroke-width="0.5"/>
<ellipse cx="400.5" cy="300.9" rx="3.3" ry="2.2" fill="#AC6C40" stroke="#74401F" stroke-width="0.5"/>
<ellipse cx="459.0" cy="322.6" rx="3.8" ry="2.3" fill="#8E522D" stroke="#74401F" stroke-width="0.5"/>
<ellipse cx="708.0" cy="333.2" rx="3.0" ry="2.1" fill="#8E522D" stroke="#74401F" stroke-width="0.5"/>
<ellipse cx="362.5" cy="325.7" rx="2.8" ry="2.0" fill="#B3723F" stroke="#74401F" stroke-width="0.5"/>
<ellipse cx="340.1" cy="331.4" rx="2.8" ry="1.7" fill="#8E522D" stroke="#74401F" stroke-width="0.5"/>
<ellipse cx="469.3" cy="317.0" rx="3.5" ry="2.1" fill="#A0623A" stroke="#74401F" stroke-width="0.5"/>
<ellipse cx="382.5" cy="322.1" rx="3.3" ry="2.1" fill="#8E522D" stroke="#74401F" stroke-width="0.5"/>
<ellipse cx="695.1" cy="325.4" rx="3.6" ry="2.1" fill="#AC6C40" stroke="#74401F" stroke-width="0.5"/>
<ellipse cx="470.5" cy="324.4" rx="3.3" ry="2.0" fill="#C4854F" stroke="#74401F" stroke-width="0.5"/>
<ellipse cx="697.8" cy="330.9" rx="4.0" ry="2.6" fill="#A0623A" stroke="#74401F" stroke-width="0.5"/>
<ellipse cx="405.2" cy="324.7" rx="3.6" ry="2.7" fill="#7C4627" stroke="#74401F" stroke-width="0.5"/>
<ellipse cx="663.2" cy="320.1" rx="3.7" ry="2.4" fill="#AC6C40" stroke="#74401F" stroke-width="0.5"/>
<ellipse cx="551.0" cy="333.2" rx="3.8" ry="2.3" fill="#C4854F" stroke="#74401F" stroke-width="0.5"/>
<ellipse cx="376.8" cy="310.7" rx="3.4" ry="2.0" fill="#7C4627" stroke="#74401F" stroke-width="0.5"/>
<ellipse cx="657.4" cy="324.6" rx="2.8" ry="1.8" fill="#7C4627" stroke="#74401F" stroke-width="0.5"/>
<ellipse cx="700.0" cy="326.1" rx="2.7" ry="1.6" fill="#B3723F" stroke="#74401F" stroke-width="0.5"/>
<ellipse cx="691.5" cy="321.4" rx="3.3" ry="2.1" fill="#BC7C48" stroke="#74401F" stroke-width="0.5"/>
<ellipse cx="625.7" cy="299.0" rx="3.9" ry="2.5" fill="#8E522D" stroke="#74401F" stroke-width="0.5"/>
<ellipse cx="317.8" cy="324.3" rx="3.6" ry="2.4" fill="#A0623A" stroke="#74401F" stroke-width="0.5"/>
<ellipse cx="407.5" cy="310.5" rx="4.0" ry="2.5" fill="#B3723F" stroke="#74401F" stroke-width="0.5"/>
<ellipse cx="666.2" cy="317.6" rx="3.8" ry="2.1" fill="#9A5B33" stroke="#74401F" stroke-width="0.5"/>
<ellipse cx="530.1" cy="329.9" rx="2.8" ry="1.9" fill="#AC6C40" stroke="#74401F" stroke-width="0.5"/>
<ellipse cx="447.7" cy="318.1" rx="2.7" ry="2.0" fill="#7C4627" stroke="#74401F" stroke-width="0.5"/>
<ellipse cx="550.1" cy="332.0" rx="3.7" ry="2.5" fill="#7C4627" stroke="#74401F" stroke-width="0.5"/>
<ellipse cx="327.2" cy="326.8" rx="3.3" ry="1.8" fill="#AC6C40" stroke="#74401F" stroke-width="0.5"/>
<ellipse cx="593.4" cy="332.0" rx="3.5" ry="2.4" fill="#BC7C48" stroke="#74401F" stroke-width="0.5"/>
<ellipse cx="622.3" cy="311.8" rx="3.2" ry="2.3" fill="#7C4627" stroke="#74401F" stroke-width="0.5"/>
<ellipse cx="679.7" cy="328.2" rx="2.8" ry="1.6" fill="#C4854F" stroke="#74401F" stroke-width="0.5"/>
<ellipse cx="392.6" cy="303.6" rx="3.5" ry="2.1" fill="#7C4627" stroke="#74401F" stroke-width="0.5"/>
<ellipse cx="710.7" cy="331.5" rx="3.7" ry="2.5" fill="#C4854F" stroke="#74401F" stroke-width="0.5"/>
<ellipse cx="636.7" cy="305.7" rx="3.2" ry="1.8" fill="#B3723F" stroke="#74401F" stroke-width="0.5"/>
<ellipse cx="315.2" cy="329.1" rx="3.2" ry="2.4" fill="#BC7C48" stroke="#74401F" stroke-width="0.5"/>
<ellipse cx="401.7" cy="302.2" rx="2.7" ry="1.7" fill="#7C4627" stroke="#74401F" stroke-width="0.5"/>
<ellipse cx="431.2" cy="324.0" rx="3.2" ry="2.1" fill="#B3723F" stroke="#74401F" stroke-width="0.5"/>
<ellipse cx="438.5" cy="326.2" rx="4.0" ry="2.4" fill="#7C4627" stroke="#74401F" stroke-width="0.5"/>
<ellipse cx="706.6" cy="327.5" rx="3.8" ry="2.7" fill="#9A5B33" stroke="#74401F" stroke-width="0.5"/>
<ellipse cx="589.9" cy="332.8" rx="3.8" ry="2.5" fill="#7C4627" stroke="#74401F" stroke-width="0.5"/>
<ellipse cx="313.1" cy="329.1" rx="3.0" ry="2.0" fill="#A0623A" stroke="#74401F" stroke-width="0.5"/>
<ellipse cx="509.9" cy="317.8" rx="2.7" ry="1.6" fill="#A0623A" stroke="#74401F" stroke-width="0.5"/>
<ellipse cx="509.2" cy="314.3" rx="3.3" ry="1.8" fill="#9A5B33" stroke="#74401F" stroke-width="0.5"/>
<ellipse cx="659.9" cy="333.3" rx="3.7" ry="2.0" fill="#BC7C48" stroke="#74401F" stroke-width="0.5"/>
<ellipse cx="576.7" cy="319.9" rx="3.9" ry="2.8" fill="#8E522D" stroke="#74401F" stroke-width="0.5"/>
<ellipse cx="450.0" cy="323.7" rx="2.7" ry="1.9" fill="#B3723F" stroke="#74401F" stroke-width="0.5"/>
<ellipse cx="442.1" cy="325.1" rx="3.9" ry="2.6" fill="#B3723F" stroke="#74401F" stroke-width="0.5"/>
<ellipse cx="481.9" cy="329.9" rx="3.5" ry="2.3" fill="#C4854F" stroke="#74401F" stroke-width="0.5"/>
<ellipse cx="559.8" cy="323.9" rx="3.5" ry="2.3" fill="#AC6C40" stroke="#74401F" stroke-width="0.5"/>
<ellipse cx="690.6" cy="317.8" rx="3.0" ry="2.2" fill="#B3723F" stroke="#74401F" stroke-width="0.5"/>
<ellipse cx="617.1" cy="304.1" rx="3.9" ry="2.3" fill="#AC6C40" stroke="#74401F" stroke-width="0.5"/>
<ellipse cx="404.2" cy="311.8" rx="2.9" ry="2.0" fill="#7C4627" stroke="#74401F" stroke-width="0.5"/>
<ellipse cx="556.3" cy="317.7" rx="3.7" ry="2.7" fill="#A0623A" stroke="#74401F" stroke-width="0.5"/>
<ellipse cx="407.9" cy="318.1" rx="3.1" ry="1.9" fill="#9A5B33" stroke="#74401F" stroke-width="0.5"/>
<ellipse cx="378.7" cy="320.8" rx="3.7" ry="2.7" fill="#B3723F" stroke="#74401F" stroke-width="0.5"/>
<ellipse cx="521.3" cy="328.7" rx="2.7" ry="1.5" fill="#B3723F" stroke="#74401F" stroke-width="0.5"/>
<ellipse cx="468.5" cy="324.8" rx="3.9" ry="2.2" fill="#7C4627" stroke="#74401F" stroke-width="0.5"/>
<ellipse cx="336.7" cy="324.2" rx="3.9" ry="2.6" fill="#B3723F" stroke="#74401F" stroke-width="0.5"/>
<ellipse cx="542.5" cy="317.0" rx="3.7" ry="2.4" fill="#C4854F" stroke="#74401F" stroke-width="0.5"/>
<ellipse cx="504.8" cy="327.5" rx="2.8" ry="2.0" fill="#C4854F" stroke="#74401F" stroke-width="0.5"/>
<ellipse cx="635.4" cy="309.9" rx="2.6" ry="1.9" fill="#AC6C40" stroke="#74401F" stroke-width="0.5"/>
<ellipse cx="347.4" cy="329.8" rx="3.7" ry="2.5" fill="#7C4627" stroke="#74401F" stroke-width="0.5"/>
<ellipse cx="703.1" cy="326.0" rx="2.9" ry="2.0" fill="#BC7C48" stroke="#74401F" stroke-width="0.5"/>
<ellipse cx="584.5" cy="330.6" rx="3.4" ry="2.1" fill="#AC6C40" stroke="#74401F" stroke-width="0.5"/>
<ellipse cx="552.4" cy="318.4" rx="3.5" ry="2.2" fill="#C4854F" stroke="#74401F" stroke-width="0.5"/>
<ellipse cx="405.9" cy="323.3" rx="3.5" ry="2.0" fill="#AC6C40" stroke="#74401F" stroke-width="0.5"/>
<ellipse cx="617.6" cy="306.4" rx="2.7" ry="1.7" fill="#9A5B33" stroke="#74401F" stroke-width="0.5"/>
<ellipse cx="633.8" cy="318.7" rx="3.2" ry="1.8" fill="#BC7C48" stroke="#74401F" stroke-width="0.5"/>
<ellipse cx="663.5" cy="318.1" rx="2.7" ry="1.9" fill="#A0623A" stroke="#74401F" stroke-width="0.5"/>
<ellipse cx="675.2" cy="323.0" rx="2.8" ry="1.8" fill="#B3723F" stroke="#74401F" stroke-width="0.5"/>
<ellipse cx="660.9" cy="322.6" rx="3.2" ry="1.8" fill="#7C4627" stroke="#74401F" stroke-width="0.5"/>
<ellipse cx="389.3" cy="318.4" rx="3.2" ry="2.0" fill="#9A5B33" stroke="#74401F" stroke-width="0.5"/>
<ellipse cx="522.8" cy="326.8" rx="2.8" ry="1.7" fill="#AC6C40" stroke="#74401F" stroke-width="0.5"/>
<ellipse cx="477.1" cy="314.5" rx="2.8" ry="1.8" fill="#9A5B33" stroke="#74401F" stroke-width="0.5"/>
<ellipse cx="422.1" cy="330.7" rx="3.5" ry="2.3" fill="#BC7C48" stroke="#74401F" stroke-width="0.5"/>
<ellipse cx="559.5" cy="316.8" rx="2.8" ry="1.6" fill="#9A5B33" stroke="#74401F" stroke-width="0.5"/>
<ellipse cx="656.5" cy="319.5" rx="3.0" ry="1.7" fill="#C4854F" stroke="#74401F" stroke-width="0.5"/>
<ellipse cx="514.5" cy="309.6" rx="2.6" ry="1.9" fill="#7C4627" stroke="#74401F" stroke-width="0.5"/>
<ellipse cx="459.9" cy="317.2" rx="3.5" ry="2.4" fill="#BC7C48" stroke="#74401F" stroke-width="0.5"/>
<ellipse cx="574.7" cy="320.5" rx="3.3" ry="2.0" fill="#9A5B33" stroke="#74401F" stroke-width="0.5"/>
<ellipse cx="643.5" cy="316.9" rx="3.8" ry="2.7" fill="#9A5B33" stroke="#74401F" stroke-width="0.5"/>
<ellipse cx="555.3" cy="326.5" rx="2.8" ry="1.7" fill="#B3723F" stroke="#74401F" stroke-width="0.5"/>
<ellipse cx="475.0" cy="333.3" rx="2.6" ry="1.9" fill="#9A5B33" stroke="#74401F" stroke-width="0.5"/>
<ellipse cx="459.2" cy="330.3" rx="2.9" ry="2.0" fill="#9A5B33" stroke="#74401F" stroke-width="0.5"/>
<ellipse cx="710.2" cy="332.5" rx="3.6" ry="2.5" fill="#A0623A" stroke="#74401F" stroke-width="0.5"/>
<ellipse cx="344.0" cy="333.2" rx="2.9" ry="1.8" fill="#BC7C48" stroke="#74401F" stroke-width="0.5"/>
<ellipse cx="458.1" cy="327.2" rx="3.6" ry="2.3" fill="#BC7C48" stroke="#74401F" stroke-width="0.5"/>
<ellipse cx="455.7" cy="317.0" rx="2.7" ry="1.8" fill="#9A5B33" stroke="#74401F" stroke-width="0.5"/>
<ellipse cx="615.1" cy="331.1" rx="3.5" ry="2.3" fill="#C4854F" stroke="#74401F" stroke-width="0.5"/>
<ellipse cx="404.9" cy="320.6" rx="3.3" ry="2.5" fill="#7C4627" stroke="#74401F" stroke-width="0.5"/>
<ellipse cx="409.0" cy="312.4" rx="3.3" ry="2.1" fill="#9A5B33" stroke="#74401F" stroke-width="0.5"/>
<ellipse cx="535.5" cy="318.4" rx="2.7" ry="1.6" fill="#7C4627" stroke="#74401F" stroke-width="0.5"/>
<ellipse cx="428.4" cy="316.3" rx="2.9" ry="1.9" fill="#AC6C40" stroke="#74401F" stroke-width="0.5"/>
<ellipse cx="486.4" cy="317.9" rx="3.3" ry="1.9" fill="#A0623A" stroke="#74401F" stroke-width="0.5"/>
<ellipse cx="377.8" cy="311.2" rx="2.7" ry="1.6" fill="#AC6C40" stroke="#74401F" stroke-width="0.5"/>
<ellipse cx="454.0" cy="317.6" rx="3.1" ry="1.9" fill="#A0623A" stroke="#74401F" stroke-width="0.5"/>
<ellipse cx="325.7" cy="326.9" rx="2.6" ry="1.8" fill="#AC6C40" stroke="#74401F" stroke-width="0.5"/>
<ellipse cx="458.0" cy="333.2" rx="3.0" ry="1.9" fill="#C4854F" stroke="#74401F" stroke-width="0.5"/>
<ellipse cx="637.5" cy="317.8" rx="3.6" ry="2.2" fill="#C4854F" stroke="#74401F" stroke-width="0.5"/>
<ellipse cx="548.7" cy="327.1" rx="3.1" ry="2.1" fill="#8E522D" stroke="#74401F" stroke-width="0.5"/>
<ellipse cx="430.7" cy="321.6" rx="3.0" ry="1.8" fill="#A0623A" stroke="#74401F" stroke-width="0.5"/>
<ellipse cx="532.2" cy="321.7" rx="3.5" ry="2.1" fill="#B3723F" stroke="#74401F" stroke-width="0.5"/>
<ellipse cx="487.6" cy="328.9" rx="3.7" ry="2.6" fill="#AC6C40" stroke="#74401F" stroke-width="0.5"/>
<ellipse cx="509.7" cy="319.2" rx="2.9" ry="1.7" fill="#7C4627" stroke="#74401F" stroke-width="0.5"/>
<ellipse cx="534.7" cy="323.6" rx="3.1" ry="2.1" fill="#BC7C48" stroke="#74401F" stroke-width="0.5"/>
<ellipse cx="341.5" cy="331.4" rx="3.4" ry="2.4" fill="#BC7C48" stroke="#74401F" stroke-width="0.5"/>
<ellipse cx="562.7" cy="327.0" rx="3.3" ry="2.1" fill="#8E522D" stroke="#74401F" stroke-width="0.5"/>
<ellipse cx="505.7" cy="298.4" rx="3.7" ry="2.2" fill="#9A5B33" stroke="#74401F" stroke-width="0.5"/>
<ellipse cx="622.1" cy="321.6" rx="3.0" ry="2.1" fill="#C4854F" stroke="#74401F" stroke-width="0.5"/>
<ellipse cx="565.1" cy="323.2" rx="3.6" ry="2.5" fill="#8E522D" stroke="#74401F" stroke-width="0.5"/>
<ellipse cx="423.2" cy="323.6" rx="2.9" ry="2.1" fill="#AC6C40" stroke="#74401F" stroke-width="0.5"/>
<ellipse cx="468.9" cy="314.4" rx="3.0" ry="2.2" fill="#8E522D" stroke="#74401F" stroke-width="0.5"/>
<ellipse cx="541.3" cy="317.9" rx="3.6" ry="2.1" fill="#C4854F" stroke="#74401F" stroke-width="0.5"/>
<ellipse cx="697.2" cy="325.1" rx="3.7" ry="2.3" fill="#9A5B33" stroke="#74401F" stroke-width="0.5"/>
<ellipse cx="687.1" cy="321.6" rx="3.6" ry="2.5" fill="#7C4627" stroke="#74401F" stroke-width="0.5"/>
<ellipse cx="411.0" cy="332.0" rx="3.9" ry="2.2" fill="#7C4627" stroke="#74401F" stroke-width="0.5"/>
<ellipse cx="400.7" cy="325.4" rx="3.7" ry="2.2" fill="#7C4627" stroke="#74401F" stroke-width="0.5"/>
<ellipse cx="317.6" cy="331.8" rx="3.0" ry="1.7" fill="#AC6C40" stroke="#74401F" stroke-width="0.5"/>
<ellipse cx="363.5" cy="322.4" rx="3.5" ry="2.2" fill="#C4854F" stroke="#74401F" stroke-width="0.5"/>
<ellipse cx="480.6" cy="306.4" rx="3.9" ry="2.5" fill="#7C4627" stroke="#74401F" stroke-width="0.5"/>
<ellipse cx="520.5" cy="328.0" rx="3.6" ry="2.2" fill="#AC6C40" stroke="#74401F" stroke-width="0.5"/>
<ellipse cx="535.0" cy="323.5" rx="3.1" ry="1.8" fill="#AC6C40" stroke="#74401F" stroke-width="0.5"/>
<ellipse cx="553.8" cy="316.8" rx="3.9" ry="2.8" fill="#B3723F" stroke="#74401F" stroke-width="0.5"/>
<ellipse cx="387.6" cy="316.4" rx="2.8" ry="1.9" fill="#9A5B33" stroke="#74401F" stroke-width="0.5"/>
<ellipse cx="449.6" cy="324.3" rx="3.5" ry="2.1" fill="#8E522D" stroke="#74401F" stroke-width="0.5"/>
<ellipse cx="479.8" cy="333.0" rx="2.9" ry="2.0" fill="#B3723F" stroke="#74401F" stroke-width="0.5"/>
<ellipse cx="342.5" cy="323.4" rx="3.3" ry="2.1" fill="#C4854F" stroke="#74401F" stroke-width="0.5"/>
<ellipse cx="693.3" cy="328.2" rx="3.3" ry="1.9" fill="#BC7C48" stroke="#74401F" stroke-width="0.5"/>
<ellipse cx="359.1" cy="320.1" rx="3.7" ry="2.4" fill="#9A5B33" stroke="#74401F" stroke-width="0.5"/>
<ellipse cx="444.5" cy="322.5" rx="3.9" ry="2.4" fill="#9A5B33" stroke="#74401F" stroke-width="0.5"/>
<ellipse cx="668.0" cy="319.1" rx="3.4" ry="2.5" fill="#A0623A" stroke="#74401F" stroke-width="0.5"/>
<ellipse cx="586.4" cy="323.2" rx="4.0" ry="2.4" fill="#A0623A" stroke="#74401F" stroke-width="0.5"/>
<ellipse cx="444.2" cy="317.9" rx="2.9" ry="1.9" fill="#7C4627" stroke="#74401F" stroke-width="0.5"/>
<ellipse cx="454.1" cy="316.4" rx="2.7" ry="1.8" fill="#AC6C40" stroke="#74401F" stroke-width="0.5"/>
<ellipse cx="685.1" cy="323.2" rx="3.7" ry="2.4" fill="#7C4627" stroke="#74401F" stroke-width="0.5"/>
<ellipse cx="429.7" cy="325.0" rx="2.6" ry="1.7" fill="#A0623A" stroke="#74401F" stroke-width="0.5"/>
<ellipse cx="390.5" cy="309.2" rx="3.4" ry="2.0" fill="#A0623A" stroke="#74401F" stroke-width="0.5"/>
<ellipse cx="694.5" cy="321.0" rx="3.6" ry="2.5" fill="#C4854F" stroke="#74401F" stroke-width="0.5"/>
<ellipse cx="314.4" cy="332.9" rx="3.2" ry="2.2" fill="#AC6C40" stroke="#74401F" stroke-width="0.5"/>
<ellipse cx="419.2" cy="311.7" rx="3.9" ry="2.4" fill="#B3723F" stroke="#74401F" stroke-width="0.5"/>
<ellipse cx="417.4" cy="320.7" rx="2.9" ry="2.1" fill="#8E522D" stroke="#74401F" stroke-width="0.5"/>
<ellipse cx="367.2" cy="331.7" rx="3.5" ry="2.4" fill="#C4854F" stroke="#74401F" stroke-width="0.5"/>
<ellipse cx="504.6" cy="310.1" rx="3.9" ry="2.5" fill="#B3723F" stroke="#74401F" stroke-width="0.5"/>
<ellipse cx="512.4" cy="333.1" rx="3.3" ry="2.2" fill="#B3723F" stroke="#74401F" stroke-width="0.5"/>
<ellipse cx="471.7" cy="314.5" rx="3.7" ry="2.2" fill="#BC7C48" stroke="#74401F" stroke-width="0.5"/>
<ellipse cx="632.0" cy="304.2" rx="3.8" ry="2.4" fill="#AC6C40" stroke="#74401F" stroke-width="0.5"/>
<ellipse cx="342.3" cy="319.8" rx="3.9" ry="2.4" fill="#A0623A" stroke="#74401F" stroke-width="0.5"/>
<ellipse cx="667.6" cy="324.7" rx="3.3" ry="2.5" fill="#8E522D" stroke="#74401F" stroke-width="0.5"/>
<ellipse cx="363.5" cy="317.7" rx="2.9" ry="1.7" fill="#B3723F" stroke="#74401F" stroke-width="0.5"/>
<ellipse cx="476.9" cy="307.8" rx="3.9" ry="2.5" fill="#8E522D" stroke="#74401F" stroke-width="0.5"/>
<ellipse cx="614.5" cy="306.9" rx="3.6" ry="2.1" fill="#9A5B33" stroke="#74401F" stroke-width="0.5"/>
<ellipse cx="621.3" cy="300.7" rx="3.1" ry="2.2" fill="#7C4627" stroke="#74401F" stroke-width="0.5"/>
<ellipse cx="703.1" cy="325.9" rx="2.9" ry="1.7" fill="#7C4627" stroke="#74401F" stroke-width="0.5"/>
<ellipse cx="569.8" cy="329.4" rx="3.3" ry="2.2" fill="#B3723F" stroke="#74401F" stroke-width="0.5"/>
<ellipse cx="573.0" cy="325.8" rx="3.3" ry="2.3" fill="#B3723F" stroke="#74401F" stroke-width="0.5"/>
<ellipse cx="360.1" cy="323.7" rx="3.2" ry="2.0" fill="#7C4627" stroke="#74401F" stroke-width="0.5"/>
<ellipse cx="517.0" cy="310.1" rx="3.0" ry="1.8" fill="#A0623A" stroke="#74401F" stroke-width="0.5"/>
<ellipse cx="486.0" cy="310.8" rx="2.8" ry="1.8" fill="#C4854F" stroke="#74401F" stroke-width="0.5"/>
<ellipse cx="547.1" cy="321.7" rx="2.9" ry="1.6" fill="#B3723F" stroke="#74401F" stroke-width="0.5"/>
<ellipse cx="687.4" cy="321.7" rx="3.3" ry="2.0" fill="#B3723F" stroke="#74401F" stroke-width="0.5"/>
<ellipse cx="675.1" cy="320.1" rx="3.5" ry="2.3" fill="#9A5B33" stroke="#74401F" stroke-width="0.5"/>
<ellipse cx="487.5" cy="303.0" rx="2.9" ry="2.0" fill="#7C4627" stroke="#74401F" stroke-width="0.5"/>
<ellipse cx="354.2" cy="326.7" rx="4.0" ry="2.8" fill="#9A5B33" stroke="#74401F" stroke-width="0.5"/>
<ellipse cx="677.6" cy="332.9" rx="3.2" ry="1.9" fill="#9A5B33" stroke="#74401F" stroke-width="0.5"/>
<ellipse cx="576.9" cy="323.6" rx="3.8" ry="2.8" fill="#C4854F" stroke="#74401F" stroke-width="0.5"/>
<ellipse cx="348.3" cy="326.9" rx="3.2" ry="1.9" fill="#A0623A" stroke="#74401F" stroke-width="0.5"/>
<ellipse cx="545.4" cy="323.0" rx="2.9" ry="2.1" fill="#A0623A" stroke="#74401F" stroke-width="0.5"/>
<ellipse cx="485.6" cy="327.3" rx="2.9" ry="2.0" fill="#7C4627" stroke="#74401F" stroke-width="0.5"/>
<ellipse cx="698.6" cy="330.4" rx="2.7" ry="1.9" fill="#B3723F" stroke="#74401F" stroke-width="0.5"/>
<ellipse cx="352.8" cy="323.8" rx="3.5" ry="2.4" fill="#7C4627" stroke="#74401F" stroke-width="0.5"/>
<ellipse cx="648.6" cy="322.9" rx="3.1" ry="1.8" fill="#AC6C40" stroke="#74401F" stroke-width="0.5"/>
<ellipse cx="524.5" cy="315.9" rx="4.0" ry="2.4" fill="#AC6C40" stroke="#74401F" stroke-width="0.5"/>
<ellipse cx="488.5" cy="323.8" rx="3.0" ry="2.1" fill="#8E522D" stroke="#74401F" stroke-width="0.5"/>
<ellipse cx="674.9" cy="318.8" rx="2.9" ry="1.7" fill="#8E522D" stroke="#74401F" stroke-width="0.5"/>
<ellipse cx="601.0" cy="309.2" rx="3.7" ry="2.3" fill="#9A5B33" stroke="#74401F" stroke-width="0.5"/>
<ellipse cx="704.2" cy="326.9" rx="3.1" ry="1.7" fill="#AC6C40" stroke="#74401F" stroke-width="0.5"/>
<ellipse cx="379.2" cy="331.1" rx="3.1" ry="1.8" fill="#AC6C40" stroke="#74401F" stroke-width="0.5"/>
<ellipse cx="641.7" cy="311.7" rx="3.9" ry="2.9" fill="#9A5B33" stroke="#74401F" stroke-width="0.5"/>
<ellipse cx="515.2" cy="321.8" rx="2.8" ry="1.9" fill="#AC6C40" stroke="#74401F" stroke-width="0.5"/>
<ellipse cx="309.0" cy="332.4" rx="3.2" ry="1.8" fill="#AC6C40" stroke="#74401F" stroke-width="0.5"/>
<ellipse cx="344.9" cy="319.4" rx="3.0" ry="2.0" fill="#8E522D" stroke="#74401F" stroke-width="0.5"/>
<ellipse cx="706.2" cy="332.4" rx="3.7" ry="2.5" fill="#B3723F" stroke="#74401F" stroke-width="0.5"/>
<ellipse cx="590.0" cy="331.3" rx="3.5" ry="2.0" fill="#B3723F" stroke="#74401F" stroke-width="0.5"/>
<ellipse cx="317.2" cy="329.2" rx="3.8" ry="2.2" fill="#BC7C48" stroke="#74401F" stroke-width="0.5"/>
<ellipse cx="385.9" cy="315.8" rx="3.4" ry="2.4" fill="#9A5B33" stroke="#74401F" stroke-width="0.5"/>
<ellipse cx="326.6" cy="333.3" rx="3.0" ry="2.1" fill="#A0623A" stroke="#74401F" stroke-width="0.5"/>
<ellipse cx="468.6" cy="329.2" rx="3.7" ry="2.4" fill="#A0623A" stroke="#74401F" stroke-width="0.5"/>
<ellipse cx="609.6" cy="331.8" rx="3.8" ry="2.5" fill="#7C4627" stroke="#74401F" stroke-width="0.5"/>
<ellipse cx="422.0" cy="318.7" rx="2.7" ry="2.0" fill="#B3723F" stroke="#74401F" stroke-width="0.5"/>
<ellipse cx="342.3" cy="323.9" rx="3.4" ry="2.3" fill="#7C4627" stroke="#74401F" stroke-width="0.5"/>
<ellipse cx="684.0" cy="320.9" rx="2.8" ry="1.9" fill="#AC6C40" stroke="#74401F" stroke-width="0.5"/>
<ellipse cx="380.6" cy="329.7" rx="2.8" ry="1.6" fill="#8E522D" stroke="#74401F" stroke-width="0.5"/>
<ellipse cx="456.6" cy="324.5" rx="2.8" ry="2.1" fill="#BC7C48" stroke="#74401F" stroke-width="0.5"/>
<ellipse cx="669.2" cy="323.9" rx="2.7" ry="1.9" fill="#B3723F" stroke="#74401F" stroke-width="0.5"/>
<ellipse cx="570.7" cy="330.5" rx="2.6" ry="1.5" fill="#C4854F" stroke="#74401F" stroke-width="0.5"/>
<ellipse cx="360.0" cy="321.4" rx="3.8" ry="2.6" fill="#A0623A" stroke="#74401F" stroke-width="0.5"/>
<ellipse cx="512.6" cy="307.4" rx="3.8" ry="2.6" fill="#AC6C40" stroke="#74401F" stroke-width="0.5"/>
<ellipse cx="437.0" cy="317.5" rx="2.8" ry="1.8" fill="#C4854F" stroke="#74401F" stroke-width="0.5"/>
<ellipse cx="430.4" cy="317.4" rx="3.1" ry="1.8" fill="#7C4627" stroke="#74401F" stroke-width="0.5"/>
<ellipse cx="631.3" cy="302.2" rx="3.1" ry="2.3" fill="#A0623A" stroke="#74401F" stroke-width="0.5"/>
<ellipse cx="617.2" cy="315.4" rx="3.7" ry="2.5" fill="#A0623A" stroke="#74401F" stroke-width="0.5"/>
<ellipse cx="537.2" cy="326.1" rx="2.8" ry="1.7" fill="#BC7C48" stroke="#74401F" stroke-width="0.5"/>
<ellipse cx="315.6" cy="325.5" rx="2.9" ry="2.1" fill="#BC7C48" stroke="#74401F" stroke-width="0.5"/>
<ellipse cx="629.6" cy="329.2" rx="3.0" ry="1.8" fill="#AC6C40" stroke="#74401F" stroke-width="0.5"/>
<ellipse cx="588.0" cy="321.4" rx="3.1" ry="1.8" fill="#9A5B33" stroke="#74401F" stroke-width="0.5"/>
<ellipse cx="494.1" cy="326.4" rx="3.1" ry="1.9" fill="#A0623A" stroke="#74401F" stroke-width="0.5"/>
<ellipse cx="609.2" cy="329.4" rx="3.1" ry="2.1" fill="#BC7C48" stroke="#74401F" stroke-width="0.5"/>
<ellipse cx="584.2" cy="321.2" rx="3.4" ry="2.3" fill="#9A5B33" stroke="#74401F" stroke-width="0.5"/>
<ellipse cx="418.6" cy="330.9" rx="3.7" ry="2.3" fill="#A0623A" stroke="#74401F" stroke-width="0.5"/>
<ellipse cx="588.3" cy="326.9" rx="3.2" ry="1.8" fill="#AC6C40" stroke="#74401F" stroke-width="0.5"/>
<ellipse cx="531.8" cy="324.7" rx="3.2" ry="2.1" fill="#A0623A" stroke="#74401F" stroke-width="0.5"/>
<ellipse cx="361.9" cy="320.5" rx="3.6" ry="2.6" fill="#9A5B33" stroke="#74401F" stroke-width="0.5"/>
<ellipse cx="566.9" cy="329.9" rx="3.6" ry="2.6" fill="#B3723F" stroke="#74401F" stroke-width="0.5"/>
<ellipse cx="399.1" cy="323.1" rx="3.7" ry="2.7" fill="#BC7C48" stroke="#74401F" stroke-width="0.5"/>
<ellipse cx="522.6" cy="328.4" rx="2.8" ry="1.8" fill="#BC7C48" stroke="#74401F" stroke-width="0.5"/>
<ellipse cx="699.2" cy="331.4" rx="2.6" ry="1.9" fill="#8E522D" stroke="#74401F" stroke-width="0.5"/>
<ellipse cx="582.9" cy="320.2" rx="3.6" ry="2.3" fill="#B3723F" stroke="#74401F" stroke-width="0.5"/>
<ellipse cx="455.0" cy="331.3" rx="3.6" ry="2.3" fill="#7C4627" stroke="#74401F" stroke-width="0.5"/>
<ellipse cx="695.9" cy="320.8" rx="3.9" ry="2.7" fill="#9A5B33" stroke="#74401F" stroke-width="0.5"/>
<ellipse cx="531.0" cy="324.9" rx="2.6" ry="1.7" fill="#BC7C48" stroke="#74401F" stroke-width="0.5"/>
<ellipse cx="458.7" cy="333.4" rx="3.5" ry="2.0" fill="#A0623A" stroke="#74401F" stroke-width="0.5"/>
<ellipse cx="497.5" cy="298.3" rx="3.2" ry="1.9" fill="#9A5B33" stroke="#74401F" stroke-width="0.5"/>
<ellipse cx="569.6" cy="323.2" rx="3.4" ry="2.4" fill="#9A5B33" stroke="#74401F" stroke-width="0.5"/>
<ellipse cx="542.3" cy="324.7" rx="3.4" ry="2.2" fill="#8E522D" stroke="#74401F" stroke-width="0.5"/>
<ellipse cx="641.7" cy="310.4" rx="2.8" ry="1.7" fill="#C4854F" stroke="#74401F" stroke-width="0.5"/>
<ellipse cx="527.1" cy="331.9" rx="3.5" ry="2.1" fill="#8E522D" stroke="#74401F" stroke-width="0.5"/>
<ellipse cx="397.5" cy="303.8" rx="2.6" ry="1.6" fill="#B3723F" stroke="#74401F" stroke-width="0.5"/>
<ellipse cx="314.1" cy="328.9" rx="3.9" ry="2.8" fill="#BC7C48" stroke="#74401F" stroke-width="0.5"/>
<ellipse cx="549.3" cy="320.5" rx="3.6" ry="2.5" fill="#C4854F" stroke="#74401F" stroke-width="0.5"/>
<ellipse cx="498.3" cy="312.8" rx="3.0" ry="1.7" fill="#9A5B33" stroke="#74401F" stroke-width="0.5"/>
<ellipse cx="690.7" cy="322.7" rx="3.5" ry="2.3" fill="#B3723F" stroke="#74401F" stroke-width="0.5"/>
<ellipse cx="652.8" cy="330.0" rx="3.3" ry="1.9" fill="#AC6C40" stroke="#74401F" stroke-width="0.5"/>
<ellipse cx="457.2" cy="326.3" rx="3.4" ry="2.1" fill="#7C4627" stroke="#74401F" stroke-width="0.5"/>
<ellipse cx="677.7" cy="322.9" rx="3.7" ry="2.7" fill="#7C4627" stroke="#74401F" stroke-width="0.5"/>
<ellipse cx="441.4" cy="328.3" rx="3.7" ry="2.2" fill="#B3723F" stroke="#74401F" stroke-width="0.5"/>
<ellipse cx="546.1" cy="330.2" rx="2.7" ry="1.8" fill="#7C4627" stroke="#74401F" stroke-width="0.5"/>
<ellipse cx="705.5" cy="333.1" rx="2.7" ry="1.7" fill="#BC7C48" stroke="#74401F" stroke-width="0.5"/>
<ellipse cx="524.1" cy="332.6" rx="3.0" ry="1.6" fill="#AC6C40" stroke="#74401F" stroke-width="0.5"/>
<ellipse cx="589.3" cy="326.6" rx="2.7" ry="1.8" fill="#BC7C48" stroke="#74401F" stroke-width="0.5"/>
<ellipse cx="662.3" cy="319.8" rx="3.7" ry="2.1" fill="#BC7C48" stroke="#74401F" stroke-width="0.5"/>
<ellipse cx="317.9" cy="326.3" rx="2.6" ry="1.5" fill="#B3723F" stroke="#74401F" stroke-width="0.5"/>
<ellipse cx="403.6" cy="323.2" rx="3.5" ry="2.0" fill="#7C4627" stroke="#74401F" stroke-width="0.5"/>
<ellipse cx="336.9" cy="329.0" rx="3.1" ry="1.8" fill="#A0623A" stroke="#74401F" stroke-width="0.5"/>
<ellipse cx="607.8" cy="326.1" rx="3.8" ry="2.4" fill="#8E522D" stroke="#74401F" stroke-width="0.5"/>
<ellipse cx="699.8" cy="332.7" rx="3.3" ry="2.0" fill="#7C4627" stroke="#74401F" stroke-width="0.5"/>
<ellipse cx="704.5" cy="331.4" rx="3.5" ry="2.5" fill="#BC7C48" stroke="#74401F" stroke-width="0.5"/>
<ellipse cx="558.2" cy="325.7" rx="3.7" ry="2.1" fill="#B3723F" stroke="#74401F" stroke-width="0.5"/>
<ellipse cx="527.2" cy="330.7" rx="2.7" ry="1.9" fill="#9A5B33" stroke="#74401F" stroke-width="0.5"/>
<ellipse cx="446.8" cy="322.6" rx="3.8" ry="2.3" fill="#8E522D" stroke="#74401F" stroke-width="0.5"/>
<ellipse cx="309.2" cy="329.8" rx="3.6" ry="2.1" fill="#AC6C40" stroke="#74401F" stroke-width="0.5"/>
<ellipse cx="486.9" cy="319.6" rx="3.6" ry="2.5" fill="#B3723F" stroke="#74401F" stroke-width="0.5"/>
<ellipse cx="705.7" cy="326.9" rx="3.8" ry="2.3" fill="#B3723F" stroke="#74401F" stroke-width="0.5"/>
<ellipse cx="482.3" cy="309.9" rx="3.4" ry="2.6" fill="#8E522D" stroke="#74401F" stroke-width="0.5"/>
<ellipse cx="684.5" cy="327.5" rx="2.9" ry="1.7" fill="#A0623A" stroke="#74401F" stroke-width="0.5"/>
<ellipse cx="485.4" cy="333.0" rx="3.1" ry="1.9" fill="#9A5B33" stroke="#74401F" stroke-width="0.5"/>
<ellipse cx="685.5" cy="330.1" rx="3.3" ry="1.9" fill="#BC7C48" stroke="#74401F" stroke-width="0.5"/>
<ellipse cx="629.7" cy="304.3" rx="2.7" ry="1.9" fill="#9A5B33" stroke="#74401F" stroke-width="0.5"/>
<ellipse cx="534.7" cy="323.9" rx="2.7" ry="1.6" fill="#7C4627" stroke="#74401F" stroke-width="0.5"/>
<ellipse cx="652.6" cy="316.1" rx="3.5" ry="2.2" fill="#9A5B33" stroke="#74401F" stroke-width="0.5"/>
<ellipse cx="460.5" cy="317.4" rx="3.8" ry="2.5" fill="#9A5B33" stroke="#74401F" stroke-width="0.5"/>
<ellipse cx="424.3" cy="316.5" rx="3.4" ry="2.5" fill="#C4854F" stroke="#74401F" stroke-width="0.5"/>
<ellipse cx="440.7" cy="319.2" rx="3.5" ry="2.4" fill="#8E522D" stroke="#74401F" stroke-width="0.5"/>
<ellipse cx="488.1" cy="327.1" rx="3.8" ry="2.5" fill="#9A5B33" stroke="#74401F" stroke-width="0.5"/>
<ellipse cx="484.4" cy="322.2" rx="3.8" ry="2.3" fill="#7C4627" stroke="#74401F" stroke-width="0.5"/>
<ellipse cx="645.0" cy="318.8" rx="2.7" ry="1.5" fill="#C4854F" stroke="#74401F" stroke-width="0.5"/>
<ellipse cx="608.9" cy="320.5" rx="3.9" ry="2.7" fill="#B3723F" stroke="#74401F" stroke-width="0.5"/>
<ellipse cx="470.9" cy="324.5" rx="3.3" ry="2.0" fill="#C4854F" stroke="#74401F" stroke-width="0.5"/>
<ellipse cx="389.7" cy="328.2" rx="3.2" ry="2.4" fill="#7C4627" stroke="#74401F" stroke-width="0.5"/>
<ellipse cx="570.4" cy="318.4" rx="3.9" ry="2.3" fill="#B3723F" stroke="#74401F" stroke-width="0.5"/>
<ellipse cx="688.3" cy="332.8" rx="3.6" ry="2.6" fill="#B3723F" stroke="#74401F" stroke-width="0.5"/>
<ellipse cx="322.8" cy="325.2" rx="3.5" ry="2.5" fill="#A0623A" stroke="#74401F" stroke-width="0.5"/>
<ellipse cx="317.9" cy="333.1" rx="4.0" ry="2.8" fill="#9A5B33" stroke="#74401F" stroke-width="0.5"/>
<ellipse cx="451.9" cy="330.5" rx="2.6" ry="1.8" fill="#9A5B33" stroke="#74401F" stroke-width="0.5"/>
<ellipse cx="365.2" cy="316.6" rx="3.8" ry="2.6" fill="#9A5B33" stroke="#74401F" stroke-width="0.5"/>
<ellipse cx="434.3" cy="319.9" rx="3.9" ry="2.6" fill="#B3723F" stroke="#74401F" stroke-width="0.5"/>
<ellipse cx="424.1" cy="331.5" rx="2.6" ry="1.8" fill="#A0623A" stroke="#74401F" stroke-width="0.5"/>
<ellipse cx="672.8" cy="330.2" rx="2.6" ry="1.7" fill="#A0623A" stroke="#74401F" stroke-width="0.5"/>
<ellipse cx="626.8" cy="313.9" rx="3.8" ry="2.1" fill="#A0623A" stroke="#74401F" stroke-width="0.5"/>
<ellipse cx="416.6" cy="318.6" rx="3.8" ry="2.5" fill="#8E522D" stroke="#74401F" stroke-width="0.5"/>
<ellipse cx="467.9" cy="318.9" rx="3.6" ry="2.4" fill="#BC7C48" stroke="#74401F" stroke-width="0.5"/>
<ellipse cx="588.4" cy="332.9" rx="3.4" ry="2.0" fill="#B3723F" stroke="#74401F" stroke-width="0.5"/>
<ellipse cx="341.2" cy="329.7" rx="2.9" ry="1.8" fill="#7C4627" stroke="#74401F" stroke-width="0.5"/>
<ellipse cx="466.1" cy="330.9" rx="3.1" ry="2.1" fill="#9A5B33" stroke="#74401F" stroke-width="0.5"/>
<ellipse cx="388.5" cy="308.1" rx="2.6" ry="1.5" fill="#BC7C48" stroke="#74401F" stroke-width="0.5"/>
<ellipse cx="391.2" cy="313.0" rx="3.9" ry="2.3" fill="#B3723F" stroke="#74401F" stroke-width="0.5"/>
<ellipse cx="650.7" cy="328.5" rx="3.4" ry="2.1" fill="#BC7C48" stroke="#74401F" stroke-width="0.5"/>
<ellipse cx="339.0" cy="319.8" rx="3.0" ry="1.7" fill="#B3723F" stroke="#74401F" stroke-width="0.5"/>
<ellipse cx="657.0" cy="316.4" rx="3.6" ry="2.0" fill="#B3723F" stroke="#74401F" stroke-width="0.5"/>
<ellipse cx="599.7" cy="328.6" rx="3.5" ry="2.1" fill="#BC7C48" stroke="#74401F" stroke-width="0.5"/>
<ellipse cx="467.5" cy="319.8" rx="2.8" ry="2.0" fill="#9A5B33" stroke="#74401F" stroke-width="0.5"/>
<ellipse cx="684.8" cy="319.6" rx="3.0" ry="1.9" fill="#B3723F" stroke="#74401F" stroke-width="0.5"/>
<ellipse cx="653.9" cy="318.7" rx="2.9" ry="1.8" fill="#7C4627" stroke="#74401F" stroke-width="0.5"/>
<ellipse cx="570.4" cy="328.5" rx="3.4" ry="2.3" fill="#A0623A" stroke="#74401F" stroke-width="0.5"/>
<ellipse cx="353.2" cy="320.6" rx="3.5" ry="2.0" fill="#B3723F" stroke="#74401F" stroke-width="0.5"/>
<ellipse cx="373.0" cy="314.1" rx="3.4" ry="2.1" fill="#8E522D" stroke="#74401F" stroke-width="0.5"/>
<ellipse cx="503.4" cy="326.6" rx="3.6" ry="2.6" fill="#C4854F" stroke="#74401F" stroke-width="0.5"/>
<ellipse cx="475.5" cy="317.3" rx="3.1" ry="1.7" fill="#AC6C40" stroke="#74401F" stroke-width="0.5"/>
<ellipse cx="606.3" cy="316.6" rx="2.6" ry="1.6" fill="#9A5B33" stroke="#74401F" stroke-width="0.5"/>
<ellipse cx="492.7" cy="304.0" rx="3.7" ry="2.7" fill="#A0623A" stroke="#74401F" stroke-width="0.5"/>
<ellipse cx="689.0" cy="324.5" rx="4.0" ry="2.2" fill="#C4854F" stroke="#74401F" stroke-width="0.5"/>
<ellipse cx="557.8" cy="327.5" rx="3.5" ry="2.3" fill="#BC7C48" stroke="#74401F" stroke-width="0.5"/>
<ellipse cx="522.3" cy="325.8" rx="2.9" ry="1.9" fill="#AC6C40" stroke="#74401F" stroke-width="0.5"/>
<ellipse cx="338.7" cy="330.0" rx="2.8" ry="1.8" fill="#8E522D" stroke="#74401F" stroke-width="0.5"/>
<ellipse cx="535.7" cy="332.9" rx="3.9" ry="2.9" fill="#AC6C40" stroke="#74401F" stroke-width="0.5"/>
<ellipse cx="686.2" cy="321.2" rx="3.4" ry="2.3" fill="#8E522D" stroke="#74401F" stroke-width="0.5"/>
<ellipse cx="410.2" cy="316.0" rx="3.2" ry="2.1" fill="#C4854F" stroke="#74401F" stroke-width="0.5"/>
<ellipse cx="362.9" cy="321.0" rx="3.5" ry="2.4" fill="#8E522D" stroke="#74401F" stroke-width="0.5"/>
<ellipse cx="507.4" cy="331.8" rx="2.9" ry="1.7" fill="#BC7C48" stroke="#74401F" stroke-width="0.5"/>
<ellipse cx="339.1" cy="323.6" rx="3.8" ry="2.6" fill="#A0623A" stroke="#74401F" stroke-width="0.5"/>
<ellipse cx="702.9" cy="325.4" rx="3.9" ry="2.2" fill="#A0623A" stroke="#74401F" stroke-width="0.5"/>
<ellipse cx="540.1" cy="332.7" rx="3.7" ry="2.1" fill="#7C4627" stroke="#74401F" stroke-width="0.5"/>
<ellipse cx="405.1" cy="319.4" rx="3.3" ry="2.1" fill="#BC7C48" stroke="#74401F" stroke-width="0.5"/>
<ellipse cx="536.4" cy="325.1" rx="4.0" ry="2.8" fill="#C4854F" stroke="#74401F" stroke-width="0.5"/>
<ellipse cx="618.9" cy="315.3" rx="3.6" ry="2.4" fill="#B3723F" stroke="#74401F" stroke-width="0.5"/>
<ellipse cx="700.1" cy="331.0" rx="2.9" ry="1.9" fill="#9A5B33" stroke="#74401F" stroke-width="0.5"/>
<ellipse cx="675.0" cy="323.5" rx="3.3" ry="2.3" fill="#A0623A" stroke="#74401F" stroke-width="0.5"/>
<ellipse cx="505.7" cy="312.6" rx="3.6" ry="2.5" fill="#BC7C48" stroke="#74401F" stroke-width="0.5"/>
<ellipse cx="631.2" cy="308.1" rx="3.5" ry="2.3" fill="#B3723F" stroke="#74401F" stroke-width="0.5"/>
<ellipse cx="488.6" cy="310.8" rx="2.6" ry="1.7" fill="#AC6C40" stroke="#74401F" stroke-width="0.5"/>
<ellipse cx="428.7" cy="324.0" rx="2.7" ry="2.0" fill="#9A5B33" stroke="#74401F" stroke-width="0.5"/>
<ellipse cx="487.4" cy="311.0" rx="3.3" ry="2.2" fill="#BC7C48" stroke="#74401F" stroke-width="0.5"/>
<ellipse cx="558.0" cy="323.6" rx="3.5" ry="2.0" fill="#7C4627" stroke="#74401F" stroke-width="0.5"/>
<ellipse cx="421.6" cy="320.2" rx="3.0" ry="2.1" fill="#9A5B33" stroke="#74401F" stroke-width="0.5"/>
<ellipse cx="552.4" cy="330.2" rx="2.8" ry="2.1" fill="#7C4627" stroke="#74401F" stroke-width="0.5"/>
<ellipse cx="398.8" cy="308.4" rx="2.8" ry="1.8" fill="#B3723F" stroke="#74401F" stroke-width="0.5"/>
<ellipse cx="567.3" cy="326.0" rx="3.8" ry="2.3" fill="#B3723F" stroke="#74401F" stroke-width="0.5"/>
<ellipse cx="599.0" cy="309.9" rx="4.0" ry="2.7" fill="#AC6C40" stroke="#74401F" stroke-width="0.5"/>
<ellipse cx="459.0" cy="326.9" rx="3.0" ry="2.2" fill="#7C4627" stroke="#74401F" stroke-width="0.5"/>
<ellipse cx="389.6" cy="315.7" rx="2.9" ry="1.9" fill="#C4854F" stroke="#74401F" stroke-width="0.5"/>
<ellipse cx="504.7" cy="332.8" rx="2.8" ry="1.6" fill="#A0623A" stroke="#74401F" stroke-width="0.5"/>
<ellipse cx="708.2" cy="330.9" rx="3.6" ry="2.1" fill="#A0623A" stroke="#74401F" stroke-width="0.5"/>
<ellipse cx="355.4" cy="331.7" rx="3.1" ry="2.2" fill="#9A5B33" stroke="#74401F" stroke-width="0.5"/>
<ellipse cx="339.7" cy="331.6" rx="3.1" ry="2.2" fill="#9A5B33" stroke="#74401F" stroke-width="0.5"/>
<ellipse cx="359.1" cy="330.6" rx="3.6" ry="2.1" fill="#9A5B33" stroke="#74401F" stroke-width="0.5"/>
<ellipse cx="656.7" cy="317.6" rx="3.3" ry="2.1" fill="#A0623A" stroke="#74401F" stroke-width="0.5"/>
<ellipse cx="468.6" cy="328.1" rx="3.6" ry="2.2" fill="#AC6C40" stroke="#74401F" stroke-width="0.5"/>
<ellipse cx="655.8" cy="332.6" rx="3.4" ry="1.9" fill="#C4854F" stroke="#74401F" stroke-width="0.5"/>
<ellipse cx="676.5" cy="327.3" rx="3.5" ry="2.5" fill="#9A5B33" stroke="#74401F" stroke-width="0.5"/>
<ellipse cx="362.0" cy="316.4" rx="2.9" ry="2.0" fill="#7C4627" stroke="#74401F" stroke-width="0.5"/>
<ellipse cx="432.8" cy="330.4" rx="3.9" ry="2.9" fill="#9A5B33" stroke="#74401F" stroke-width="0.5"/>
<ellipse cx="335.8" cy="324.4" rx="3.2" ry="1.9" fill="#A0623A" stroke="#74401F" stroke-width="0.5"/>
<ellipse cx="364.0" cy="324.9" rx="4.0" ry="2.9" fill="#9A5B33" stroke="#74401F" stroke-width="0.5"/>
<ellipse cx="375.5" cy="315.9" rx="3.1" ry="1.9" fill="#C4854F" stroke="#74401F" stroke-width="0.5"/>
<ellipse cx="383.2" cy="310.1" rx="4.0" ry="2.2" fill="#9A5B33" stroke="#74401F" stroke-width="0.5"/>
</g>
<!-- hose over soil -->
<path d="M307 262 L344 312 Q349 319 357 319 H640" fill="none" stroke="#656970" stroke-width="6"/>
<!-- end cap -->
<rect x="638.5" y="313.5" width="20.5" height="10.5" fill="#F7F2EE"/>
<rect x="652" y="315.5" width="4" height="6" fill="#C7C2BE"/>

<!-- emitters -->
<g>
<rect x="391.5" y="311" width="9" height="9" rx="3.5" fill="#D8EEF3"/>
<path d="M394 320 h4 l-0.5 6 h-3 z" fill="#8CCBDD"/>
<rect x="614.5" y="311" width="9" height="9" rx="3.5" fill="#D8EEF3"/>
<path d="M617 320 h4 l-0.5 6 h-3 z" fill="#8CCBDD"/>
</g>
<!-- plants stems -->
<g fill="none" stroke="#6DC4A1" stroke-width="5.5" stroke-linecap="round">
<path d="M393 268 Q395 280 394 293"/>
<path d="M503 250 Q494 268 497.5 293"/>
<path d="M616 205 Q626 250 619 293"/>
</g>
<!-- plant 1 leaves -->
<g stroke="#C4EADB" stroke-width="1" stroke-opacity="0.6">
<path d="M354 269 Q356 240 374 237.5 Q392 237 394 256 Q394 270 388 270 Z" fill="#6DC4A1"/>
<path d="M391 255 Q393 242 404 241.5 Q418 243 424 271 Q405 266 394 270 Z" fill="#0F6064"/>
<!-- plant 2 leaves -->
<path d="M474.5 221 Q490 214 505 218 Q514 224 512 238 Q508 248 497 246 Q480 238 474.5 221 Z" fill="#0F6064"/>
<path d="M540 255 Q530 234 520 234 Q508 236 508 250 Q512 258 525 257 Z" fill="#6DC4A1"/>
<!-- plant 3 leaves -->
<path d="M574 178 Q590 170 605 172 Q616 178 615 195 Q612 209 598 207 Q582 198 574 178 Z" fill="#6DC4A1"/>
<path d="M647 208.5 Q640 190 625 188 Q611 190 610 204 Q613 216 628 214 Z" fill="#0F6064"/>
<path d="M603.5 244.3 Q610 236 617 238 Q621 243 617 247 Q610 249 603.5 244.3 Z" fill="#0F6064"/>
</g>
<g fill="none" stroke-width="1.1" stroke-linecap="round">
<path d="M366 256 Q376 250 386 245 M381 246 Q382 252 380 258" stroke="#58AD8D"/>
<path d="M398 252 Q408 255 416 264" stroke="#217173"/>
<path d="M482 224 Q495 230 508 234" stroke="#217173"/>
<path d="M514 240 Q525 246 534 252" stroke="#58AD8D"/>
<path d="M590 182 Q600 185 608 189 M596 197 Q602 193 607 188" stroke="#58AD8D"/>
<path d="M620 196 Q630 200 640 205" stroke="#217173"/>
</g>
<!-- grass -->
<g fill="#2A7563">
<path d="M26 328 L28.5 320 L29 328 Z M29 328 L32 322 L32.5 328 Z M33 328 L35.5 318 L36 328 Z M36 328 L39.5 314.5 L39.8 328 Z M39 328 L42.5 321 L42 328 Z"/>
<path d="M179 331 L186 329 L186 332 Z M185 334 L188 325 L189 334 Z M189 334 L193 323 L193.5 334 Z M195 334 L199.3 320 L200 334 Z M199 334 L204 325 L203 334 Z"/>
<path d="M215 332 L221 329.5 L221 332.5 Z M220 334 L224 327 L224.5 334 Z M225 334 L229 328 L228.5 334 Z"/>
</g>
<!-- pointers -->
<g stroke="#262322" stroke-width="1.7">
<line x1="103.5" y1="129" x2="103.5" y2="155"/>
<line x1="236.3" y1="160" x2="236.3" y2="219"/>
<line x1="317" y1="186.5" x2="255.5" y2="228"/>
<line x1="505.5" y1="185.5" x2="505.5" y2="218"/>
<line x1="646.3" y1="141" x2="646.3" y2="318"/>
</g>
<g fill="#1F1D1D">
<circle cx="103.5" cy="155" r="3.8"/>
<circle cx="236.3" cy="219" r="3.8"/>
<circle cx="255.5" cy="228" r="3.8"/>
<circle cx="505.5" cy="218" r="3.8"/>
<circle cx="646.3" cy="318" r="3.8"/>
</g>
<g stroke="#FBEFE4" stroke-width="2">
<line x1="355.8" y1="319" x2="355.8" y2="370"/>
<line x1="495.8" y1="317" x2="495.8" y2="370"/>
</g>
<g fill="#FFFFFF">
<circle cx="355.8" cy="319" r="3.8"/>
<circle cx="495.8" cy="317" r="3.8"/>
</g>

<!-- title -->
<text x="36.3" y="62" font-family="Liberation Sans" font-weight="bold" font-size="36" fill="#232120" stroke="#232120" stroke-width="1.6" letter-spacing="1.1">Parts of a Drip Irrigation System</text>
<g font-family="Liberation Sans" font-size="20" fill="#2A2725" stroke="#2A2725" stroke-width="1.0">
<text x="38.75" y="122.5" letter-spacing="1.07">Water source</text>
<text x="191.5" y="125" letter-spacing="1.33">Backflow</text>
<text x="187.3" y="151" letter-spacing="1.59">preventer</text>
<text x="326.5" y="180" letter-spacing="0.86">Pressure</text>
<text x="326.5" y="207.5" letter-spacing="1.6">regulator</text>
<text x="473.5" y="177.8" letter-spacing="1.48">Plants</text>
<text x="606.5" y="133.5" letter-spacing="1.05">End cap</text>
</g>
<g font-family="Liberation Sans" font-size="20" fill="#FBEFE4" stroke="#FBEFE4" stroke-width="1.0">
<text x="314.6" y="391" letter-spacing="1.24">Drip line</text>
<text x="453" y="392" letter-spacing="1.79">Emitters</text>
</g>
<!-- logo -->
<g fill="#FFF7F0">
<path fill-rule="evenodd" d="M639.2 368 H646.6 L650.3 394 H644.6 L644 389.5 Q641.8 395.2 635.4 395.2 Q628.8 395.2 628.8 389.2 Q628.8 384.6 632.6 382.4 Z M642.9 372.5 L644.5 384.6 H640.4 Z M634.5 386.2 Q632.4 386.2 632.4 389 Q632.4 391.6 634.5 391.6 Q636.7 391.6 636.7 389 Q636.7 386.2 634.5 386.2 Z"/>
<path d="M650.5 394 V373 H655 V375 Q657 372.5 660 372.7 Q664.2 373 664.2 378.5 V394 H659.4 V380 Q659.4 377.6 657.4 377.6 Q655.3 377.6 655.3 380 V394 Z"/>
<path fill-rule="evenodd" d="M673 373 H677.8 V395 Q677.8 400.6 671.6 400.6 Q667.2 400.6 666 397 L670.2 395.8 Q670.6 397 671.7 397 Q673 397 673 395 V390.6 Q672.2 392 670.2 392 Q665.8 392 665.8 382.5 Q665.8 372.7 670.4 372.7 Q672.3 372.7 673 374.2 Z M671.6 377.2 Q670.4 377.2 670.4 382.5 Q670.4 387.8 671.6 387.8 Q673 387.8 673 382.5 Q673 377.2 671.6 377.2 Z"/>
<rect x="679.2" y="376" width="5.6" height="18"/>
<circle cx="682" cy="371.2" r="3"/>
</g>
</svg>
</body></html>
